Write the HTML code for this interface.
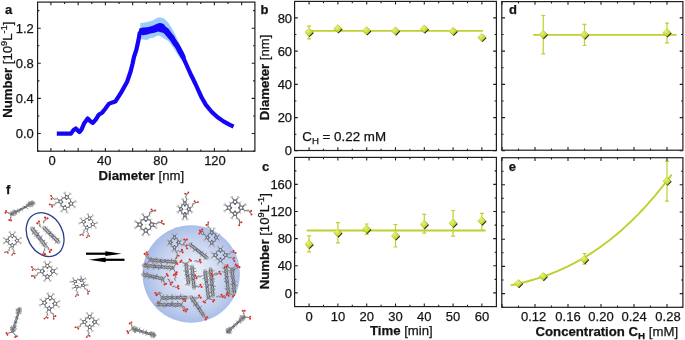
<!DOCTYPE html>
<html><head><meta charset="utf-8"><style>
html,body{margin:0;padding:0;background:#fff;}
svg{display:block;}
text{font-family:"Liberation Sans", Arial, sans-serif;fill:#141414;stroke:#141414;stroke-width:0.25px;}
</style></head><body>
<svg width="685" height="340" viewBox="0 0 685 340">
<defs>
<radialGradient id="mg" cx="0.4" cy="0.38" r="0.7"><stop offset="0" stop-color="#e6f07c"/><stop offset="0.55" stop-color="#cadb3a"/><stop offset="1" stop-color="#a9b91e"/></radialGradient>
<radialGradient id="sg" cx="0.52" cy="0.5" r="0.52"><stop offset="0" stop-color="#f0f3fc"/><stop offset="0.35" stop-color="#dce4f6"/><stop offset="0.75" stop-color="#bfcdee"/><stop offset="1" stop-color="#a6bbe8"/></radialGradient>
<filter id="mb" x="-5%" y="-5%" width="110%" height="110%"><feGaussianBlur stdDeviation="0.3"/></filter>
</defs>
<rect width="685" height="340" fill="#fff"/>
<polygon points="140.3,23 143,22.8 147,21.9 150,21.2 153.4,20.2 156,18.5 158.5,17.3 160,17.4 162,17.8 164,18.6 166,20.2 168.5,23 171.5,27.5 174.5,33 177.5,39.5 180.5,46 183,52 185,57 186,61 182,61 178.5,56 175,50.5 172.5,46.5 170,43 167.5,40.5 165.6,39.4 163.6,38.3 161,36.5 158.5,35.5 156,36.2 153.4,37.8 150.3,38 147.2,40 143.2,39.6 140.3,39.6" fill="#9ccdf8"/>
<polyline points="56.8,133.6 71,133.6 73.6,129.9 75.8,128.5 78,130.7 79.4,132.1 81.6,129.4 84.2,123.2 87.7,118.4 90.4,121.2 92.9,122.9 95.9,119.4 98.8,114.7 102.4,112.4 105.3,108.8 108.8,103.9 112.4,102.4 115.3,101.5 118.2,97.1 121.2,92.4 124.5,86.5 127.1,81.8 130.6,71.5 132.5,64 134.1,56.5 136.3,50 138.5,40 139.6,33.5 141,31.3 144,31.2 147.2,30.8 150.3,30 153.4,29.3 156.5,27.5 159.6,26.8 162.5,27.5 165.6,30.5 169,33.5 172.5,37.5 175.7,43.5 179.5,51.5 183.2,57.6 187,66 191.2,75.3 195.5,84 199.5,92.9 201.8,97.8 205.9,104.9 211.8,112 217.6,117.3 223.5,121.4 229.4,124.7 233.6,126.7" fill="none" stroke="#1405f8" stroke-width="4.2" stroke-linejoin="round" stroke-linecap="butt"/>
<polygon points="139.3,28.6 141,28.1 143.2,27.6 147.2,27.2 150.3,26.5 153.4,25.5 156,24.2 158.5,23.2 160,23 161.5,23.2 163.6,24.1 165.6,26.5 168.8,29 171.5,33 175,38.5 178.8,43.5 180.6,46.5 182.8,50.5 184.8,54.5 186,57.6 181,58 178.5,52.5 175.5,48 173,45 170.5,41 168,38 165.6,35.3 163.6,33 160,31.9 158.5,31.4 156,32.2 153.4,33 150.3,33.6 147.2,34.4 143.2,35.3 141.1,34.8 139,34" fill="#1405f8"/>
<rect x="37.6" y="2.1" width="217.3" height="149.1" fill="none" stroke="#1f1f1f" stroke-width="1.2"/>
<path d="M50.9 151.2v-3.2M50.9 2.1v3.2M78.15 151.2v-3.2M78.15 2.1v3.2M105.4 151.2v-3.2M105.4 2.1v3.2M132.65 151.2v-3.2M132.65 2.1v3.2M159.9 151.2v-3.2M159.9 2.1v3.2M187.15 151.2v-3.2M187.15 2.1v3.2M214.4 151.2v-3.2M214.4 2.1v3.2M241.65 151.2v-3.2M241.65 2.1v3.2M64.53 151.2v-1.8M64.53 2.1v1.8M91.78 151.2v-1.8M91.78 2.1v1.8M119.03 151.2v-1.8M119.03 2.1v1.8M146.28 151.2v-1.8M146.28 2.1v1.8M173.53 151.2v-1.8M173.53 2.1v1.8M200.78 151.2v-1.8M200.78 2.1v1.8M228.03 151.2v-1.8M228.03 2.1v1.8" stroke="#1f1f1f" stroke-width="1.1" fill="none"/>
<path d="M37.6 133.5h3.2M254.9 133.5h-3.2M37.6 98.4h3.2M254.9 98.4h-3.2M37.6 63.3h3.2M254.9 63.3h-3.2M37.6 28.2h3.2M254.9 28.2h-3.2M37.6 151.05h1.8M254.9 151.05h-1.8M37.6 115.95h1.8M254.9 115.95h-1.8M37.6 80.85h1.8M254.9 80.85h-1.8M37.6 45.75h1.8M254.9 45.75h-1.8M37.6 10.65h1.8M254.9 10.65h-1.8" stroke="#1f1f1f" stroke-width="1.1" fill="none"/>
<text x="52" y="165.3" font-size="13" text-anchor="middle" font-weight="normal" >0</text>
<text x="104.3" y="165.3" font-size="13" text-anchor="middle" font-weight="normal" >40</text>
<text x="160.6" y="165.3" font-size="13" text-anchor="middle" font-weight="normal" >80</text>
<text x="215" y="165.3" font-size="13" text-anchor="middle" font-weight="normal" >120</text>
<text x="33.8" y="138.1" font-size="13" text-anchor="end" font-weight="normal" >0.0</text>
<text x="33.8" y="103" font-size="13" text-anchor="end" font-weight="normal" >0.4</text>
<text x="33.8" y="67.9" font-size="13" text-anchor="end" font-weight="normal" >0.8</text>
<text x="33.8" y="32.8" font-size="13" text-anchor="end" font-weight="normal" >1.2</text>
<text x="98.5" y="180.2" font-size="13.2" text-anchor="start" font-weight="normal" ><tspan font-weight="bold">Diameter</tspan> [nm]</text>
<text x="11.6" y="117.7" font-size="13.2" text-anchor="start" font-weight="normal" transform="rotate(-90 11.6 117.7)"><tspan font-weight="bold">Number</tspan> [10<tspan font-size="9.2" dy="-4.6">9</tspan><tspan dy="4.6">L</tspan><tspan font-size="9.2" dy="-4.6">-1</tspan><tspan dy="4.6">]</tspan></text>
<text x="5" y="14" font-size="13" text-anchor="start" font-weight="bold" >a</text>
<line x1="306" y1="30.8" x2="482.9" y2="30.8" stroke="#bfd030" stroke-width="1.8"/>
<path d="M309.1 26.1V38.8M307.1 26.1h4M307.1 38.8h4" stroke="#bfd030" stroke-width="1.2" fill="none"/>
<path d="M309.7 28.8l4.1 4.1l-4.1 4.1l-4.1-4.1z" fill="#1e2008"/>
<path d="M308.9 27.8l4.3 4.3l-4.3 4.3l-4.3-4.3z" fill="url(#mg)"/>
<path d="M338.5 25.3l4.1 4.1l-4.1 4.1l-4.1-4.1z" fill="#1e2008"/>
<path d="M337.7 24.3l4.3 4.3l-4.3 4.3l-4.3-4.3z" fill="url(#mg)"/>
<path d="M367.3 27.3l4.1 4.1l-4.1 4.1l-4.1-4.1z" fill="#1e2008"/>
<path d="M366.5 26.3l4.3 4.3l-4.3 4.3l-4.3-4.3z" fill="url(#mg)"/>
<path d="M396.1 27.5l4.1 4.1l-4.1 4.1l-4.1-4.1z" fill="#1e2008"/>
<path d="M395.3 26.5l4.3 4.3l-4.3 4.3l-4.3-4.3z" fill="url(#mg)"/>
<path d="M424.9 25.5l4.1 4.1l-4.1 4.1l-4.1-4.1z" fill="#1e2008"/>
<path d="M424.1 24.5l4.3 4.3l-4.3 4.3l-4.3-4.3z" fill="url(#mg)"/>
<path d="M453.7 27.8l4.1 4.1l-4.1 4.1l-4.1-4.1z" fill="#1e2008"/>
<path d="M452.9 26.8l4.3 4.3l-4.3 4.3l-4.3-4.3z" fill="url(#mg)"/>
<path d="M482.5 33.9l4.1 4.1l-4.1 4.1l-4.1-4.1z" fill="#1e2008"/>
<path d="M481.7 32.9l4.3 4.3l-4.3 4.3l-4.3-4.3z" fill="url(#mg)"/>
<rect x="294.6" y="1.4" width="201.8" height="149.1" fill="none" stroke="#1f1f1f" stroke-width="1.2"/>
<path d="M309.1 150.5v-3.2M309.1 1.4v3.2M337.9 150.5v-3.2M337.9 1.4v3.2M366.7 150.5v-3.2M366.7 1.4v3.2M395.5 150.5v-3.2M395.5 1.4v3.2M424.3 150.5v-3.2M424.3 1.4v3.2M453.1 150.5v-3.2M453.1 1.4v3.2M481.9 150.5v-3.2M481.9 1.4v3.2M323.5 150.5v-1.8M323.5 1.4v1.8M352.3 150.5v-1.8M352.3 1.4v1.8M381.1 150.5v-1.8M381.1 1.4v1.8M409.9 150.5v-1.8M409.9 1.4v1.8M438.7 150.5v-1.8M438.7 1.4v1.8M467.5 150.5v-1.8M467.5 1.4v1.8" stroke="#1f1f1f" stroke-width="1.1" fill="none"/>
<path d="M294.6 150.8h3.2M496.4 150.8h-3.2M294.6 117.58h3.2M496.4 117.58h-3.2M294.6 84.36h3.2M496.4 84.36h-3.2M294.6 51.14h3.2M496.4 51.14h-3.2M294.6 17.92h3.2M496.4 17.92h-3.2M294.6 134.19h1.8M496.4 134.19h-1.8M294.6 100.97h1.8M496.4 100.97h-1.8M294.6 67.75h1.8M496.4 67.75h-1.8M294.6 34.53h1.8M496.4 34.53h-1.8" stroke="#1f1f1f" stroke-width="1.1" fill="none"/>
<text x="292.1" y="155.4" font-size="13" text-anchor="end" font-weight="normal" >0</text>
<text x="292.1" y="122.18" font-size="13" text-anchor="end" font-weight="normal" >20</text>
<text x="292.1" y="88.96" font-size="13" text-anchor="end" font-weight="normal" >40</text>
<text x="292.1" y="55.74" font-size="13" text-anchor="end" font-weight="normal" >60</text>
<text x="292.1" y="22.52" font-size="13" text-anchor="end" font-weight="normal" >80</text>
<text x="302.3" y="141.2" font-size="13.35" text-anchor="start" font-weight="normal" >C<tspan font-size="9.6" dy="2.5">H</tspan><tspan dy="-2.5"> = 0.22 mM</tspan></text>
<text x="268.9" y="120.3" font-size="13.2" text-anchor="start" font-weight="normal" transform="rotate(-90 268.9 120.3)"><tspan font-weight="bold">Diameter</tspan> [nm]</text>
<text x="260.6" y="14.1" font-size="13" text-anchor="start" font-weight="bold" >b</text>
<line x1="306.8" y1="230.5" x2="485.6" y2="230.5" stroke="#bfd030" stroke-width="1.9"/>
<path d="M309.1 235.8V251.8M307.1 235.8h4M307.1 251.8h4" stroke="#bfd030" stroke-width="1.2" fill="none"/>
<path d="M337.9 222.6V242.8M335.9 222.6h4M335.9 242.8h4" stroke="#bfd030" stroke-width="1.2" fill="none"/>
<path d="M366.7 224V234.4M364.7 224h4M364.7 234.4h4" stroke="#bfd030" stroke-width="1.2" fill="none"/>
<path d="M395.5 224.5V247M393.5 224.5h4M393.5 247h4" stroke="#bfd030" stroke-width="1.2" fill="none"/>
<path d="M424.3 214.3V233.1M422.3 214.3h4M422.3 233.1h4" stroke="#bfd030" stroke-width="1.2" fill="none"/>
<path d="M453.1 210.5V236.2M451.1 210.5h4M451.1 236.2h4" stroke="#bfd030" stroke-width="1.2" fill="none"/>
<path d="M481.9 213.4V230.3M479.9 213.4h4M479.9 230.3h4" stroke="#bfd030" stroke-width="1.2" fill="none"/>
<path d="M309.7 240.8l4.1 4.1l-4.1 4.1l-4.1-4.1z" fill="#1e2008"/>
<path d="M308.9 239.8l4.3 4.3l-4.3 4.3l-4.3-4.3z" fill="url(#mg)"/>
<path d="M338.5 229.5l4.1 4.1l-4.1 4.1l-4.1-4.1z" fill="#1e2008"/>
<path d="M337.7 228.5l4.3 4.3l-4.3 4.3l-4.3-4.3z" fill="url(#mg)"/>
<path d="M367.3 225.8l4.1 4.1l-4.1 4.1l-4.1-4.1z" fill="#1e2008"/>
<path d="M366.5 224.8l4.3 4.3l-4.3 4.3l-4.3-4.3z" fill="url(#mg)"/>
<path d="M396.1 232.4l4.1 4.1l-4.1 4.1l-4.1-4.1z" fill="#1e2008"/>
<path d="M395.3 231.4l4.3 4.3l-4.3 4.3l-4.3-4.3z" fill="url(#mg)"/>
<path d="M424.9 221l4.1 4.1l-4.1 4.1l-4.1-4.1z" fill="#1e2008"/>
<path d="M424.1 220l4.3 4.3l-4.3 4.3l-4.3-4.3z" fill="url(#mg)"/>
<path d="M453.7 219.8l4.1 4.1l-4.1 4.1l-4.1-4.1z" fill="#1e2008"/>
<path d="M452.9 218.8l4.3 4.3l-4.3 4.3l-4.3-4.3z" fill="url(#mg)"/>
<path d="M482.5 217.5l4.1 4.1l-4.1 4.1l-4.1-4.1z" fill="#1e2008"/>
<path d="M481.7 216.5l4.3 4.3l-4.3 4.3l-4.3-4.3z" fill="url(#mg)"/>
<rect x="294.6" y="157.4" width="201.8" height="149.2" fill="none" stroke="#1f1f1f" stroke-width="1.2"/>
<path d="M309.1 306.6v-3.2M309.1 157.4v3.2M337.9 306.6v-3.2M337.9 157.4v3.2M366.7 306.6v-3.2M366.7 157.4v3.2M395.5 306.6v-3.2M395.5 157.4v3.2M424.3 306.6v-3.2M424.3 157.4v3.2M453.1 306.6v-3.2M453.1 157.4v3.2M481.9 306.6v-3.2M481.9 157.4v3.2M323.5 306.6v-1.8M323.5 157.4v1.8M352.3 306.6v-1.8M352.3 157.4v1.8M381.1 306.6v-1.8M381.1 157.4v1.8M409.9 306.6v-1.8M409.9 157.4v1.8M438.7 306.6v-1.8M438.7 157.4v1.8M467.5 306.6v-1.8M467.5 157.4v1.8" stroke="#1f1f1f" stroke-width="1.1" fill="none"/>
<path d="M294.6 292.9h3.2M496.4 292.9h-3.2M294.6 265.78h3.2M496.4 265.78h-3.2M294.6 238.66h3.2M496.4 238.66h-3.2M294.6 211.54h3.2M496.4 211.54h-3.2M294.6 184.42h3.2M496.4 184.42h-3.2M294.6 306.46h1.8M496.4 306.46h-1.8M294.6 279.34h1.8M496.4 279.34h-1.8M294.6 252.22h1.8M496.4 252.22h-1.8M294.6 225.1h1.8M496.4 225.1h-1.8M294.6 197.98h1.8M496.4 197.98h-1.8M294.6 170.86h1.8M496.4 170.86h-1.8" stroke="#1f1f1f" stroke-width="1.1" fill="none"/>
<text x="292.1" y="297.5" font-size="13" text-anchor="end" font-weight="normal" >0</text>
<text x="292.1" y="270.38" font-size="13" text-anchor="end" font-weight="normal" >40</text>
<text x="292.1" y="243.26" font-size="13" text-anchor="end" font-weight="normal" >80</text>
<text x="292.1" y="216.14" font-size="13" text-anchor="end" font-weight="normal" >120</text>
<text x="292.1" y="189.02" font-size="13" text-anchor="end" font-weight="normal" >160</text>
<text x="309.1" y="321" font-size="13" text-anchor="middle" font-weight="normal" >0</text>
<text x="337.9" y="321" font-size="13" text-anchor="middle" font-weight="normal" >10</text>
<text x="366.7" y="321" font-size="13" text-anchor="middle" font-weight="normal" >20</text>
<text x="395.5" y="321" font-size="13" text-anchor="middle" font-weight="normal" >30</text>
<text x="424.3" y="321" font-size="13" text-anchor="middle" font-weight="normal" >40</text>
<text x="453.1" y="321" font-size="13" text-anchor="middle" font-weight="normal" >50</text>
<text x="481.9" y="321" font-size="13" text-anchor="middle" font-weight="normal" >60</text>
<text x="370" y="335.3" font-size="13.2" text-anchor="start" font-weight="normal" ><tspan font-weight="bold">Time</tspan> [min]</text>
<text x="268.9" y="289.3" font-size="13.2" text-anchor="start" font-weight="normal" transform="rotate(-90 268.9 289.3)"><tspan font-weight="bold">Number</tspan> [10<tspan font-size="9.2" dy="-4.6">9</tspan><tspan dy="4.6">L</tspan><tspan font-size="9.2" dy="-4.6">-1</tspan><tspan dy="4.6">]</tspan></text>
<text x="262" y="171" font-size="13" text-anchor="start" font-weight="bold" >c</text>
<line x1="533.2" y1="34.9" x2="676.5" y2="34.9" stroke="#bfd030" stroke-width="1.9"/>
<path d="M543.25 15.5V53.8M541.25 15.5h4M541.25 53.8h4" stroke="#bfd030" stroke-width="1.2" fill="none"/>
<path d="M584.5 24.3V45.5M582.5 24.3h4M582.5 45.5h4" stroke="#bfd030" stroke-width="1.2" fill="none"/>
<path d="M667 23.2V42.9M665 23.2h4M665 42.9h4" stroke="#bfd030" stroke-width="1.2" fill="none"/>
<path d="M543.85 31l4.1 4.1l-4.1 4.1l-4.1-4.1z" fill="#1e2008"/>
<path d="M543.05 30l4.3 4.3l-4.3 4.3l-4.3-4.3z" fill="url(#mg)"/>
<path d="M585.1 31.5l4.1 4.1l-4.1 4.1l-4.1-4.1z" fill="#1e2008"/>
<path d="M584.3 30.5l4.3 4.3l-4.3 4.3l-4.3-4.3z" fill="url(#mg)"/>
<path d="M667.6 29.2l4.1 4.1l-4.1 4.1l-4.1-4.1z" fill="#1e2008"/>
<path d="M666.8 28.2l4.3 4.3l-4.3 4.3l-4.3-4.3z" fill="url(#mg)"/>
<rect x="501.8" y="1.6" width="181.1" height="148.6" fill="none" stroke="#1f1f1f" stroke-width="1.2"/>
<path d="M502 150.2v-3.2M502 1.6v3.2M535 150.2v-3.2M535 1.6v3.2M568 150.2v-3.2M568 1.6v3.2M601 150.2v-3.2M601 1.6v3.2M634 150.2v-3.2M634 1.6v3.2M667 150.2v-3.2M667 1.6v3.2M518.5 150.2v-1.8M518.5 1.6v1.8M551.5 150.2v-1.8M551.5 1.6v1.8M584.5 150.2v-1.8M584.5 1.6v1.8M617.5 150.2v-1.8M617.5 1.6v1.8M650.5 150.2v-1.8M650.5 1.6v1.8" stroke="#1f1f1f" stroke-width="1.1" fill="none"/>
<path d="M501.8 150.8h3.2M682.9 150.8h-3.2M501.8 117.58h3.2M682.9 117.58h-3.2M501.8 84.36h3.2M682.9 84.36h-3.2M501.8 51.14h3.2M682.9 51.14h-3.2M501.8 17.92h3.2M682.9 17.92h-3.2M501.8 134.19h1.8M682.9 134.19h-1.8M501.8 100.97h1.8M682.9 100.97h-1.8M501.8 67.75h1.8M682.9 67.75h-1.8M501.8 34.53h1.8M682.9 34.53h-1.8" stroke="#1f1f1f" stroke-width="1.1" fill="none"/>
<text x="509" y="14" font-size="13" text-anchor="start" font-weight="bold" >d</text>
<polyline points="510.6,285.35 513.33,284.79 516.06,284.2 518.79,283.58 521.52,282.94 524.24,282.26 526.97,281.54 529.7,280.79 532.43,280.01 535.16,279.2 537.89,278.34 540.62,277.45 543.35,276.52 546.07,275.56 548.8,274.55 551.53,273.5 554.26,272.41 556.99,271.28 559.72,270.11 562.45,268.89 565.18,267.63 567.91,266.32 570.63,264.96 573.36,263.56 576.09,262.11 578.82,260.61 581.55,259.06 584.28,257.47 587.01,255.82 589.74,254.11 592.46,252.36 595.19,250.55 597.92,248.68 600.65,246.76 603.38,244.79 606.11,242.75 608.84,240.66 611.57,238.51 614.29,236.3 617.02,234.03 619.75,231.7 622.48,229.3 625.21,226.84 627.94,224.32 630.67,221.73 633.4,219.08 636.13,216.36 638.85,213.57 641.58,210.72 644.31,207.8 647.04,204.8 649.77,201.74 652.5,198.6 655.23,195.39 657.96,192.11 660.68,188.75 663.41,185.32 666.14,181.82 668.87,178.23 671.6,174.57" fill="none" stroke="#bfd030" stroke-width="1.9"/>
<path d="M584.5 253.5V264.1M582.5 253.5h4M582.5 264.1h4" stroke="#bfd030" stroke-width="1.2" fill="none"/>
<path d="M667 161.4V201.1M665 161.4h4M665 201.1h4" stroke="#bfd030" stroke-width="1.2" fill="none"/>
<path d="M519.1 280l4.1 4.1l-4.1 4.1l-4.1-4.1z" fill="#1e2008"/>
<path d="M518.3 279l4.3 4.3l-4.3 4.3l-4.3-4.3z" fill="url(#mg)"/>
<path d="M543.85 273l4.1 4.1l-4.1 4.1l-4.1-4.1z" fill="#1e2008"/>
<path d="M543.05 272l4.3 4.3l-4.3 4.3l-4.3-4.3z" fill="url(#mg)"/>
<path d="M585.1 256l4.1 4.1l-4.1 4.1l-4.1-4.1z" fill="#1e2008"/>
<path d="M584.3 255l4.3 4.3l-4.3 4.3l-4.3-4.3z" fill="url(#mg)"/>
<path d="M667.6 177.6l4.1 4.1l-4.1 4.1l-4.1-4.1z" fill="#1e2008"/>
<path d="M666.8 176.6l4.3 4.3l-4.3 4.3l-4.3-4.3z" fill="url(#mg)"/>
<rect x="501.8" y="157.7" width="181.1" height="149.6" fill="none" stroke="#1f1f1f" stroke-width="1.2"/>
<path d="M502 307.3v-3.2M502 157.7v3.2M535 307.3v-3.2M535 157.7v3.2M568 307.3v-3.2M568 157.7v3.2M601 307.3v-3.2M601 157.7v3.2M634 307.3v-3.2M634 157.7v3.2M667 307.3v-3.2M667 157.7v3.2M518.5 307.3v-1.8M518.5 157.7v1.8M551.5 307.3v-1.8M551.5 157.7v1.8M584.5 307.3v-1.8M584.5 157.7v1.8M617.5 307.3v-1.8M617.5 157.7v1.8M650.5 307.3v-1.8M650.5 157.7v1.8" stroke="#1f1f1f" stroke-width="1.1" fill="none"/>
<path d="M501.8 293.6h3.2M682.9 293.6h-3.2M501.8 266.4h3.2M682.9 266.4h-3.2M501.8 239.2h3.2M682.9 239.2h-3.2M501.8 212h3.2M682.9 212h-3.2M501.8 184.8h3.2M682.9 184.8h-3.2M501.8 307.2h1.8M682.9 307.2h-1.8M501.8 280h1.8M682.9 280h-1.8M501.8 252.8h1.8M682.9 252.8h-1.8M501.8 225.6h1.8M682.9 225.6h-1.8M501.8 198.4h1.8M682.9 198.4h-1.8M501.8 171.2h1.8M682.9 171.2h-1.8" stroke="#1f1f1f" stroke-width="1.1" fill="none"/>
<text x="533.6" y="321" font-size="13" text-anchor="middle" font-weight="normal" >0.12</text>
<text x="568" y="321" font-size="13" text-anchor="middle" font-weight="normal" >0.16</text>
<text x="601" y="321" font-size="13" text-anchor="middle" font-weight="normal" >0.20</text>
<text x="634.2" y="321" font-size="13" text-anchor="middle" font-weight="normal" >0.24</text>
<text x="668" y="321" font-size="13" text-anchor="middle" font-weight="normal" >0.28</text>
<text x="535.5" y="336" font-size="13.2" text-anchor="start" font-weight="normal" ><tspan font-weight="bold">Concentration C<tspan font-size="9.8" dy="2.6">H</tspan></tspan><tspan dy="-2.6"> [mM]</tspan></text>
<text x="508.8" y="171" font-size="13" text-anchor="start" font-weight="bold" >e</text>
<text x="5.9" y="193.6" font-size="13" text-anchor="start" font-weight="bold" >f</text>
<circle cx="191.2" cy="274" r="48.7" fill="url(#sg)"/>
<ellipse cx="45.1" cy="234.6" rx="17.6" ry="23" transform="rotate(-28 45.1 234.6)" fill="none" stroke="#2c3e8c" stroke-width="1.3"/>
<path d="M86 253.7H106" stroke="#000" stroke-width="2.2"/>
<path d="M105.3 251.3L121.6 253.7L105.3 256.1Z" fill="#000"/>
<path d="M105 259.8H124.5" stroke="#000" stroke-width="2.2"/>
<path d="M105.6 257.4L88.8 259.8L105.6 262.2Z" fill="#000"/>
<g filter="url(#mb)">
<line x1="69.1" y1="203.2" x2="70.1" y2="205.2" stroke="#747474" stroke-width="1" stroke-linecap="round"/>
<line x1="69.1" y1="203.2" x2="70.7" y2="201.7" stroke="#747474" stroke-width="1" stroke-linecap="round"/>
<line x1="70.1" y1="205.2" x2="72.4" y2="204.9" stroke="#747474" stroke-width="1" stroke-linecap="round"/>
<line x1="70.7" y1="201.7" x2="72.8" y2="202.7" stroke="#747474" stroke-width="1" stroke-linecap="round"/>
<line x1="72.4" y1="204.9" x2="72.8" y2="202.7" stroke="#747474" stroke-width="1" stroke-linecap="round"/>
<line x1="70.1" y1="205.2" x2="69" y2="207.2" stroke="#747474" stroke-width="1" stroke-linecap="round"/>
<line x1="69" y1="207.2" x2="66.7" y2="207.5" stroke="#747474" stroke-width="1" stroke-linecap="round"/>
<line x1="65.2" y1="205.9" x2="63.2" y2="206.9" stroke="#747474" stroke-width="1" stroke-linecap="round"/>
<line x1="65.2" y1="205.9" x2="66.7" y2="207.5" stroke="#747474" stroke-width="1" stroke-linecap="round"/>
<line x1="63.2" y1="206.9" x2="63.5" y2="209.2" stroke="#747474" stroke-width="1" stroke-linecap="round"/>
<line x1="66.7" y1="207.5" x2="65.7" y2="209.6" stroke="#747474" stroke-width="1" stroke-linecap="round"/>
<line x1="63.5" y1="209.2" x2="65.7" y2="209.6" stroke="#747474" stroke-width="1" stroke-linecap="round"/>
<line x1="63.2" y1="206.9" x2="61.2" y2="205.8" stroke="#747474" stroke-width="1" stroke-linecap="round"/>
<line x1="61.2" y1="205.8" x2="60.9" y2="203.5" stroke="#747474" stroke-width="1" stroke-linecap="round"/>
<line x1="62.5" y1="202" x2="61.5" y2="200" stroke="#747474" stroke-width="1" stroke-linecap="round"/>
<line x1="62.5" y1="202" x2="60.9" y2="203.5" stroke="#747474" stroke-width="1" stroke-linecap="round"/>
<line x1="61.5" y1="200" x2="59.2" y2="200.3" stroke="#747474" stroke-width="1" stroke-linecap="round"/>
<line x1="60.9" y1="203.5" x2="58.8" y2="202.5" stroke="#747474" stroke-width="1" stroke-linecap="round"/>
<line x1="59.2" y1="200.3" x2="58.8" y2="202.5" stroke="#747474" stroke-width="1" stroke-linecap="round"/>
<line x1="61.5" y1="200" x2="62.6" y2="198" stroke="#747474" stroke-width="1" stroke-linecap="round"/>
<line x1="62.6" y1="198" x2="64.9" y2="197.7" stroke="#747474" stroke-width="1" stroke-linecap="round"/>
<line x1="66.4" y1="199.3" x2="68.4" y2="198.3" stroke="#747474" stroke-width="1" stroke-linecap="round"/>
<line x1="66.4" y1="199.3" x2="64.9" y2="197.7" stroke="#747474" stroke-width="1" stroke-linecap="round"/>
<line x1="68.4" y1="198.3" x2="68.1" y2="196" stroke="#747474" stroke-width="1" stroke-linecap="round"/>
<line x1="64.9" y1="197.7" x2="65.9" y2="195.6" stroke="#747474" stroke-width="1" stroke-linecap="round"/>
<line x1="68.1" y1="196" x2="65.9" y2="195.6" stroke="#747474" stroke-width="1" stroke-linecap="round"/>
<line x1="68.4" y1="198.3" x2="70.4" y2="199.4" stroke="#747474" stroke-width="1" stroke-linecap="round"/>
<line x1="70.4" y1="199.4" x2="70.7" y2="201.7" stroke="#747474" stroke-width="1" stroke-linecap="round"/>
<circle cx="58.8" cy="202.5" r="0.7" fill="#7a7a7a"/>
<circle cx="65.7" cy="209.6" r="0.7" fill="#7a7a7a"/>
<circle cx="62.6" cy="198" r="0.7" fill="#7a7a7a"/>
<circle cx="69.1" cy="203.2" r="0.7" fill="#7a7a7a"/>
<circle cx="72.4" cy="204.9" r="0.7" fill="#7a7a7a"/>
<circle cx="66.4" cy="199.3" r="0.7" fill="#7a7a7a"/>
<circle cx="70.4" cy="199.4" r="0.7" fill="#7a7a7a"/>
<circle cx="61.2" cy="205.8" r="0.7" fill="#7a7a7a"/>
<circle cx="59.2" cy="200.3" r="0.7" fill="#7a7a7a"/>
<circle cx="62.5" cy="202" r="0.7" fill="#7a7a7a"/>
<circle cx="69" cy="207.2" r="0.7" fill="#7a7a7a"/>
<circle cx="65.2" cy="205.9" r="0.7" fill="#7a7a7a"/>
<circle cx="72.8" cy="202.7" r="0.7" fill="#7a7a7a"/>
<circle cx="65.9" cy="195.6" r="0.7" fill="#7a7a7a"/>
<circle cx="63.2" cy="206.9" r="0.7" fill="#7a7a7a"/>
<circle cx="64.9" cy="197.7" r="0.7" fill="#7a7a7a"/>
<circle cx="68.1" cy="196" r="0.7" fill="#7a7a7a"/>
<circle cx="70.7" cy="201.7" r="0.7" fill="#7a7a7a"/>
<circle cx="70.1" cy="205.2" r="0.7" fill="#7a7a7a"/>
<circle cx="63.5" cy="209.2" r="0.7" fill="#7a7a7a"/>
<circle cx="66.7" cy="207.5" r="0.7" fill="#7a7a7a"/>
<circle cx="68.4" cy="198.3" r="0.7" fill="#7a7a7a"/>
<circle cx="61.5" cy="200" r="0.7" fill="#7a7a7a"/>
<circle cx="60.9" cy="203.5" r="0.7" fill="#7a7a7a"/>
<line x1="69" y1="207.2" x2="70.3" y2="209" stroke="#b8b8b8" stroke-width="0.8" stroke-linecap="round"/>
<line x1="61.2" y1="205.8" x2="59.4" y2="207.1" stroke="#b8b8b8" stroke-width="0.8" stroke-linecap="round"/>
<line x1="62.6" y1="198" x2="61.3" y2="196.2" stroke="#b8b8b8" stroke-width="0.8" stroke-linecap="round"/>
<line x1="70.4" y1="199.4" x2="72.2" y2="198.1" stroke="#b8b8b8" stroke-width="0.8" stroke-linecap="round"/>
<line x1="72.4" y1="204.9" x2="74.3" y2="206.7" stroke="#747474" stroke-width="1" stroke-linecap="round"/>
<line x1="74.3" y1="206.7" x2="75.7" y2="206.5" stroke="#b8b8b8" stroke-width="0.8" stroke-linecap="round"/>
<line x1="74.3" y1="206.7" x2="75.3" y2="207.7" stroke="#b8b8b8" stroke-width="0.8" stroke-linecap="round"/>
<line x1="74.3" y1="206.7" x2="74.1" y2="208.1" stroke="#b8b8b8" stroke-width="0.8" stroke-linecap="round"/>
<line x1="72.8" y1="202.7" x2="75.2" y2="201.6" stroke="#747474" stroke-width="1" stroke-linecap="round"/>
<line x1="75.2" y1="201.6" x2="75.5" y2="200.2" stroke="#b8b8b8" stroke-width="0.8" stroke-linecap="round"/>
<line x1="75.2" y1="201.6" x2="76.5" y2="201" stroke="#b8b8b8" stroke-width="0.8" stroke-linecap="round"/>
<line x1="75.2" y1="201.6" x2="76.4" y2="202.3" stroke="#b8b8b8" stroke-width="0.8" stroke-linecap="round"/>
<line x1="63.5" y1="209.2" x2="61.7" y2="211.1" stroke="#747474" stroke-width="1" stroke-linecap="round"/>
<line x1="61.7" y1="211.1" x2="61.9" y2="212.5" stroke="#b8b8b8" stroke-width="0.8" stroke-linecap="round"/>
<line x1="61.7" y1="211.1" x2="60.7" y2="212.1" stroke="#b8b8b8" stroke-width="0.8" stroke-linecap="round"/>
<line x1="61.7" y1="211.1" x2="60.3" y2="210.9" stroke="#b8b8b8" stroke-width="0.8" stroke-linecap="round"/>
<line x1="65.7" y1="209.6" x2="66.8" y2="212" stroke="#747474" stroke-width="1" stroke-linecap="round"/>
<line x1="66.8" y1="212" x2="68.2" y2="212.3" stroke="#b8b8b8" stroke-width="0.8" stroke-linecap="round"/>
<line x1="66.8" y1="212" x2="67.4" y2="213.3" stroke="#b8b8b8" stroke-width="0.8" stroke-linecap="round"/>
<line x1="66.8" y1="212" x2="66.1" y2="213.2" stroke="#b8b8b8" stroke-width="0.8" stroke-linecap="round"/>
<line x1="59.2" y1="200.3" x2="57.1" y2="198.8" stroke="#747474" stroke-width="0.9" stroke-linecap="round"/>
<line x1="57.1" y1="198.8" x2="54.3" y2="199.3" stroke="#747474" stroke-width="0.9" stroke-linecap="round"/>
<line x1="54.3" y1="199.3" x2="52.3" y2="197.4" stroke="#747474" stroke-width="0.9" stroke-linecap="round"/>
<line x1="57.1" y1="198.8" x2="57.5" y2="197.4" stroke="#b8b8b8" stroke-width="0.7" stroke-linecap="round"/>
<line x1="54.3" y1="199.3" x2="54.7" y2="197.9" stroke="#b8b8b8" stroke-width="0.7" stroke-linecap="round"/>
<line x1="52.3" y1="197.4" x2="51.1" y2="195.7" stroke="#747474" stroke-width="0.9" stroke-linecap="round"/>
<line x1="52.3" y1="197.4" x2="51.5" y2="199" stroke="#747474" stroke-width="0.9" stroke-linecap="round"/>
<line x1="58.8" y1="202.5" x2="56.2" y2="202.8" stroke="#747474" stroke-width="0.9" stroke-linecap="round"/>
<line x1="56.2" y1="202.8" x2="54.5" y2="205" stroke="#747474" stroke-width="0.9" stroke-linecap="round"/>
<line x1="54.5" y1="205" x2="51.7" y2="204.9" stroke="#747474" stroke-width="0.9" stroke-linecap="round"/>
<line x1="56.2" y1="202.8" x2="55.6" y2="201.5" stroke="#b8b8b8" stroke-width="0.7" stroke-linecap="round"/>
<line x1="54.5" y1="205" x2="53.9" y2="203.7" stroke="#b8b8b8" stroke-width="0.7" stroke-linecap="round"/>
<line x1="51.7" y1="204.9" x2="49.7" y2="204.4" stroke="#747474" stroke-width="0.9" stroke-linecap="round"/>
<line x1="51.7" y1="204.9" x2="52.2" y2="206.7" stroke="#747474" stroke-width="0.9" stroke-linecap="round"/>
<line x1="68.1" y1="196" x2="69.9" y2="194.1" stroke="#747474" stroke-width="1" stroke-linecap="round"/>
<line x1="69.9" y1="194.1" x2="69.7" y2="192.7" stroke="#b8b8b8" stroke-width="0.8" stroke-linecap="round"/>
<line x1="69.9" y1="194.1" x2="70.9" y2="193.1" stroke="#b8b8b8" stroke-width="0.8" stroke-linecap="round"/>
<line x1="69.9" y1="194.1" x2="71.3" y2="194.3" stroke="#b8b8b8" stroke-width="0.8" stroke-linecap="round"/>
<line x1="65.9" y1="195.6" x2="64.8" y2="193.2" stroke="#747474" stroke-width="1" stroke-linecap="round"/>
<line x1="64.8" y1="193.2" x2="63.4" y2="192.9" stroke="#b8b8b8" stroke-width="0.8" stroke-linecap="round"/>
<line x1="64.8" y1="193.2" x2="64.2" y2="191.9" stroke="#b8b8b8" stroke-width="0.8" stroke-linecap="round"/>
<line x1="64.8" y1="193.2" x2="65.5" y2="192" stroke="#b8b8b8" stroke-width="0.8" stroke-linecap="round"/>
<circle cx="69.1" cy="203.2" r="0.7" fill="#3a4fd0"/>
<circle cx="65.2" cy="205.9" r="0.7" fill="#3a4fd0"/>
<circle cx="62.5" cy="202" r="0.7" fill="#3a4fd0"/>
<circle cx="66.4" cy="199.3" r="0.7" fill="#3a4fd0"/>
<circle cx="65.8" cy="202.6" r="0.8" fill="#dde84a"/>
<circle cx="51.1" cy="195.7" r="0.9" fill="#e8281e"/>
<circle cx="51.5" cy="199" r="0.9" fill="#e8281e"/>
<circle cx="49.7" cy="204.4" r="0.9" fill="#e8281e"/>
<circle cx="52.2" cy="206.7" r="0.9" fill="#e8281e"/>
<line x1="15.3" y1="240.6" x2="16.5" y2="242.2" stroke="#747474" stroke-width="0.9" stroke-linecap="round"/>
<line x1="15.3" y1="240.6" x2="16.5" y2="239" stroke="#747474" stroke-width="0.9" stroke-linecap="round"/>
<line x1="16.5" y1="242.2" x2="18.4" y2="241.6" stroke="#747474" stroke-width="0.9" stroke-linecap="round"/>
<line x1="16.5" y1="239" x2="18.4" y2="239.6" stroke="#747474" stroke-width="0.9" stroke-linecap="round"/>
<line x1="18.4" y1="241.6" x2="18.4" y2="239.6" stroke="#747474" stroke-width="0.9" stroke-linecap="round"/>
<line x1="16.5" y1="242.2" x2="15.8" y2="244.1" stroke="#747474" stroke-width="0.9" stroke-linecap="round"/>
<line x1="15.8" y1="244.1" x2="13.9" y2="244.8" stroke="#747474" stroke-width="0.9" stroke-linecap="round"/>
<line x1="12.3" y1="243.6" x2="10.7" y2="244.8" stroke="#747474" stroke-width="0.9" stroke-linecap="round"/>
<line x1="12.3" y1="243.6" x2="13.9" y2="244.8" stroke="#747474" stroke-width="0.9" stroke-linecap="round"/>
<line x1="10.7" y1="244.8" x2="11.3" y2="246.7" stroke="#747474" stroke-width="0.9" stroke-linecap="round"/>
<line x1="13.9" y1="244.8" x2="13.3" y2="246.7" stroke="#747474" stroke-width="0.9" stroke-linecap="round"/>
<line x1="11.3" y1="246.7" x2="13.3" y2="246.7" stroke="#747474" stroke-width="0.9" stroke-linecap="round"/>
<line x1="10.7" y1="244.8" x2="8.8" y2="244.1" stroke="#747474" stroke-width="0.9" stroke-linecap="round"/>
<line x1="8.8" y1="244.1" x2="8.1" y2="242.2" stroke="#747474" stroke-width="0.9" stroke-linecap="round"/>
<line x1="9.3" y1="240.6" x2="8.1" y2="239" stroke="#747474" stroke-width="0.9" stroke-linecap="round"/>
<line x1="9.3" y1="240.6" x2="8.1" y2="242.2" stroke="#747474" stroke-width="0.9" stroke-linecap="round"/>
<line x1="8.1" y1="239" x2="6.2" y2="239.6" stroke="#747474" stroke-width="0.9" stroke-linecap="round"/>
<line x1="8.1" y1="242.2" x2="6.2" y2="241.6" stroke="#747474" stroke-width="0.9" stroke-linecap="round"/>
<line x1="6.2" y1="239.6" x2="6.2" y2="241.6" stroke="#747474" stroke-width="0.9" stroke-linecap="round"/>
<line x1="8.1" y1="239" x2="8.8" y2="237.1" stroke="#747474" stroke-width="0.9" stroke-linecap="round"/>
<line x1="8.8" y1="237.1" x2="10.7" y2="236.4" stroke="#747474" stroke-width="0.9" stroke-linecap="round"/>
<line x1="12.3" y1="237.6" x2="13.9" y2="236.4" stroke="#747474" stroke-width="0.9" stroke-linecap="round"/>
<line x1="12.3" y1="237.6" x2="10.7" y2="236.4" stroke="#747474" stroke-width="0.9" stroke-linecap="round"/>
<line x1="13.9" y1="236.4" x2="13.3" y2="234.5" stroke="#747474" stroke-width="0.9" stroke-linecap="round"/>
<line x1="10.7" y1="236.4" x2="11.3" y2="234.5" stroke="#747474" stroke-width="0.9" stroke-linecap="round"/>
<line x1="13.3" y1="234.5" x2="11.3" y2="234.5" stroke="#747474" stroke-width="0.9" stroke-linecap="round"/>
<line x1="13.9" y1="236.4" x2="15.8" y2="237.1" stroke="#747474" stroke-width="0.9" stroke-linecap="round"/>
<line x1="15.8" y1="237.1" x2="16.5" y2="239" stroke="#747474" stroke-width="0.9" stroke-linecap="round"/>
<circle cx="6.2" cy="241.6" r="0.6" fill="#7a7a7a"/>
<circle cx="13.3" cy="246.7" r="0.6" fill="#7a7a7a"/>
<circle cx="8.8" cy="237.1" r="0.6" fill="#7a7a7a"/>
<circle cx="15.3" cy="240.6" r="0.6" fill="#7a7a7a"/>
<circle cx="18.4" cy="241.6" r="0.6" fill="#7a7a7a"/>
<circle cx="12.3" cy="237.6" r="0.6" fill="#7a7a7a"/>
<circle cx="15.8" cy="237.1" r="0.6" fill="#7a7a7a"/>
<circle cx="8.8" cy="244.1" r="0.6" fill="#7a7a7a"/>
<circle cx="6.2" cy="239.6" r="0.6" fill="#7a7a7a"/>
<circle cx="9.3" cy="240.6" r="0.6" fill="#7a7a7a"/>
<circle cx="15.8" cy="244.1" r="0.6" fill="#7a7a7a"/>
<circle cx="12.3" cy="243.6" r="0.6" fill="#7a7a7a"/>
<circle cx="18.4" cy="239.6" r="0.6" fill="#7a7a7a"/>
<circle cx="11.3" cy="234.5" r="0.6" fill="#7a7a7a"/>
<circle cx="10.7" cy="244.8" r="0.6" fill="#7a7a7a"/>
<circle cx="10.7" cy="236.4" r="0.6" fill="#7a7a7a"/>
<circle cx="13.3" cy="234.5" r="0.6" fill="#7a7a7a"/>
<circle cx="16.5" cy="239" r="0.6" fill="#7a7a7a"/>
<circle cx="16.5" cy="242.2" r="0.6" fill="#7a7a7a"/>
<circle cx="11.3" cy="246.7" r="0.6" fill="#7a7a7a"/>
<circle cx="13.9" cy="244.8" r="0.6" fill="#7a7a7a"/>
<circle cx="13.9" cy="236.4" r="0.6" fill="#7a7a7a"/>
<circle cx="8.1" cy="239" r="0.6" fill="#7a7a7a"/>
<circle cx="8.1" cy="242.2" r="0.6" fill="#7a7a7a"/>
<line x1="15.8" y1="244.1" x2="17.2" y2="245.5" stroke="#b8b8b8" stroke-width="0.7" stroke-linecap="round"/>
<line x1="8.8" y1="244.1" x2="7.4" y2="245.5" stroke="#b8b8b8" stroke-width="0.7" stroke-linecap="round"/>
<line x1="8.8" y1="237.1" x2="7.4" y2="235.7" stroke="#b8b8b8" stroke-width="0.7" stroke-linecap="round"/>
<line x1="15.8" y1="237.1" x2="17.2" y2="235.7" stroke="#b8b8b8" stroke-width="0.7" stroke-linecap="round"/>
<line x1="18.4" y1="241.6" x2="20.4" y2="242.9" stroke="#747474" stroke-width="0.9" stroke-linecap="round"/>
<line x1="20.4" y1="242.9" x2="21.6" y2="242.5" stroke="#b8b8b8" stroke-width="0.7" stroke-linecap="round"/>
<line x1="20.4" y1="242.9" x2="21.4" y2="243.6" stroke="#b8b8b8" stroke-width="0.7" stroke-linecap="round"/>
<line x1="20.4" y1="242.9" x2="20.5" y2="244.2" stroke="#b8b8b8" stroke-width="0.7" stroke-linecap="round"/>
<line x1="18.4" y1="239.6" x2="20.4" y2="238.3" stroke="#747474" stroke-width="0.9" stroke-linecap="round"/>
<line x1="20.4" y1="238.3" x2="20.5" y2="237" stroke="#b8b8b8" stroke-width="0.7" stroke-linecap="round"/>
<line x1="20.4" y1="238.3" x2="21.4" y2="237.6" stroke="#b8b8b8" stroke-width="0.7" stroke-linecap="round"/>
<line x1="20.4" y1="238.3" x2="21.6" y2="238.7" stroke="#b8b8b8" stroke-width="0.7" stroke-linecap="round"/>
<line x1="11.3" y1="246.7" x2="9.4" y2="248.1" stroke="#747474" stroke-width="0.8" stroke-linecap="round"/>
<line x1="9.4" y1="248.1" x2="9" y2="250.6" stroke="#747474" stroke-width="0.8" stroke-linecap="round"/>
<line x1="9" y1="250.6" x2="6.8" y2="251.8" stroke="#747474" stroke-width="0.8" stroke-linecap="round"/>
<line x1="9.4" y1="248.1" x2="8.4" y2="247.4" stroke="#b8b8b8" stroke-width="0.6" stroke-linecap="round"/>
<line x1="9" y1="250.6" x2="8" y2="249.9" stroke="#b8b8b8" stroke-width="0.6" stroke-linecap="round"/>
<line x1="6.8" y1="251.8" x2="5" y2="252.2" stroke="#747474" stroke-width="0.8" stroke-linecap="round"/>
<line x1="6.8" y1="251.8" x2="7.9" y2="252.9" stroke="#747474" stroke-width="0.8" stroke-linecap="round"/>
<line x1="13.3" y1="246.7" x2="12.8" y2="249" stroke="#747474" stroke-width="0.8" stroke-linecap="round"/>
<line x1="12.8" y1="249" x2="14.1" y2="251.2" stroke="#747474" stroke-width="0.8" stroke-linecap="round"/>
<line x1="14.1" y1="251.2" x2="13.1" y2="253.5" stroke="#747474" stroke-width="0.8" stroke-linecap="round"/>
<line x1="12.8" y1="249" x2="11.5" y2="249.1" stroke="#b8b8b8" stroke-width="0.6" stroke-linecap="round"/>
<line x1="14.1" y1="251.2" x2="12.8" y2="251.3" stroke="#b8b8b8" stroke-width="0.6" stroke-linecap="round"/>
<line x1="13.1" y1="253.5" x2="12.1" y2="255" stroke="#747474" stroke-width="0.8" stroke-linecap="round"/>
<line x1="13.1" y1="253.5" x2="14.8" y2="253.6" stroke="#747474" stroke-width="0.8" stroke-linecap="round"/>
<line x1="6.2" y1="239.6" x2="4.2" y2="238.3" stroke="#747474" stroke-width="0.9" stroke-linecap="round"/>
<line x1="4.2" y1="238.3" x2="3" y2="238.7" stroke="#b8b8b8" stroke-width="0.7" stroke-linecap="round"/>
<line x1="4.2" y1="238.3" x2="3.2" y2="237.6" stroke="#b8b8b8" stroke-width="0.7" stroke-linecap="round"/>
<line x1="4.2" y1="238.3" x2="4.1" y2="237" stroke="#b8b8b8" stroke-width="0.7" stroke-linecap="round"/>
<line x1="6.2" y1="241.6" x2="4.2" y2="242.9" stroke="#747474" stroke-width="0.9" stroke-linecap="round"/>
<line x1="4.2" y1="242.9" x2="4.1" y2="244.2" stroke="#b8b8b8" stroke-width="0.7" stroke-linecap="round"/>
<line x1="4.2" y1="242.9" x2="3.2" y2="243.6" stroke="#b8b8b8" stroke-width="0.7" stroke-linecap="round"/>
<line x1="4.2" y1="242.9" x2="3" y2="242.5" stroke="#b8b8b8" stroke-width="0.7" stroke-linecap="round"/>
<line x1="13.3" y1="234.5" x2="14.6" y2="232.5" stroke="#747474" stroke-width="0.9" stroke-linecap="round"/>
<line x1="14.6" y1="232.5" x2="14.2" y2="231.3" stroke="#b8b8b8" stroke-width="0.7" stroke-linecap="round"/>
<line x1="14.6" y1="232.5" x2="15.3" y2="231.5" stroke="#b8b8b8" stroke-width="0.7" stroke-linecap="round"/>
<line x1="14.6" y1="232.5" x2="15.9" y2="232.4" stroke="#b8b8b8" stroke-width="0.7" stroke-linecap="round"/>
<line x1="11.3" y1="234.5" x2="10" y2="232.5" stroke="#747474" stroke-width="0.9" stroke-linecap="round"/>
<line x1="10" y1="232.5" x2="8.7" y2="232.4" stroke="#b8b8b8" stroke-width="0.7" stroke-linecap="round"/>
<line x1="10" y1="232.5" x2="9.3" y2="231.5" stroke="#b8b8b8" stroke-width="0.7" stroke-linecap="round"/>
<line x1="10" y1="232.5" x2="10.4" y2="231.3" stroke="#b8b8b8" stroke-width="0.7" stroke-linecap="round"/>
<circle cx="15.3" cy="240.6" r="0.6" fill="#3a4fd0"/>
<circle cx="12.3" cy="243.6" r="0.6" fill="#3a4fd0"/>
<circle cx="9.3" cy="240.6" r="0.6" fill="#3a4fd0"/>
<circle cx="12.3" cy="237.6" r="0.6" fill="#3a4fd0"/>
<circle cx="12.3" cy="240.6" r="0.7" fill="#dde84a"/>
<circle cx="5" cy="252.2" r="0.8" fill="#e8281e"/>
<circle cx="7.9" cy="252.9" r="0.8" fill="#e8281e"/>
<circle cx="12.1" cy="255" r="0.8" fill="#e8281e"/>
<circle cx="14.8" cy="253.6" r="0.8" fill="#e8281e"/>
<line x1="91.1" y1="223.8" x2="91.8" y2="225.6" stroke="#747474" stroke-width="0.9" stroke-linecap="round"/>
<line x1="91.1" y1="223.8" x2="92.7" y2="222.5" stroke="#747474" stroke-width="0.9" stroke-linecap="round"/>
<line x1="91.8" y1="225.6" x2="93.9" y2="225.5" stroke="#747474" stroke-width="0.9" stroke-linecap="round"/>
<line x1="92.7" y1="222.5" x2="94.4" y2="223.6" stroke="#747474" stroke-width="0.9" stroke-linecap="round"/>
<line x1="93.9" y1="225.5" x2="94.4" y2="223.6" stroke="#747474" stroke-width="0.9" stroke-linecap="round"/>
<line x1="91.8" y1="225.6" x2="90.7" y2="227.3" stroke="#747474" stroke-width="0.9" stroke-linecap="round"/>
<line x1="90.7" y1="227.3" x2="88.7" y2="227.5" stroke="#747474" stroke-width="0.9" stroke-linecap="round"/>
<line x1="87.4" y1="225.9" x2="85.6" y2="226.6" stroke="#747474" stroke-width="0.9" stroke-linecap="round"/>
<line x1="87.4" y1="225.9" x2="88.7" y2="227.5" stroke="#747474" stroke-width="0.9" stroke-linecap="round"/>
<line x1="85.6" y1="226.6" x2="85.7" y2="228.7" stroke="#747474" stroke-width="0.9" stroke-linecap="round"/>
<line x1="88.7" y1="227.5" x2="87.6" y2="229.2" stroke="#747474" stroke-width="0.9" stroke-linecap="round"/>
<line x1="85.7" y1="228.7" x2="87.6" y2="229.2" stroke="#747474" stroke-width="0.9" stroke-linecap="round"/>
<line x1="85.6" y1="226.6" x2="83.9" y2="225.5" stroke="#747474" stroke-width="0.9" stroke-linecap="round"/>
<line x1="83.9" y1="225.5" x2="83.7" y2="223.5" stroke="#747474" stroke-width="0.9" stroke-linecap="round"/>
<line x1="85.3" y1="222.2" x2="84.6" y2="220.4" stroke="#747474" stroke-width="0.9" stroke-linecap="round"/>
<line x1="85.3" y1="222.2" x2="83.7" y2="223.5" stroke="#747474" stroke-width="0.9" stroke-linecap="round"/>
<line x1="84.6" y1="220.4" x2="82.5" y2="220.5" stroke="#747474" stroke-width="0.9" stroke-linecap="round"/>
<line x1="83.7" y1="223.5" x2="82" y2="222.4" stroke="#747474" stroke-width="0.9" stroke-linecap="round"/>
<line x1="82.5" y1="220.5" x2="82" y2="222.4" stroke="#747474" stroke-width="0.9" stroke-linecap="round"/>
<line x1="84.6" y1="220.4" x2="85.7" y2="218.7" stroke="#747474" stroke-width="0.9" stroke-linecap="round"/>
<line x1="85.7" y1="218.7" x2="87.7" y2="218.5" stroke="#747474" stroke-width="0.9" stroke-linecap="round"/>
<line x1="89" y1="220.1" x2="90.8" y2="219.4" stroke="#747474" stroke-width="0.9" stroke-linecap="round"/>
<line x1="89" y1="220.1" x2="87.7" y2="218.5" stroke="#747474" stroke-width="0.9" stroke-linecap="round"/>
<line x1="90.8" y1="219.4" x2="90.7" y2="217.3" stroke="#747474" stroke-width="0.9" stroke-linecap="round"/>
<line x1="87.7" y1="218.5" x2="88.8" y2="216.8" stroke="#747474" stroke-width="0.9" stroke-linecap="round"/>
<line x1="90.7" y1="217.3" x2="88.8" y2="216.8" stroke="#747474" stroke-width="0.9" stroke-linecap="round"/>
<line x1="90.8" y1="219.4" x2="92.5" y2="220.5" stroke="#747474" stroke-width="0.9" stroke-linecap="round"/>
<line x1="92.5" y1="220.5" x2="92.7" y2="222.5" stroke="#747474" stroke-width="0.9" stroke-linecap="round"/>
<circle cx="82" cy="222.4" r="0.6" fill="#7a7a7a"/>
<circle cx="87.6" cy="229.2" r="0.6" fill="#7a7a7a"/>
<circle cx="85.7" cy="218.7" r="0.6" fill="#7a7a7a"/>
<circle cx="91.1" cy="223.8" r="0.6" fill="#7a7a7a"/>
<circle cx="93.9" cy="225.5" r="0.6" fill="#7a7a7a"/>
<circle cx="89" cy="220.1" r="0.6" fill="#7a7a7a"/>
<circle cx="92.5" cy="220.5" r="0.6" fill="#7a7a7a"/>
<circle cx="83.9" cy="225.5" r="0.6" fill="#7a7a7a"/>
<circle cx="82.5" cy="220.5" r="0.6" fill="#7a7a7a"/>
<circle cx="85.3" cy="222.2" r="0.6" fill="#7a7a7a"/>
<circle cx="90.7" cy="227.3" r="0.6" fill="#7a7a7a"/>
<circle cx="87.4" cy="225.9" r="0.6" fill="#7a7a7a"/>
<circle cx="94.4" cy="223.6" r="0.6" fill="#7a7a7a"/>
<circle cx="88.8" cy="216.8" r="0.6" fill="#7a7a7a"/>
<circle cx="85.6" cy="226.6" r="0.6" fill="#7a7a7a"/>
<circle cx="87.7" cy="218.5" r="0.6" fill="#7a7a7a"/>
<circle cx="90.7" cy="217.3" r="0.6" fill="#7a7a7a"/>
<circle cx="92.7" cy="222.5" r="0.6" fill="#7a7a7a"/>
<circle cx="91.8" cy="225.6" r="0.6" fill="#7a7a7a"/>
<circle cx="85.7" cy="228.7" r="0.6" fill="#7a7a7a"/>
<circle cx="88.7" cy="227.5" r="0.6" fill="#7a7a7a"/>
<circle cx="90.8" cy="219.4" r="0.6" fill="#7a7a7a"/>
<circle cx="84.6" cy="220.4" r="0.6" fill="#7a7a7a"/>
<circle cx="83.7" cy="223.5" r="0.6" fill="#7a7a7a"/>
<line x1="90.7" y1="227.3" x2="91.7" y2="229" stroke="#b8b8b8" stroke-width="0.7" stroke-linecap="round"/>
<line x1="83.9" y1="225.5" x2="82.2" y2="226.5" stroke="#b8b8b8" stroke-width="0.7" stroke-linecap="round"/>
<line x1="85.7" y1="218.7" x2="84.7" y2="217" stroke="#b8b8b8" stroke-width="0.7" stroke-linecap="round"/>
<line x1="92.5" y1="220.5" x2="94.2" y2="219.5" stroke="#b8b8b8" stroke-width="0.7" stroke-linecap="round"/>
<line x1="93.9" y1="225.5" x2="95.4" y2="227.3" stroke="#747474" stroke-width="0.9" stroke-linecap="round"/>
<line x1="95.4" y1="227.3" x2="96.7" y2="227.3" stroke="#b8b8b8" stroke-width="0.7" stroke-linecap="round"/>
<line x1="95.4" y1="227.3" x2="96.2" y2="228.3" stroke="#b8b8b8" stroke-width="0.7" stroke-linecap="round"/>
<line x1="95.4" y1="227.3" x2="95.2" y2="228.6" stroke="#b8b8b8" stroke-width="0.7" stroke-linecap="round"/>
<line x1="94.4" y1="223.6" x2="96.6" y2="222.9" stroke="#747474" stroke-width="0.9" stroke-linecap="round"/>
<line x1="96.6" y1="222.9" x2="97" y2="221.7" stroke="#b8b8b8" stroke-width="0.7" stroke-linecap="round"/>
<line x1="96.6" y1="222.9" x2="97.8" y2="222.4" stroke="#b8b8b8" stroke-width="0.7" stroke-linecap="round"/>
<line x1="96.6" y1="222.9" x2="97.7" y2="223.5" stroke="#b8b8b8" stroke-width="0.7" stroke-linecap="round"/>
<line x1="85.7" y1="228.7" x2="84" y2="230.3" stroke="#747474" stroke-width="0.8" stroke-linecap="round"/>
<line x1="84" y1="230.3" x2="83.9" y2="232.8" stroke="#747474" stroke-width="0.8" stroke-linecap="round"/>
<line x1="83.9" y1="232.8" x2="81.9" y2="234.3" stroke="#747474" stroke-width="0.8" stroke-linecap="round"/>
<line x1="84" y1="230.3" x2="82.8" y2="229.7" stroke="#b8b8b8" stroke-width="0.6" stroke-linecap="round"/>
<line x1="83.9" y1="232.8" x2="82.8" y2="232.2" stroke="#b8b8b8" stroke-width="0.6" stroke-linecap="round"/>
<line x1="81.9" y1="234.3" x2="80.2" y2="235" stroke="#747474" stroke-width="0.8" stroke-linecap="round"/>
<line x1="81.9" y1="234.3" x2="83.1" y2="235.3" stroke="#747474" stroke-width="0.8" stroke-linecap="round"/>
<line x1="87.6" y1="229.2" x2="87.1" y2="231.5" stroke="#747474" stroke-width="0.8" stroke-linecap="round"/>
<line x1="87.1" y1="231.5" x2="88.5" y2="233.6" stroke="#747474" stroke-width="0.8" stroke-linecap="round"/>
<line x1="88.5" y1="233.6" x2="87.7" y2="235.9" stroke="#747474" stroke-width="0.8" stroke-linecap="round"/>
<line x1="87.1" y1="231.5" x2="85.8" y2="231.7" stroke="#b8b8b8" stroke-width="0.6" stroke-linecap="round"/>
<line x1="88.5" y1="233.6" x2="87.2" y2="233.7" stroke="#b8b8b8" stroke-width="0.6" stroke-linecap="round"/>
<line x1="87.7" y1="235.9" x2="86.7" y2="237.5" stroke="#747474" stroke-width="0.8" stroke-linecap="round"/>
<line x1="87.7" y1="235.9" x2="89.3" y2="236" stroke="#747474" stroke-width="0.8" stroke-linecap="round"/>
<line x1="82.5" y1="220.5" x2="81" y2="218.7" stroke="#747474" stroke-width="0.9" stroke-linecap="round"/>
<line x1="81" y1="218.7" x2="79.7" y2="218.7" stroke="#b8b8b8" stroke-width="0.7" stroke-linecap="round"/>
<line x1="81" y1="218.7" x2="80.2" y2="217.7" stroke="#b8b8b8" stroke-width="0.7" stroke-linecap="round"/>
<line x1="81" y1="218.7" x2="81.2" y2="217.4" stroke="#b8b8b8" stroke-width="0.7" stroke-linecap="round"/>
<line x1="82" y1="222.4" x2="79.8" y2="223.1" stroke="#747474" stroke-width="0.9" stroke-linecap="round"/>
<line x1="79.8" y1="223.1" x2="79.4" y2="224.3" stroke="#b8b8b8" stroke-width="0.7" stroke-linecap="round"/>
<line x1="79.8" y1="223.1" x2="78.6" y2="223.6" stroke="#b8b8b8" stroke-width="0.7" stroke-linecap="round"/>
<line x1="79.8" y1="223.1" x2="78.7" y2="222.5" stroke="#b8b8b8" stroke-width="0.7" stroke-linecap="round"/>
<line x1="90.7" y1="217.3" x2="92.5" y2="215.8" stroke="#747474" stroke-width="0.9" stroke-linecap="round"/>
<line x1="92.5" y1="215.8" x2="92.5" y2="214.5" stroke="#b8b8b8" stroke-width="0.7" stroke-linecap="round"/>
<line x1="92.5" y1="215.8" x2="93.5" y2="215" stroke="#b8b8b8" stroke-width="0.7" stroke-linecap="round"/>
<line x1="92.5" y1="215.8" x2="93.8" y2="216" stroke="#b8b8b8" stroke-width="0.7" stroke-linecap="round"/>
<line x1="88.8" y1="216.8" x2="88.1" y2="214.6" stroke="#747474" stroke-width="0.9" stroke-linecap="round"/>
<line x1="88.1" y1="214.6" x2="86.9" y2="214.2" stroke="#b8b8b8" stroke-width="0.7" stroke-linecap="round"/>
<line x1="88.1" y1="214.6" x2="87.6" y2="213.4" stroke="#b8b8b8" stroke-width="0.7" stroke-linecap="round"/>
<line x1="88.1" y1="214.6" x2="88.7" y2="213.5" stroke="#b8b8b8" stroke-width="0.7" stroke-linecap="round"/>
<circle cx="91.1" cy="223.8" r="0.6" fill="#3a4fd0"/>
<circle cx="87.4" cy="225.9" r="0.6" fill="#3a4fd0"/>
<circle cx="85.3" cy="222.2" r="0.6" fill="#3a4fd0"/>
<circle cx="89" cy="220.1" r="0.6" fill="#3a4fd0"/>
<circle cx="88.2" cy="223" r="0.7" fill="#dde84a"/>
<circle cx="80.2" cy="235" r="0.8" fill="#e8281e"/>
<circle cx="83.1" cy="235.3" r="0.8" fill="#e8281e"/>
<circle cx="86.7" cy="237.5" r="0.8" fill="#e8281e"/>
<circle cx="89.3" cy="236" r="0.8" fill="#e8281e"/>
<line x1="50.7" y1="271.3" x2="52.1" y2="273.1" stroke="#747474" stroke-width="1" stroke-linecap="round"/>
<line x1="50.7" y1="271.3" x2="52.1" y2="269.5" stroke="#747474" stroke-width="1" stroke-linecap="round"/>
<line x1="52.1" y1="273.1" x2="54.3" y2="272.4" stroke="#747474" stroke-width="1" stroke-linecap="round"/>
<line x1="52.1" y1="269.5" x2="54.3" y2="270.2" stroke="#747474" stroke-width="1" stroke-linecap="round"/>
<line x1="54.3" y1="272.4" x2="54.3" y2="270.2" stroke="#747474" stroke-width="1" stroke-linecap="round"/>
<line x1="52.1" y1="273.1" x2="51.4" y2="275.3" stroke="#747474" stroke-width="1" stroke-linecap="round"/>
<line x1="51.4" y1="275.3" x2="49.2" y2="276" stroke="#747474" stroke-width="1" stroke-linecap="round"/>
<line x1="47.4" y1="274.6" x2="45.6" y2="276" stroke="#747474" stroke-width="1" stroke-linecap="round"/>
<line x1="47.4" y1="274.6" x2="49.2" y2="276" stroke="#747474" stroke-width="1" stroke-linecap="round"/>
<line x1="45.6" y1="276" x2="46.3" y2="278.2" stroke="#747474" stroke-width="1" stroke-linecap="round"/>
<line x1="49.2" y1="276" x2="48.5" y2="278.2" stroke="#747474" stroke-width="1" stroke-linecap="round"/>
<line x1="46.3" y1="278.2" x2="48.5" y2="278.2" stroke="#747474" stroke-width="1" stroke-linecap="round"/>
<line x1="45.6" y1="276" x2="43.4" y2="275.3" stroke="#747474" stroke-width="1" stroke-linecap="round"/>
<line x1="43.4" y1="275.3" x2="42.7" y2="273.1" stroke="#747474" stroke-width="1" stroke-linecap="round"/>
<line x1="44.1" y1="271.3" x2="42.7" y2="269.5" stroke="#747474" stroke-width="1" stroke-linecap="round"/>
<line x1="44.1" y1="271.3" x2="42.7" y2="273.1" stroke="#747474" stroke-width="1" stroke-linecap="round"/>
<line x1="42.7" y1="269.5" x2="40.5" y2="270.2" stroke="#747474" stroke-width="1" stroke-linecap="round"/>
<line x1="42.7" y1="273.1" x2="40.5" y2="272.4" stroke="#747474" stroke-width="1" stroke-linecap="round"/>
<line x1="40.5" y1="270.2" x2="40.5" y2="272.4" stroke="#747474" stroke-width="1" stroke-linecap="round"/>
<line x1="42.7" y1="269.5" x2="43.4" y2="267.3" stroke="#747474" stroke-width="1" stroke-linecap="round"/>
<line x1="43.4" y1="267.3" x2="45.6" y2="266.6" stroke="#747474" stroke-width="1" stroke-linecap="round"/>
<line x1="47.4" y1="268" x2="49.2" y2="266.6" stroke="#747474" stroke-width="1" stroke-linecap="round"/>
<line x1="47.4" y1="268" x2="45.6" y2="266.6" stroke="#747474" stroke-width="1" stroke-linecap="round"/>
<line x1="49.2" y1="266.6" x2="48.5" y2="264.4" stroke="#747474" stroke-width="1" stroke-linecap="round"/>
<line x1="45.6" y1="266.6" x2="46.3" y2="264.4" stroke="#747474" stroke-width="1" stroke-linecap="round"/>
<line x1="48.5" y1="264.4" x2="46.3" y2="264.4" stroke="#747474" stroke-width="1" stroke-linecap="round"/>
<line x1="49.2" y1="266.6" x2="51.4" y2="267.3" stroke="#747474" stroke-width="1" stroke-linecap="round"/>
<line x1="51.4" y1="267.3" x2="52.1" y2="269.5" stroke="#747474" stroke-width="1" stroke-linecap="round"/>
<circle cx="40.5" cy="272.4" r="0.7" fill="#7a7a7a"/>
<circle cx="48.5" cy="278.2" r="0.7" fill="#7a7a7a"/>
<circle cx="43.4" cy="267.3" r="0.7" fill="#7a7a7a"/>
<circle cx="50.7" cy="271.3" r="0.7" fill="#7a7a7a"/>
<circle cx="54.3" cy="272.4" r="0.7" fill="#7a7a7a"/>
<circle cx="47.4" cy="268" r="0.7" fill="#7a7a7a"/>
<circle cx="51.4" cy="267.3" r="0.7" fill="#7a7a7a"/>
<circle cx="43.4" cy="275.3" r="0.7" fill="#7a7a7a"/>
<circle cx="40.5" cy="270.2" r="0.7" fill="#7a7a7a"/>
<circle cx="44.1" cy="271.3" r="0.7" fill="#7a7a7a"/>
<circle cx="51.4" cy="275.3" r="0.7" fill="#7a7a7a"/>
<circle cx="47.4" cy="274.6" r="0.7" fill="#7a7a7a"/>
<circle cx="54.3" cy="270.2" r="0.7" fill="#7a7a7a"/>
<circle cx="46.3" cy="264.4" r="0.7" fill="#7a7a7a"/>
<circle cx="45.6" cy="276" r="0.7" fill="#7a7a7a"/>
<circle cx="45.6" cy="266.6" r="0.7" fill="#7a7a7a"/>
<circle cx="48.5" cy="264.4" r="0.7" fill="#7a7a7a"/>
<circle cx="52.1" cy="269.5" r="0.7" fill="#7a7a7a"/>
<circle cx="52.1" cy="273.1" r="0.7" fill="#7a7a7a"/>
<circle cx="46.3" cy="278.2" r="0.7" fill="#7a7a7a"/>
<circle cx="49.2" cy="276" r="0.7" fill="#7a7a7a"/>
<circle cx="49.2" cy="266.6" r="0.7" fill="#7a7a7a"/>
<circle cx="42.7" cy="269.5" r="0.7" fill="#7a7a7a"/>
<circle cx="42.7" cy="273.1" r="0.7" fill="#7a7a7a"/>
<line x1="51.4" y1="275.3" x2="52.9" y2="276.8" stroke="#b8b8b8" stroke-width="0.8" stroke-linecap="round"/>
<line x1="43.4" y1="275.3" x2="41.9" y2="276.8" stroke="#b8b8b8" stroke-width="0.8" stroke-linecap="round"/>
<line x1="43.4" y1="267.3" x2="41.9" y2="265.8" stroke="#b8b8b8" stroke-width="0.8" stroke-linecap="round"/>
<line x1="51.4" y1="267.3" x2="52.9" y2="265.8" stroke="#b8b8b8" stroke-width="0.8" stroke-linecap="round"/>
<line x1="54.3" y1="272.4" x2="56.4" y2="273.9" stroke="#747474" stroke-width="1" stroke-linecap="round"/>
<line x1="56.4" y1="273.9" x2="57.8" y2="273.5" stroke="#b8b8b8" stroke-width="0.8" stroke-linecap="round"/>
<line x1="56.4" y1="273.9" x2="57.6" y2="274.7" stroke="#b8b8b8" stroke-width="0.8" stroke-linecap="round"/>
<line x1="56.4" y1="273.9" x2="56.5" y2="275.3" stroke="#b8b8b8" stroke-width="0.8" stroke-linecap="round"/>
<line x1="54.3" y1="270.2" x2="56.4" y2="268.7" stroke="#747474" stroke-width="1" stroke-linecap="round"/>
<line x1="56.4" y1="268.7" x2="56.5" y2="267.3" stroke="#b8b8b8" stroke-width="0.8" stroke-linecap="round"/>
<line x1="56.4" y1="268.7" x2="57.6" y2="267.9" stroke="#b8b8b8" stroke-width="0.8" stroke-linecap="round"/>
<line x1="56.4" y1="268.7" x2="57.8" y2="269.1" stroke="#b8b8b8" stroke-width="0.8" stroke-linecap="round"/>
<line x1="46.3" y1="278.2" x2="44.8" y2="280.3" stroke="#747474" stroke-width="1" stroke-linecap="round"/>
<line x1="44.8" y1="280.3" x2="45.2" y2="281.7" stroke="#b8b8b8" stroke-width="0.8" stroke-linecap="round"/>
<line x1="44.8" y1="280.3" x2="44" y2="281.5" stroke="#b8b8b8" stroke-width="0.8" stroke-linecap="round"/>
<line x1="44.8" y1="280.3" x2="43.4" y2="280.4" stroke="#b8b8b8" stroke-width="0.8" stroke-linecap="round"/>
<line x1="48.5" y1="278.2" x2="50" y2="280.3" stroke="#747474" stroke-width="1" stroke-linecap="round"/>
<line x1="50" y1="280.3" x2="51.4" y2="280.4" stroke="#b8b8b8" stroke-width="0.8" stroke-linecap="round"/>
<line x1="50" y1="280.3" x2="50.8" y2="281.5" stroke="#b8b8b8" stroke-width="0.8" stroke-linecap="round"/>
<line x1="50" y1="280.3" x2="49.6" y2="281.7" stroke="#b8b8b8" stroke-width="0.8" stroke-linecap="round"/>
<line x1="40.5" y1="270.2" x2="38.2" y2="269.1" stroke="#747474" stroke-width="0.9" stroke-linecap="round"/>
<line x1="38.2" y1="269.1" x2="35.5" y2="270" stroke="#747474" stroke-width="0.9" stroke-linecap="round"/>
<line x1="35.5" y1="270" x2="33.2" y2="268.4" stroke="#747474" stroke-width="0.9" stroke-linecap="round"/>
<line x1="38.2" y1="269.1" x2="38.4" y2="267.6" stroke="#b8b8b8" stroke-width="0.7" stroke-linecap="round"/>
<line x1="35.5" y1="270" x2="35.7" y2="268.5" stroke="#b8b8b8" stroke-width="0.7" stroke-linecap="round"/>
<line x1="33.2" y1="268.4" x2="31.8" y2="266.9" stroke="#747474" stroke-width="0.9" stroke-linecap="round"/>
<line x1="33.2" y1="268.4" x2="32.6" y2="270.1" stroke="#747474" stroke-width="0.9" stroke-linecap="round"/>
<line x1="40.5" y1="272.4" x2="38" y2="273.2" stroke="#747474" stroke-width="0.9" stroke-linecap="round"/>
<line x1="38" y1="273.2" x2="36.7" y2="275.7" stroke="#747474" stroke-width="0.9" stroke-linecap="round"/>
<line x1="36.7" y1="275.7" x2="33.9" y2="276" stroke="#747474" stroke-width="0.9" stroke-linecap="round"/>
<line x1="38" y1="273.2" x2="37.2" y2="272" stroke="#b8b8b8" stroke-width="0.7" stroke-linecap="round"/>
<line x1="36.7" y1="275.7" x2="35.9" y2="274.5" stroke="#b8b8b8" stroke-width="0.7" stroke-linecap="round"/>
<line x1="33.9" y1="276" x2="31.9" y2="275.9" stroke="#747474" stroke-width="0.9" stroke-linecap="round"/>
<line x1="33.9" y1="276" x2="34.7" y2="277.7" stroke="#747474" stroke-width="0.9" stroke-linecap="round"/>
<line x1="48.5" y1="264.4" x2="50" y2="262.3" stroke="#747474" stroke-width="1" stroke-linecap="round"/>
<line x1="50" y1="262.3" x2="49.6" y2="260.9" stroke="#b8b8b8" stroke-width="0.8" stroke-linecap="round"/>
<line x1="50" y1="262.3" x2="50.8" y2="261.1" stroke="#b8b8b8" stroke-width="0.8" stroke-linecap="round"/>
<line x1="50" y1="262.3" x2="51.4" y2="262.2" stroke="#b8b8b8" stroke-width="0.8" stroke-linecap="round"/>
<line x1="46.3" y1="264.4" x2="44.8" y2="262.3" stroke="#747474" stroke-width="1" stroke-linecap="round"/>
<line x1="44.8" y1="262.3" x2="43.4" y2="262.2" stroke="#b8b8b8" stroke-width="0.8" stroke-linecap="round"/>
<line x1="44.8" y1="262.3" x2="44" y2="261.1" stroke="#b8b8b8" stroke-width="0.8" stroke-linecap="round"/>
<line x1="44.8" y1="262.3" x2="45.2" y2="260.9" stroke="#b8b8b8" stroke-width="0.8" stroke-linecap="round"/>
<circle cx="50.7" cy="271.3" r="0.7" fill="#3a4fd0"/>
<circle cx="47.4" cy="274.6" r="0.7" fill="#3a4fd0"/>
<circle cx="44.1" cy="271.3" r="0.7" fill="#3a4fd0"/>
<circle cx="47.4" cy="268" r="0.7" fill="#3a4fd0"/>
<circle cx="47.4" cy="271.3" r="0.8" fill="#dde84a"/>
<circle cx="31.8" cy="266.9" r="0.9" fill="#e8281e"/>
<circle cx="32.6" cy="270.1" r="0.9" fill="#e8281e"/>
<circle cx="31.9" cy="275.9" r="0.9" fill="#e8281e"/>
<circle cx="34.7" cy="277.7" r="0.9" fill="#e8281e"/>
<line x1="81.7" y1="284.6" x2="81.9" y2="286.2" stroke="#747474" stroke-width="0.9" stroke-linecap="round"/>
<line x1="81.7" y1="284.6" x2="83.5" y2="284" stroke="#747474" stroke-width="0.9" stroke-linecap="round"/>
<line x1="81.9" y1="286.2" x2="83.9" y2="286.5" stroke="#747474" stroke-width="0.9" stroke-linecap="round"/>
<line x1="83.5" y1="284" x2="84.9" y2="285.2" stroke="#747474" stroke-width="0.9" stroke-linecap="round"/>
<line x1="83.9" y1="286.5" x2="84.9" y2="285.2" stroke="#747474" stroke-width="0.9" stroke-linecap="round"/>
<line x1="81.9" y1="286.2" x2="80.4" y2="287.3" stroke="#747474" stroke-width="0.9" stroke-linecap="round"/>
<line x1="80.4" y1="287.3" x2="78.4" y2="286.9" stroke="#747474" stroke-width="0.9" stroke-linecap="round"/>
<line x1="77.6" y1="285.5" x2="75.6" y2="285.7" stroke="#747474" stroke-width="0.9" stroke-linecap="round"/>
<line x1="77.6" y1="285.5" x2="78.4" y2="286.9" stroke="#747474" stroke-width="0.9" stroke-linecap="round"/>
<line x1="75.6" y1="285.7" x2="75.2" y2="287.3" stroke="#747474" stroke-width="0.9" stroke-linecap="round"/>
<line x1="78.4" y1="286.9" x2="76.9" y2="288" stroke="#747474" stroke-width="0.9" stroke-linecap="round"/>
<line x1="75.2" y1="287.3" x2="76.9" y2="288" stroke="#747474" stroke-width="0.9" stroke-linecap="round"/>
<line x1="75.6" y1="285.7" x2="74.3" y2="284.4" stroke="#747474" stroke-width="0.9" stroke-linecap="round"/>
<line x1="74.3" y1="284.4" x2="74.7" y2="282.8" stroke="#747474" stroke-width="0.9" stroke-linecap="round"/>
<line x1="76.5" y1="282.2" x2="76.3" y2="280.6" stroke="#747474" stroke-width="0.9" stroke-linecap="round"/>
<line x1="76.5" y1="282.2" x2="74.7" y2="282.8" stroke="#747474" stroke-width="0.9" stroke-linecap="round"/>
<line x1="76.3" y1="280.6" x2="74.3" y2="280.3" stroke="#747474" stroke-width="0.9" stroke-linecap="round"/>
<line x1="74.7" y1="282.8" x2="73.3" y2="281.6" stroke="#747474" stroke-width="0.9" stroke-linecap="round"/>
<line x1="74.3" y1="280.3" x2="73.3" y2="281.6" stroke="#747474" stroke-width="0.9" stroke-linecap="round"/>
<line x1="76.3" y1="280.6" x2="77.8" y2="279.5" stroke="#747474" stroke-width="0.9" stroke-linecap="round"/>
<line x1="77.8" y1="279.5" x2="79.8" y2="279.9" stroke="#747474" stroke-width="0.9" stroke-linecap="round"/>
<line x1="80.6" y1="281.3" x2="82.6" y2="281.1" stroke="#747474" stroke-width="0.9" stroke-linecap="round"/>
<line x1="80.6" y1="281.3" x2="79.8" y2="279.9" stroke="#747474" stroke-width="0.9" stroke-linecap="round"/>
<line x1="82.6" y1="281.1" x2="83" y2="279.5" stroke="#747474" stroke-width="0.9" stroke-linecap="round"/>
<line x1="79.8" y1="279.9" x2="81.3" y2="278.8" stroke="#747474" stroke-width="0.9" stroke-linecap="round"/>
<line x1="83" y1="279.5" x2="81.3" y2="278.8" stroke="#747474" stroke-width="0.9" stroke-linecap="round"/>
<line x1="82.6" y1="281.1" x2="83.9" y2="282.4" stroke="#747474" stroke-width="0.9" stroke-linecap="round"/>
<line x1="83.9" y1="282.4" x2="83.5" y2="284" stroke="#747474" stroke-width="0.9" stroke-linecap="round"/>
<circle cx="73.3" cy="281.6" r="0.6" fill="#7a7a7a"/>
<circle cx="76.9" cy="288" r="0.6" fill="#7a7a7a"/>
<circle cx="77.8" cy="279.5" r="0.6" fill="#7a7a7a"/>
<circle cx="81.7" cy="284.6" r="0.6" fill="#7a7a7a"/>
<circle cx="83.9" cy="286.5" r="0.6" fill="#7a7a7a"/>
<circle cx="80.6" cy="281.3" r="0.6" fill="#7a7a7a"/>
<circle cx="83.9" cy="282.4" r="0.6" fill="#7a7a7a"/>
<circle cx="74.3" cy="284.4" r="0.6" fill="#7a7a7a"/>
<circle cx="74.3" cy="280.3" r="0.6" fill="#7a7a7a"/>
<circle cx="76.5" cy="282.2" r="0.6" fill="#7a7a7a"/>
<circle cx="80.4" cy="287.3" r="0.6" fill="#7a7a7a"/>
<circle cx="77.6" cy="285.5" r="0.6" fill="#7a7a7a"/>
<circle cx="84.9" cy="285.2" r="0.6" fill="#7a7a7a"/>
<circle cx="81.3" cy="278.8" r="0.6" fill="#7a7a7a"/>
<circle cx="75.6" cy="285.7" r="0.6" fill="#7a7a7a"/>
<circle cx="79.8" cy="279.9" r="0.6" fill="#7a7a7a"/>
<circle cx="83" cy="279.5" r="0.6" fill="#7a7a7a"/>
<circle cx="83.5" cy="284" r="0.6" fill="#7a7a7a"/>
<circle cx="81.9" cy="286.2" r="0.6" fill="#7a7a7a"/>
<circle cx="75.2" cy="287.3" r="0.6" fill="#7a7a7a"/>
<circle cx="78.4" cy="286.9" r="0.6" fill="#7a7a7a"/>
<circle cx="82.6" cy="281.1" r="0.6" fill="#7a7a7a"/>
<circle cx="76.3" cy="280.6" r="0.6" fill="#7a7a7a"/>
<circle cx="74.7" cy="282.8" r="0.6" fill="#7a7a7a"/>
<line x1="80.4" y1="287.3" x2="80.9" y2="288.8" stroke="#b8b8b8" stroke-width="0.7" stroke-linecap="round"/>
<line x1="74.3" y1="284.4" x2="72.4" y2="284.8" stroke="#b8b8b8" stroke-width="0.7" stroke-linecap="round"/>
<line x1="77.8" y1="279.5" x2="77.3" y2="278" stroke="#b8b8b8" stroke-width="0.7" stroke-linecap="round"/>
<line x1="83.9" y1="282.4" x2="85.8" y2="282" stroke="#b8b8b8" stroke-width="0.7" stroke-linecap="round"/>
<line x1="83.9" y1="286.5" x2="84.9" y2="288.7" stroke="#747474" stroke-width="0.8" stroke-linecap="round"/>
<line x1="84.9" y1="288.7" x2="87.2" y2="289.6" stroke="#747474" stroke-width="0.8" stroke-linecap="round"/>
<line x1="87.2" y1="289.6" x2="87.9" y2="292" stroke="#747474" stroke-width="0.8" stroke-linecap="round"/>
<line x1="84.9" y1="288.7" x2="83.9" y2="289.6" stroke="#b8b8b8" stroke-width="0.6" stroke-linecap="round"/>
<line x1="87.2" y1="289.6" x2="86.3" y2="290.4" stroke="#b8b8b8" stroke-width="0.6" stroke-linecap="round"/>
<line x1="87.9" y1="292" x2="88" y2="293.9" stroke="#747474" stroke-width="0.8" stroke-linecap="round"/>
<line x1="87.9" y1="292" x2="89.3" y2="291.2" stroke="#747474" stroke-width="0.8" stroke-linecap="round"/>
<line x1="84.9" y1="285.2" x2="87.3" y2="285" stroke="#747474" stroke-width="0.9" stroke-linecap="round"/>
<line x1="87.3" y1="285" x2="88" y2="284" stroke="#b8b8b8" stroke-width="0.7" stroke-linecap="round"/>
<line x1="87.3" y1="285" x2="88.5" y2="285" stroke="#b8b8b8" stroke-width="0.7" stroke-linecap="round"/>
<line x1="87.3" y1="285" x2="88.1" y2="286" stroke="#b8b8b8" stroke-width="0.7" stroke-linecap="round"/>
<line x1="75.2" y1="287.3" x2="73.1" y2="288.1" stroke="#747474" stroke-width="0.9" stroke-linecap="round"/>
<line x1="73.1" y1="288.1" x2="72.7" y2="289.3" stroke="#b8b8b8" stroke-width="0.7" stroke-linecap="round"/>
<line x1="73.1" y1="288.1" x2="71.9" y2="288.5" stroke="#b8b8b8" stroke-width="0.7" stroke-linecap="round"/>
<line x1="73.1" y1="288.1" x2="72" y2="287.4" stroke="#b8b8b8" stroke-width="0.7" stroke-linecap="round"/>
<line x1="76.9" y1="288" x2="76.4" y2="290.3" stroke="#747474" stroke-width="0.8" stroke-linecap="round"/>
<line x1="76.4" y1="290.3" x2="77.7" y2="292.5" stroke="#747474" stroke-width="0.8" stroke-linecap="round"/>
<line x1="77.7" y1="292.5" x2="76.7" y2="294.8" stroke="#747474" stroke-width="0.8" stroke-linecap="round"/>
<line x1="76.4" y1="290.3" x2="75.1" y2="290.5" stroke="#b8b8b8" stroke-width="0.6" stroke-linecap="round"/>
<line x1="77.7" y1="292.5" x2="76.4" y2="292.6" stroke="#b8b8b8" stroke-width="0.6" stroke-linecap="round"/>
<line x1="76.7" y1="294.8" x2="75.7" y2="296.3" stroke="#747474" stroke-width="0.8" stroke-linecap="round"/>
<line x1="76.7" y1="294.8" x2="78.4" y2="295" stroke="#747474" stroke-width="0.8" stroke-linecap="round"/>
<line x1="74.3" y1="280.3" x2="73.2" y2="278.6" stroke="#747474" stroke-width="0.9" stroke-linecap="round"/>
<line x1="73.2" y1="278.6" x2="72" y2="278.4" stroke="#b8b8b8" stroke-width="0.7" stroke-linecap="round"/>
<line x1="73.2" y1="278.6" x2="72.6" y2="277.5" stroke="#b8b8b8" stroke-width="0.7" stroke-linecap="round"/>
<line x1="73.2" y1="278.6" x2="73.7" y2="277.4" stroke="#b8b8b8" stroke-width="0.7" stroke-linecap="round"/>
<line x1="73.3" y1="281.6" x2="70.9" y2="281.8" stroke="#747474" stroke-width="0.9" stroke-linecap="round"/>
<line x1="70.9" y1="281.8" x2="70.2" y2="282.8" stroke="#b8b8b8" stroke-width="0.7" stroke-linecap="round"/>
<line x1="70.9" y1="281.8" x2="69.7" y2="281.8" stroke="#b8b8b8" stroke-width="0.7" stroke-linecap="round"/>
<line x1="70.9" y1="281.8" x2="70.1" y2="280.8" stroke="#b8b8b8" stroke-width="0.7" stroke-linecap="round"/>
<line x1="83" y1="279.5" x2="85.1" y2="278.7" stroke="#747474" stroke-width="0.9" stroke-linecap="round"/>
<line x1="85.1" y1="278.7" x2="85.5" y2="277.5" stroke="#b8b8b8" stroke-width="0.7" stroke-linecap="round"/>
<line x1="85.1" y1="278.7" x2="86.3" y2="278.3" stroke="#b8b8b8" stroke-width="0.7" stroke-linecap="round"/>
<line x1="85.1" y1="278.7" x2="86.2" y2="279.4" stroke="#b8b8b8" stroke-width="0.7" stroke-linecap="round"/>
<line x1="81.3" y1="278.8" x2="81.1" y2="276.9" stroke="#747474" stroke-width="0.9" stroke-linecap="round"/>
<line x1="81.1" y1="276.9" x2="80.1" y2="276.2" stroke="#b8b8b8" stroke-width="0.7" stroke-linecap="round"/>
<line x1="81.1" y1="276.9" x2="81" y2="275.6" stroke="#b8b8b8" stroke-width="0.7" stroke-linecap="round"/>
<line x1="81.1" y1="276.9" x2="82.1" y2="276" stroke="#b8b8b8" stroke-width="0.7" stroke-linecap="round"/>
<circle cx="81.7" cy="284.6" r="0.6" fill="#3a4fd0"/>
<circle cx="77.6" cy="285.5" r="0.6" fill="#3a4fd0"/>
<circle cx="76.5" cy="282.2" r="0.6" fill="#3a4fd0"/>
<circle cx="80.6" cy="281.3" r="0.6" fill="#3a4fd0"/>
<circle cx="79.1" cy="283.4" r="0.7" fill="#dde84a"/>
<circle cx="88" cy="293.9" r="0.8" fill="#e8281e"/>
<circle cx="89.3" cy="291.2" r="0.8" fill="#e8281e"/>
<circle cx="75.7" cy="296.3" r="0.8" fill="#e8281e"/>
<circle cx="78.4" cy="295" r="0.8" fill="#e8281e"/>
<line x1="53" y1="303.5" x2="54.2" y2="305.4" stroke="#747474" stroke-width="1" stroke-linecap="round"/>
<line x1="53" y1="303.5" x2="54.5" y2="301.8" stroke="#747474" stroke-width="1" stroke-linecap="round"/>
<line x1="54.2" y1="305.4" x2="56.4" y2="304.9" stroke="#747474" stroke-width="1" stroke-linecap="round"/>
<line x1="54.5" y1="301.8" x2="56.6" y2="302.7" stroke="#747474" stroke-width="1" stroke-linecap="round"/>
<line x1="56.4" y1="304.9" x2="56.6" y2="302.7" stroke="#747474" stroke-width="1" stroke-linecap="round"/>
<line x1="54.2" y1="305.4" x2="53.3" y2="307.5" stroke="#747474" stroke-width="1" stroke-linecap="round"/>
<line x1="53.3" y1="307.5" x2="51.1" y2="308" stroke="#747474" stroke-width="1" stroke-linecap="round"/>
<line x1="49.4" y1="306.5" x2="47.5" y2="307.7" stroke="#747474" stroke-width="1" stroke-linecap="round"/>
<line x1="49.4" y1="306.5" x2="51.1" y2="308" stroke="#747474" stroke-width="1" stroke-linecap="round"/>
<line x1="47.5" y1="307.7" x2="48" y2="309.9" stroke="#747474" stroke-width="1" stroke-linecap="round"/>
<line x1="51.1" y1="308" x2="50.2" y2="310.1" stroke="#747474" stroke-width="1" stroke-linecap="round"/>
<line x1="48" y1="309.9" x2="50.2" y2="310.1" stroke="#747474" stroke-width="1" stroke-linecap="round"/>
<line x1="47.5" y1="307.7" x2="45.4" y2="306.8" stroke="#747474" stroke-width="1" stroke-linecap="round"/>
<line x1="45.4" y1="306.8" x2="44.9" y2="304.6" stroke="#747474" stroke-width="1" stroke-linecap="round"/>
<line x1="46.4" y1="302.9" x2="45.2" y2="301" stroke="#747474" stroke-width="1" stroke-linecap="round"/>
<line x1="46.4" y1="302.9" x2="44.9" y2="304.6" stroke="#747474" stroke-width="1" stroke-linecap="round"/>
<line x1="45.2" y1="301" x2="43" y2="301.5" stroke="#747474" stroke-width="1" stroke-linecap="round"/>
<line x1="44.9" y1="304.6" x2="42.8" y2="303.7" stroke="#747474" stroke-width="1" stroke-linecap="round"/>
<line x1="43" y1="301.5" x2="42.8" y2="303.7" stroke="#747474" stroke-width="1" stroke-linecap="round"/>
<line x1="45.2" y1="301" x2="46.1" y2="298.9" stroke="#747474" stroke-width="1" stroke-linecap="round"/>
<line x1="46.1" y1="298.9" x2="48.3" y2="298.4" stroke="#747474" stroke-width="1" stroke-linecap="round"/>
<line x1="50" y1="299.9" x2="51.9" y2="298.7" stroke="#747474" stroke-width="1" stroke-linecap="round"/>
<line x1="50" y1="299.9" x2="48.3" y2="298.4" stroke="#747474" stroke-width="1" stroke-linecap="round"/>
<line x1="51.9" y1="298.7" x2="51.4" y2="296.5" stroke="#747474" stroke-width="1" stroke-linecap="round"/>
<line x1="48.3" y1="298.4" x2="49.2" y2="296.3" stroke="#747474" stroke-width="1" stroke-linecap="round"/>
<line x1="51.4" y1="296.5" x2="49.2" y2="296.3" stroke="#747474" stroke-width="1" stroke-linecap="round"/>
<line x1="51.9" y1="298.7" x2="54" y2="299.6" stroke="#747474" stroke-width="1" stroke-linecap="round"/>
<line x1="54" y1="299.6" x2="54.5" y2="301.8" stroke="#747474" stroke-width="1" stroke-linecap="round"/>
<circle cx="42.8" cy="303.7" r="0.7" fill="#7a7a7a"/>
<circle cx="50.2" cy="310.1" r="0.7" fill="#7a7a7a"/>
<circle cx="46.1" cy="298.9" r="0.7" fill="#7a7a7a"/>
<circle cx="53" cy="303.5" r="0.7" fill="#7a7a7a"/>
<circle cx="56.4" cy="304.9" r="0.7" fill="#7a7a7a"/>
<circle cx="50" cy="299.9" r="0.7" fill="#7a7a7a"/>
<circle cx="54" cy="299.6" r="0.7" fill="#7a7a7a"/>
<circle cx="45.4" cy="306.8" r="0.7" fill="#7a7a7a"/>
<circle cx="43" cy="301.5" r="0.7" fill="#7a7a7a"/>
<circle cx="46.4" cy="302.9" r="0.7" fill="#7a7a7a"/>
<circle cx="53.3" cy="307.5" r="0.7" fill="#7a7a7a"/>
<circle cx="49.4" cy="306.5" r="0.7" fill="#7a7a7a"/>
<circle cx="56.6" cy="302.7" r="0.7" fill="#7a7a7a"/>
<circle cx="49.2" cy="296.3" r="0.7" fill="#7a7a7a"/>
<circle cx="47.5" cy="307.7" r="0.7" fill="#7a7a7a"/>
<circle cx="48.3" cy="298.4" r="0.7" fill="#7a7a7a"/>
<circle cx="51.4" cy="296.5" r="0.7" fill="#7a7a7a"/>
<circle cx="54.5" cy="301.8" r="0.7" fill="#7a7a7a"/>
<circle cx="54.2" cy="305.4" r="0.7" fill="#7a7a7a"/>
<circle cx="48" cy="309.9" r="0.7" fill="#7a7a7a"/>
<circle cx="51.1" cy="308" r="0.7" fill="#7a7a7a"/>
<circle cx="51.9" cy="298.7" r="0.7" fill="#7a7a7a"/>
<circle cx="45.2" cy="301" r="0.7" fill="#7a7a7a"/>
<circle cx="44.9" cy="304.6" r="0.7" fill="#7a7a7a"/>
<line x1="53.3" y1="307.5" x2="54.7" y2="309.1" stroke="#b8b8b8" stroke-width="0.8" stroke-linecap="round"/>
<line x1="45.4" y1="306.8" x2="43.8" y2="308.2" stroke="#b8b8b8" stroke-width="0.8" stroke-linecap="round"/>
<line x1="46.1" y1="298.9" x2="44.7" y2="297.3" stroke="#b8b8b8" stroke-width="0.8" stroke-linecap="round"/>
<line x1="54" y1="299.6" x2="55.6" y2="298.2" stroke="#b8b8b8" stroke-width="0.8" stroke-linecap="round"/>
<line x1="56.4" y1="304.9" x2="58.5" y2="306.6" stroke="#747474" stroke-width="1" stroke-linecap="round"/>
<line x1="58.5" y1="306.6" x2="59.9" y2="306.3" stroke="#b8b8b8" stroke-width="0.8" stroke-linecap="round"/>
<line x1="58.5" y1="306.6" x2="59.6" y2="307.5" stroke="#b8b8b8" stroke-width="0.8" stroke-linecap="round"/>
<line x1="58.5" y1="306.6" x2="58.5" y2="308" stroke="#b8b8b8" stroke-width="0.8" stroke-linecap="round"/>
<line x1="56.6" y1="302.7" x2="58.9" y2="301.4" stroke="#747474" stroke-width="1" stroke-linecap="round"/>
<line x1="58.9" y1="301.4" x2="59.2" y2="300" stroke="#b8b8b8" stroke-width="0.8" stroke-linecap="round"/>
<line x1="58.9" y1="301.4" x2="60.2" y2="300.7" stroke="#b8b8b8" stroke-width="0.8" stroke-linecap="round"/>
<line x1="58.9" y1="301.4" x2="60.3" y2="302" stroke="#b8b8b8" stroke-width="0.8" stroke-linecap="round"/>
<line x1="48" y1="309.9" x2="46.8" y2="312.3" stroke="#747474" stroke-width="0.9" stroke-linecap="round"/>
<line x1="46.8" y1="312.3" x2="47.7" y2="315" stroke="#747474" stroke-width="0.9" stroke-linecap="round"/>
<line x1="47.7" y1="315" x2="46" y2="317.2" stroke="#747474" stroke-width="0.9" stroke-linecap="round"/>
<line x1="46.8" y1="312.3" x2="45.4" y2="312.1" stroke="#b8b8b8" stroke-width="0.7" stroke-linecap="round"/>
<line x1="47.7" y1="315" x2="46.3" y2="314.7" stroke="#b8b8b8" stroke-width="0.7" stroke-linecap="round"/>
<line x1="46" y1="317.2" x2="44.5" y2="318.6" stroke="#747474" stroke-width="0.9" stroke-linecap="round"/>
<line x1="46" y1="317.2" x2="47.7" y2="317.8" stroke="#747474" stroke-width="0.9" stroke-linecap="round"/>
<line x1="50.2" y1="310.1" x2="51" y2="312.6" stroke="#747474" stroke-width="0.9" stroke-linecap="round"/>
<line x1="51" y1="312.6" x2="53.5" y2="314" stroke="#747474" stroke-width="0.9" stroke-linecap="round"/>
<line x1="53.5" y1="314" x2="53.8" y2="316.7" stroke="#747474" stroke-width="0.9" stroke-linecap="round"/>
<line x1="51" y1="312.6" x2="49.8" y2="313.5" stroke="#b8b8b8" stroke-width="0.7" stroke-linecap="round"/>
<line x1="53.5" y1="314" x2="52.3" y2="314.8" stroke="#b8b8b8" stroke-width="0.7" stroke-linecap="round"/>
<line x1="53.8" y1="316.7" x2="53.7" y2="318.8" stroke="#747474" stroke-width="0.9" stroke-linecap="round"/>
<line x1="53.8" y1="316.7" x2="55.5" y2="316" stroke="#747474" stroke-width="0.9" stroke-linecap="round"/>
<line x1="43" y1="301.5" x2="40.9" y2="299.8" stroke="#747474" stroke-width="1" stroke-linecap="round"/>
<line x1="40.9" y1="299.8" x2="39.5" y2="300.1" stroke="#b8b8b8" stroke-width="0.8" stroke-linecap="round"/>
<line x1="40.9" y1="299.8" x2="39.8" y2="298.9" stroke="#b8b8b8" stroke-width="0.8" stroke-linecap="round"/>
<line x1="40.9" y1="299.8" x2="40.9" y2="298.4" stroke="#b8b8b8" stroke-width="0.8" stroke-linecap="round"/>
<line x1="42.8" y1="303.7" x2="40.5" y2="305" stroke="#747474" stroke-width="1" stroke-linecap="round"/>
<line x1="40.5" y1="305" x2="40.2" y2="306.4" stroke="#b8b8b8" stroke-width="0.8" stroke-linecap="round"/>
<line x1="40.5" y1="305" x2="39.2" y2="305.7" stroke="#b8b8b8" stroke-width="0.8" stroke-linecap="round"/>
<line x1="40.5" y1="305" x2="39.1" y2="304.4" stroke="#b8b8b8" stroke-width="0.8" stroke-linecap="round"/>
<line x1="51.4" y1="296.5" x2="53.1" y2="294.4" stroke="#747474" stroke-width="1" stroke-linecap="round"/>
<line x1="53.1" y1="294.4" x2="52.8" y2="293" stroke="#b8b8b8" stroke-width="0.8" stroke-linecap="round"/>
<line x1="53.1" y1="294.4" x2="54" y2="293.3" stroke="#b8b8b8" stroke-width="0.8" stroke-linecap="round"/>
<line x1="53.1" y1="294.4" x2="54.5" y2="294.4" stroke="#b8b8b8" stroke-width="0.8" stroke-linecap="round"/>
<line x1="49.2" y1="296.3" x2="47.9" y2="294" stroke="#747474" stroke-width="1" stroke-linecap="round"/>
<line x1="47.9" y1="294" x2="46.5" y2="293.7" stroke="#b8b8b8" stroke-width="0.8" stroke-linecap="round"/>
<line x1="47.9" y1="294" x2="47.2" y2="292.7" stroke="#b8b8b8" stroke-width="0.8" stroke-linecap="round"/>
<line x1="47.9" y1="294" x2="48.5" y2="292.6" stroke="#b8b8b8" stroke-width="0.8" stroke-linecap="round"/>
<circle cx="53" cy="303.5" r="0.7" fill="#3a4fd0"/>
<circle cx="49.4" cy="306.5" r="0.7" fill="#3a4fd0"/>
<circle cx="46.4" cy="302.9" r="0.7" fill="#3a4fd0"/>
<circle cx="50" cy="299.9" r="0.7" fill="#3a4fd0"/>
<circle cx="49.7" cy="303.2" r="0.8" fill="#dde84a"/>
<circle cx="44.5" cy="318.6" r="0.9" fill="#e8281e"/>
<circle cx="47.7" cy="317.8" r="0.9" fill="#e8281e"/>
<circle cx="53.7" cy="318.8" r="0.9" fill="#e8281e"/>
<circle cx="55.5" cy="316" r="0.9" fill="#e8281e"/>
<line x1="92.8" y1="322" x2="94.1" y2="323.7" stroke="#747474" stroke-width="1" stroke-linecap="round"/>
<line x1="92.8" y1="322" x2="94.1" y2="320.3" stroke="#747474" stroke-width="1" stroke-linecap="round"/>
<line x1="94.1" y1="323.7" x2="96.2" y2="323" stroke="#747474" stroke-width="1" stroke-linecap="round"/>
<line x1="94.1" y1="320.3" x2="96.2" y2="321" stroke="#747474" stroke-width="1" stroke-linecap="round"/>
<line x1="96.2" y1="323" x2="96.2" y2="321" stroke="#747474" stroke-width="1" stroke-linecap="round"/>
<line x1="94.1" y1="323.7" x2="93.4" y2="325.7" stroke="#747474" stroke-width="1" stroke-linecap="round"/>
<line x1="93.4" y1="325.7" x2="91.4" y2="326.4" stroke="#747474" stroke-width="1" stroke-linecap="round"/>
<line x1="89.7" y1="325.1" x2="88" y2="326.4" stroke="#747474" stroke-width="1" stroke-linecap="round"/>
<line x1="89.7" y1="325.1" x2="91.4" y2="326.4" stroke="#747474" stroke-width="1" stroke-linecap="round"/>
<line x1="88" y1="326.4" x2="88.7" y2="328.5" stroke="#747474" stroke-width="1" stroke-linecap="round"/>
<line x1="91.4" y1="326.4" x2="90.7" y2="328.5" stroke="#747474" stroke-width="1" stroke-linecap="round"/>
<line x1="88.7" y1="328.5" x2="90.7" y2="328.5" stroke="#747474" stroke-width="1" stroke-linecap="round"/>
<line x1="88" y1="326.4" x2="86" y2="325.7" stroke="#747474" stroke-width="1" stroke-linecap="round"/>
<line x1="86" y1="325.7" x2="85.3" y2="323.7" stroke="#747474" stroke-width="1" stroke-linecap="round"/>
<line x1="86.6" y1="322" x2="85.3" y2="320.3" stroke="#747474" stroke-width="1" stroke-linecap="round"/>
<line x1="86.6" y1="322" x2="85.3" y2="323.7" stroke="#747474" stroke-width="1" stroke-linecap="round"/>
<line x1="85.3" y1="320.3" x2="83.2" y2="321" stroke="#747474" stroke-width="1" stroke-linecap="round"/>
<line x1="85.3" y1="323.7" x2="83.2" y2="323" stroke="#747474" stroke-width="1" stroke-linecap="round"/>
<line x1="83.2" y1="321" x2="83.2" y2="323" stroke="#747474" stroke-width="1" stroke-linecap="round"/>
<line x1="85.3" y1="320.3" x2="86" y2="318.3" stroke="#747474" stroke-width="1" stroke-linecap="round"/>
<line x1="86" y1="318.3" x2="88" y2="317.6" stroke="#747474" stroke-width="1" stroke-linecap="round"/>
<line x1="89.7" y1="318.9" x2="91.4" y2="317.6" stroke="#747474" stroke-width="1" stroke-linecap="round"/>
<line x1="89.7" y1="318.9" x2="88" y2="317.6" stroke="#747474" stroke-width="1" stroke-linecap="round"/>
<line x1="91.4" y1="317.6" x2="90.7" y2="315.5" stroke="#747474" stroke-width="1" stroke-linecap="round"/>
<line x1="88" y1="317.6" x2="88.7" y2="315.5" stroke="#747474" stroke-width="1" stroke-linecap="round"/>
<line x1="90.7" y1="315.5" x2="88.7" y2="315.5" stroke="#747474" stroke-width="1" stroke-linecap="round"/>
<line x1="91.4" y1="317.6" x2="93.4" y2="318.3" stroke="#747474" stroke-width="1" stroke-linecap="round"/>
<line x1="93.4" y1="318.3" x2="94.1" y2="320.3" stroke="#747474" stroke-width="1" stroke-linecap="round"/>
<circle cx="83.2" cy="323" r="0.7" fill="#7a7a7a"/>
<circle cx="90.7" cy="328.5" r="0.7" fill="#7a7a7a"/>
<circle cx="86" cy="318.3" r="0.7" fill="#7a7a7a"/>
<circle cx="92.8" cy="322" r="0.7" fill="#7a7a7a"/>
<circle cx="96.2" cy="323" r="0.7" fill="#7a7a7a"/>
<circle cx="89.7" cy="318.9" r="0.7" fill="#7a7a7a"/>
<circle cx="93.4" cy="318.3" r="0.7" fill="#7a7a7a"/>
<circle cx="86" cy="325.7" r="0.7" fill="#7a7a7a"/>
<circle cx="83.2" cy="321" r="0.7" fill="#7a7a7a"/>
<circle cx="86.6" cy="322" r="0.7" fill="#7a7a7a"/>
<circle cx="93.4" cy="325.7" r="0.7" fill="#7a7a7a"/>
<circle cx="89.7" cy="325.1" r="0.7" fill="#7a7a7a"/>
<circle cx="96.2" cy="321" r="0.7" fill="#7a7a7a"/>
<circle cx="88.7" cy="315.5" r="0.7" fill="#7a7a7a"/>
<circle cx="88" cy="326.4" r="0.7" fill="#7a7a7a"/>
<circle cx="88" cy="317.6" r="0.7" fill="#7a7a7a"/>
<circle cx="90.7" cy="315.5" r="0.7" fill="#7a7a7a"/>
<circle cx="94.1" cy="320.3" r="0.7" fill="#7a7a7a"/>
<circle cx="94.1" cy="323.7" r="0.7" fill="#7a7a7a"/>
<circle cx="88.7" cy="328.5" r="0.7" fill="#7a7a7a"/>
<circle cx="91.4" cy="326.4" r="0.7" fill="#7a7a7a"/>
<circle cx="91.4" cy="317.6" r="0.7" fill="#7a7a7a"/>
<circle cx="85.3" cy="320.3" r="0.7" fill="#7a7a7a"/>
<circle cx="85.3" cy="323.7" r="0.7" fill="#7a7a7a"/>
<line x1="93.4" y1="325.7" x2="94.9" y2="327.2" stroke="#b8b8b8" stroke-width="0.8" stroke-linecap="round"/>
<line x1="86" y1="325.7" x2="84.5" y2="327.2" stroke="#b8b8b8" stroke-width="0.8" stroke-linecap="round"/>
<line x1="86" y1="318.3" x2="84.5" y2="316.8" stroke="#b8b8b8" stroke-width="0.8" stroke-linecap="round"/>
<line x1="93.4" y1="318.3" x2="94.9" y2="316.8" stroke="#b8b8b8" stroke-width="0.8" stroke-linecap="round"/>
<line x1="96.2" y1="323" x2="98.3" y2="324.4" stroke="#747474" stroke-width="0.9" stroke-linecap="round"/>
<line x1="98.3" y1="324.4" x2="99.6" y2="324" stroke="#b8b8b8" stroke-width="0.7" stroke-linecap="round"/>
<line x1="98.3" y1="324.4" x2="99.4" y2="325.2" stroke="#b8b8b8" stroke-width="0.7" stroke-linecap="round"/>
<line x1="98.3" y1="324.4" x2="98.4" y2="325.8" stroke="#b8b8b8" stroke-width="0.7" stroke-linecap="round"/>
<line x1="96.2" y1="321" x2="98.3" y2="319.6" stroke="#747474" stroke-width="0.9" stroke-linecap="round"/>
<line x1="98.3" y1="319.6" x2="98.4" y2="318.2" stroke="#b8b8b8" stroke-width="0.7" stroke-linecap="round"/>
<line x1="98.3" y1="319.6" x2="99.4" y2="318.8" stroke="#b8b8b8" stroke-width="0.7" stroke-linecap="round"/>
<line x1="98.3" y1="319.6" x2="99.6" y2="320" stroke="#b8b8b8" stroke-width="0.7" stroke-linecap="round"/>
<line x1="88.7" y1="328.5" x2="87.9" y2="330.9" stroke="#747474" stroke-width="0.9" stroke-linecap="round"/>
<line x1="87.9" y1="330.9" x2="89.1" y2="333.2" stroke="#747474" stroke-width="0.9" stroke-linecap="round"/>
<line x1="89.1" y1="333.2" x2="87.9" y2="335.6" stroke="#747474" stroke-width="0.9" stroke-linecap="round"/>
<line x1="87.9" y1="330.9" x2="86.5" y2="330.9" stroke="#b8b8b8" stroke-width="0.7" stroke-linecap="round"/>
<line x1="89.1" y1="333.2" x2="87.7" y2="333.2" stroke="#b8b8b8" stroke-width="0.7" stroke-linecap="round"/>
<line x1="87.9" y1="335.6" x2="86.7" y2="337.1" stroke="#747474" stroke-width="0.8" stroke-linecap="round"/>
<line x1="87.9" y1="335.6" x2="89.6" y2="335.9" stroke="#747474" stroke-width="0.8" stroke-linecap="round"/>
<line x1="90.7" y1="328.5" x2="92.1" y2="330.6" stroke="#747474" stroke-width="0.9" stroke-linecap="round"/>
<line x1="92.1" y1="330.6" x2="93.5" y2="330.7" stroke="#b8b8b8" stroke-width="0.7" stroke-linecap="round"/>
<line x1="92.1" y1="330.6" x2="92.9" y2="331.7" stroke="#b8b8b8" stroke-width="0.7" stroke-linecap="round"/>
<line x1="92.1" y1="330.6" x2="91.7" y2="331.9" stroke="#b8b8b8" stroke-width="0.7" stroke-linecap="round"/>
<line x1="83.2" y1="321" x2="81.1" y2="319.6" stroke="#747474" stroke-width="0.9" stroke-linecap="round"/>
<line x1="81.1" y1="319.6" x2="79.8" y2="320" stroke="#b8b8b8" stroke-width="0.7" stroke-linecap="round"/>
<line x1="81.1" y1="319.6" x2="80" y2="318.8" stroke="#b8b8b8" stroke-width="0.7" stroke-linecap="round"/>
<line x1="81.1" y1="319.6" x2="81" y2="318.2" stroke="#b8b8b8" stroke-width="0.7" stroke-linecap="round"/>
<line x1="83.2" y1="323" x2="80.9" y2="324.1" stroke="#747474" stroke-width="0.9" stroke-linecap="round"/>
<line x1="80.9" y1="324.1" x2="80" y2="326.6" stroke="#747474" stroke-width="0.9" stroke-linecap="round"/>
<line x1="80" y1="326.6" x2="77.4" y2="327.2" stroke="#747474" stroke-width="0.9" stroke-linecap="round"/>
<line x1="80.9" y1="324.1" x2="80" y2="323" stroke="#b8b8b8" stroke-width="0.7" stroke-linecap="round"/>
<line x1="80" y1="326.6" x2="79.1" y2="325.5" stroke="#b8b8b8" stroke-width="0.7" stroke-linecap="round"/>
<line x1="77.4" y1="327.2" x2="75.4" y2="327.3" stroke="#747474" stroke-width="0.8" stroke-linecap="round"/>
<line x1="77.4" y1="327.2" x2="78.3" y2="328.7" stroke="#747474" stroke-width="0.8" stroke-linecap="round"/>
<line x1="90.7" y1="315.5" x2="92.1" y2="313.4" stroke="#747474" stroke-width="0.9" stroke-linecap="round"/>
<line x1="92.1" y1="313.4" x2="91.7" y2="312.1" stroke="#b8b8b8" stroke-width="0.7" stroke-linecap="round"/>
<line x1="92.1" y1="313.4" x2="92.9" y2="312.3" stroke="#b8b8b8" stroke-width="0.7" stroke-linecap="round"/>
<line x1="92.1" y1="313.4" x2="93.5" y2="313.3" stroke="#b8b8b8" stroke-width="0.7" stroke-linecap="round"/>
<line x1="88.7" y1="315.5" x2="87.3" y2="313.4" stroke="#747474" stroke-width="0.9" stroke-linecap="round"/>
<line x1="87.3" y1="313.4" x2="85.9" y2="313.3" stroke="#b8b8b8" stroke-width="0.7" stroke-linecap="round"/>
<line x1="87.3" y1="313.4" x2="86.5" y2="312.3" stroke="#b8b8b8" stroke-width="0.7" stroke-linecap="round"/>
<line x1="87.3" y1="313.4" x2="87.7" y2="312.1" stroke="#b8b8b8" stroke-width="0.7" stroke-linecap="round"/>
<circle cx="92.8" cy="322" r="0.6" fill="#3a4fd0"/>
<circle cx="89.7" cy="325.1" r="0.6" fill="#3a4fd0"/>
<circle cx="86.6" cy="322" r="0.6" fill="#3a4fd0"/>
<circle cx="89.7" cy="318.9" r="0.6" fill="#3a4fd0"/>
<circle cx="89.7" cy="322" r="0.7" fill="#dde84a"/>
<circle cx="86.7" cy="337.1" r="0.9" fill="#e8281e"/>
<circle cx="89.6" cy="335.9" r="0.9" fill="#e8281e"/>
<circle cx="75.4" cy="327.3" r="0.9" fill="#e8281e"/>
<circle cx="78.3" cy="328.7" r="0.9" fill="#e8281e"/>
<line x1="149.5" y1="224.6" x2="151" y2="226.6" stroke="#747474" stroke-width="1.2" stroke-linecap="round"/>
<line x1="149.5" y1="224.6" x2="151" y2="222.6" stroke="#747474" stroke-width="1.2" stroke-linecap="round"/>
<line x1="151" y1="226.6" x2="153.4" y2="225.8" stroke="#747474" stroke-width="1.2" stroke-linecap="round"/>
<line x1="151" y1="222.6" x2="153.4" y2="223.4" stroke="#747474" stroke-width="1.2" stroke-linecap="round"/>
<line x1="153.4" y1="225.8" x2="153.4" y2="223.4" stroke="#747474" stroke-width="1.2" stroke-linecap="round"/>
<line x1="151" y1="226.6" x2="150.2" y2="229" stroke="#747474" stroke-width="1.2" stroke-linecap="round"/>
<line x1="150.2" y1="229" x2="147.8" y2="229.8" stroke="#747474" stroke-width="1.2" stroke-linecap="round"/>
<line x1="145.8" y1="228.3" x2="143.8" y2="229.8" stroke="#747474" stroke-width="1.2" stroke-linecap="round"/>
<line x1="145.8" y1="228.3" x2="147.8" y2="229.8" stroke="#747474" stroke-width="1.2" stroke-linecap="round"/>
<line x1="143.8" y1="229.8" x2="144.6" y2="232.2" stroke="#747474" stroke-width="1.2" stroke-linecap="round"/>
<line x1="147.8" y1="229.8" x2="147" y2="232.2" stroke="#747474" stroke-width="1.2" stroke-linecap="round"/>
<line x1="144.6" y1="232.2" x2="147" y2="232.2" stroke="#747474" stroke-width="1.2" stroke-linecap="round"/>
<line x1="143.8" y1="229.8" x2="141.4" y2="229" stroke="#747474" stroke-width="1.2" stroke-linecap="round"/>
<line x1="141.4" y1="229" x2="140.6" y2="226.6" stroke="#747474" stroke-width="1.2" stroke-linecap="round"/>
<line x1="142.1" y1="224.6" x2="140.6" y2="222.6" stroke="#747474" stroke-width="1.2" stroke-linecap="round"/>
<line x1="142.1" y1="224.6" x2="140.6" y2="226.6" stroke="#747474" stroke-width="1.2" stroke-linecap="round"/>
<line x1="140.6" y1="222.6" x2="138.2" y2="223.4" stroke="#747474" stroke-width="1.2" stroke-linecap="round"/>
<line x1="140.6" y1="226.6" x2="138.2" y2="225.8" stroke="#747474" stroke-width="1.2" stroke-linecap="round"/>
<line x1="138.2" y1="223.4" x2="138.2" y2="225.8" stroke="#747474" stroke-width="1.2" stroke-linecap="round"/>
<line x1="140.6" y1="222.6" x2="141.4" y2="220.2" stroke="#747474" stroke-width="1.2" stroke-linecap="round"/>
<line x1="141.4" y1="220.2" x2="143.8" y2="219.4" stroke="#747474" stroke-width="1.2" stroke-linecap="round"/>
<line x1="145.8" y1="220.9" x2="147.8" y2="219.4" stroke="#747474" stroke-width="1.2" stroke-linecap="round"/>
<line x1="145.8" y1="220.9" x2="143.8" y2="219.4" stroke="#747474" stroke-width="1.2" stroke-linecap="round"/>
<line x1="147.8" y1="219.4" x2="147" y2="217" stroke="#747474" stroke-width="1.2" stroke-linecap="round"/>
<line x1="143.8" y1="219.4" x2="144.6" y2="217" stroke="#747474" stroke-width="1.2" stroke-linecap="round"/>
<line x1="147" y1="217" x2="144.6" y2="217" stroke="#747474" stroke-width="1.2" stroke-linecap="round"/>
<line x1="147.8" y1="219.4" x2="150.2" y2="220.2" stroke="#747474" stroke-width="1.2" stroke-linecap="round"/>
<line x1="150.2" y1="220.2" x2="151" y2="222.6" stroke="#747474" stroke-width="1.2" stroke-linecap="round"/>
<circle cx="138.2" cy="225.8" r="0.8" fill="#7a7a7a"/>
<circle cx="147" cy="232.2" r="0.8" fill="#7a7a7a"/>
<circle cx="141.4" cy="220.2" r="0.8" fill="#7a7a7a"/>
<circle cx="149.5" cy="224.6" r="0.8" fill="#7a7a7a"/>
<circle cx="153.4" cy="225.8" r="0.8" fill="#7a7a7a"/>
<circle cx="145.8" cy="220.9" r="0.8" fill="#7a7a7a"/>
<circle cx="150.2" cy="220.2" r="0.8" fill="#7a7a7a"/>
<circle cx="141.4" cy="229" r="0.8" fill="#7a7a7a"/>
<circle cx="138.2" cy="223.4" r="0.8" fill="#7a7a7a"/>
<circle cx="142.1" cy="224.6" r="0.8" fill="#7a7a7a"/>
<circle cx="150.2" cy="229" r="0.8" fill="#7a7a7a"/>
<circle cx="145.8" cy="228.3" r="0.8" fill="#7a7a7a"/>
<circle cx="153.4" cy="223.4" r="0.8" fill="#7a7a7a"/>
<circle cx="144.6" cy="217" r="0.8" fill="#7a7a7a"/>
<circle cx="143.8" cy="229.8" r="0.8" fill="#7a7a7a"/>
<circle cx="143.8" cy="219.4" r="0.8" fill="#7a7a7a"/>
<circle cx="147" cy="217" r="0.8" fill="#7a7a7a"/>
<circle cx="151" cy="222.6" r="0.8" fill="#7a7a7a"/>
<circle cx="151" cy="226.6" r="0.8" fill="#7a7a7a"/>
<circle cx="144.6" cy="232.2" r="0.8" fill="#7a7a7a"/>
<circle cx="147.8" cy="229.8" r="0.8" fill="#7a7a7a"/>
<circle cx="147.8" cy="219.4" r="0.8" fill="#7a7a7a"/>
<circle cx="140.6" cy="222.6" r="0.8" fill="#7a7a7a"/>
<circle cx="140.6" cy="226.6" r="0.8" fill="#7a7a7a"/>
<line x1="150.2" y1="229" x2="151.9" y2="230.7" stroke="#b8b8b8" stroke-width="0.9" stroke-linecap="round"/>
<line x1="141.4" y1="229" x2="139.7" y2="230.7" stroke="#b8b8b8" stroke-width="0.9" stroke-linecap="round"/>
<line x1="141.4" y1="220.2" x2="139.7" y2="218.5" stroke="#b8b8b8" stroke-width="0.9" stroke-linecap="round"/>
<line x1="150.2" y1="220.2" x2="151.9" y2="218.5" stroke="#b8b8b8" stroke-width="0.9" stroke-linecap="round"/>
<line x1="153.4" y1="225.8" x2="155.8" y2="227.5" stroke="#747474" stroke-width="1.1" stroke-linecap="round"/>
<line x1="155.8" y1="227.5" x2="157.3" y2="227" stroke="#b8b8b8" stroke-width="0.8" stroke-linecap="round"/>
<line x1="155.8" y1="227.5" x2="157.1" y2="228.3" stroke="#b8b8b8" stroke-width="0.8" stroke-linecap="round"/>
<line x1="155.8" y1="227.5" x2="155.9" y2="229" stroke="#b8b8b8" stroke-width="0.8" stroke-linecap="round"/>
<line x1="153.4" y1="223.4" x2="156.3" y2="223.8" stroke="#747474" stroke-width="1.1" stroke-linecap="round"/>
<line x1="156.3" y1="223.8" x2="158.8" y2="222" stroke="#747474" stroke-width="1.1" stroke-linecap="round"/>
<line x1="158.8" y1="222" x2="161.7" y2="223" stroke="#747474" stroke-width="1.1" stroke-linecap="round"/>
<line x1="156.3" y1="223.8" x2="156.5" y2="225.4" stroke="#b8b8b8" stroke-width="0.8" stroke-linecap="round"/>
<line x1="158.8" y1="222" x2="159" y2="223.6" stroke="#b8b8b8" stroke-width="0.8" stroke-linecap="round"/>
<line x1="161.7" y1="223" x2="163.7" y2="224.1" stroke="#747474" stroke-width="0.9" stroke-linecap="round"/>
<line x1="161.7" y1="223" x2="161.8" y2="221" stroke="#747474" stroke-width="0.9" stroke-linecap="round"/>
<line x1="144.6" y1="232.2" x2="142.9" y2="234.6" stroke="#747474" stroke-width="1.1" stroke-linecap="round"/>
<line x1="142.9" y1="234.6" x2="143.4" y2="236.1" stroke="#b8b8b8" stroke-width="0.8" stroke-linecap="round"/>
<line x1="142.9" y1="234.6" x2="142.1" y2="235.9" stroke="#b8b8b8" stroke-width="0.8" stroke-linecap="round"/>
<line x1="142.9" y1="234.6" x2="141.4" y2="234.7" stroke="#b8b8b8" stroke-width="0.8" stroke-linecap="round"/>
<line x1="147" y1="232.2" x2="148.7" y2="234.6" stroke="#747474" stroke-width="1.1" stroke-linecap="round"/>
<line x1="148.7" y1="234.6" x2="150.2" y2="234.7" stroke="#b8b8b8" stroke-width="0.8" stroke-linecap="round"/>
<line x1="148.7" y1="234.6" x2="149.5" y2="235.9" stroke="#b8b8b8" stroke-width="0.8" stroke-linecap="round"/>
<line x1="148.7" y1="234.6" x2="148.2" y2="236.1" stroke="#b8b8b8" stroke-width="0.8" stroke-linecap="round"/>
<line x1="138.2" y1="223.4" x2="135.8" y2="221.7" stroke="#747474" stroke-width="1.1" stroke-linecap="round"/>
<line x1="135.8" y1="221.7" x2="134.3" y2="222.2" stroke="#b8b8b8" stroke-width="0.8" stroke-linecap="round"/>
<line x1="135.8" y1="221.7" x2="134.5" y2="220.9" stroke="#b8b8b8" stroke-width="0.8" stroke-linecap="round"/>
<line x1="135.8" y1="221.7" x2="135.7" y2="220.2" stroke="#b8b8b8" stroke-width="0.8" stroke-linecap="round"/>
<line x1="138.2" y1="225.8" x2="135.8" y2="227.5" stroke="#747474" stroke-width="1.1" stroke-linecap="round"/>
<line x1="135.8" y1="227.5" x2="135.7" y2="229" stroke="#b8b8b8" stroke-width="0.8" stroke-linecap="round"/>
<line x1="135.8" y1="227.5" x2="134.5" y2="228.3" stroke="#b8b8b8" stroke-width="0.8" stroke-linecap="round"/>
<line x1="135.8" y1="227.5" x2="134.3" y2="227" stroke="#b8b8b8" stroke-width="0.8" stroke-linecap="round"/>
<line x1="147" y1="217" x2="149.4" y2="215.4" stroke="#747474" stroke-width="1.1" stroke-linecap="round"/>
<line x1="149.4" y1="215.4" x2="150" y2="212.3" stroke="#747474" stroke-width="1.1" stroke-linecap="round"/>
<line x1="150" y1="212.3" x2="152.8" y2="211" stroke="#747474" stroke-width="1.1" stroke-linecap="round"/>
<line x1="149.4" y1="215.4" x2="150.7" y2="216.4" stroke="#b8b8b8" stroke-width="0.8" stroke-linecap="round"/>
<line x1="150" y1="212.3" x2="151.3" y2="213.3" stroke="#b8b8b8" stroke-width="0.8" stroke-linecap="round"/>
<line x1="152.8" y1="211" x2="155.1" y2="210.5" stroke="#747474" stroke-width="0.9" stroke-linecap="round"/>
<line x1="152.8" y1="211" x2="151.5" y2="209.5" stroke="#747474" stroke-width="0.9" stroke-linecap="round"/>
<line x1="144.6" y1="217" x2="142.9" y2="214.6" stroke="#747474" stroke-width="1.1" stroke-linecap="round"/>
<line x1="142.9" y1="214.6" x2="141.4" y2="214.5" stroke="#b8b8b8" stroke-width="0.8" stroke-linecap="round"/>
<line x1="142.9" y1="214.6" x2="142.1" y2="213.3" stroke="#b8b8b8" stroke-width="0.8" stroke-linecap="round"/>
<line x1="142.9" y1="214.6" x2="143.4" y2="213.1" stroke="#b8b8b8" stroke-width="0.8" stroke-linecap="round"/>
<circle cx="149.5" cy="224.6" r="0.7" fill="#3a4fd0"/>
<circle cx="145.8" cy="228.3" r="0.7" fill="#3a4fd0"/>
<circle cx="142.1" cy="224.6" r="0.7" fill="#3a4fd0"/>
<circle cx="145.8" cy="220.9" r="0.7" fill="#3a4fd0"/>
<circle cx="145.8" cy="224.6" r="0.8" fill="#dde84a"/>
<circle cx="163.7" cy="224.1" r="1" fill="#e8281e"/>
<circle cx="161.8" cy="221" r="1" fill="#e8281e"/>
<circle cx="155.1" cy="210.5" r="1" fill="#e8281e"/>
<circle cx="151.5" cy="209.5" r="1" fill="#e8281e"/>
<line x1="187.3" y1="209.2" x2="188.4" y2="211.1" stroke="#747474" stroke-width="1.1" stroke-linecap="round"/>
<line x1="187.3" y1="209.2" x2="188.4" y2="207.3" stroke="#747474" stroke-width="1.1" stroke-linecap="round"/>
<line x1="188.4" y1="211.1" x2="190" y2="210.4" stroke="#747474" stroke-width="1.1" stroke-linecap="round"/>
<line x1="188.4" y1="207.3" x2="190" y2="208" stroke="#747474" stroke-width="1.1" stroke-linecap="round"/>
<line x1="190" y1="210.4" x2="190" y2="208" stroke="#747474" stroke-width="1.1" stroke-linecap="round"/>
<line x1="188.4" y1="211.1" x2="187.8" y2="213.4" stroke="#747474" stroke-width="1.1" stroke-linecap="round"/>
<line x1="187.8" y1="213.4" x2="186.2" y2="214.1" stroke="#747474" stroke-width="1.1" stroke-linecap="round"/>
<line x1="184.9" y1="212.7" x2="183.6" y2="214.1" stroke="#747474" stroke-width="1.1" stroke-linecap="round"/>
<line x1="184.9" y1="212.7" x2="186.2" y2="214.1" stroke="#747474" stroke-width="1.1" stroke-linecap="round"/>
<line x1="183.6" y1="214.1" x2="184.1" y2="216.4" stroke="#747474" stroke-width="1.1" stroke-linecap="round"/>
<line x1="186.2" y1="214.1" x2="185.7" y2="216.4" stroke="#747474" stroke-width="1.1" stroke-linecap="round"/>
<line x1="184.1" y1="216.4" x2="185.7" y2="216.4" stroke="#747474" stroke-width="1.1" stroke-linecap="round"/>
<line x1="183.6" y1="214.1" x2="182" y2="213.4" stroke="#747474" stroke-width="1.1" stroke-linecap="round"/>
<line x1="182" y1="213.4" x2="181.4" y2="211.1" stroke="#747474" stroke-width="1.1" stroke-linecap="round"/>
<line x1="182.5" y1="209.2" x2="181.4" y2="207.3" stroke="#747474" stroke-width="1.1" stroke-linecap="round"/>
<line x1="182.5" y1="209.2" x2="181.4" y2="211.1" stroke="#747474" stroke-width="1.1" stroke-linecap="round"/>
<line x1="181.4" y1="207.3" x2="179.8" y2="208" stroke="#747474" stroke-width="1.1" stroke-linecap="round"/>
<line x1="181.4" y1="211.1" x2="179.8" y2="210.4" stroke="#747474" stroke-width="1.1" stroke-linecap="round"/>
<line x1="179.8" y1="208" x2="179.8" y2="210.4" stroke="#747474" stroke-width="1.1" stroke-linecap="round"/>
<line x1="181.4" y1="207.3" x2="182" y2="205" stroke="#747474" stroke-width="1.1" stroke-linecap="round"/>
<line x1="182" y1="205" x2="183.6" y2="204.3" stroke="#747474" stroke-width="1.1" stroke-linecap="round"/>
<line x1="184.9" y1="205.7" x2="186.2" y2="204.3" stroke="#747474" stroke-width="1.1" stroke-linecap="round"/>
<line x1="184.9" y1="205.7" x2="183.6" y2="204.3" stroke="#747474" stroke-width="1.1" stroke-linecap="round"/>
<line x1="186.2" y1="204.3" x2="185.7" y2="202" stroke="#747474" stroke-width="1.1" stroke-linecap="round"/>
<line x1="183.6" y1="204.3" x2="184.1" y2="202" stroke="#747474" stroke-width="1.1" stroke-linecap="round"/>
<line x1="185.7" y1="202" x2="184.1" y2="202" stroke="#747474" stroke-width="1.1" stroke-linecap="round"/>
<line x1="186.2" y1="204.3" x2="187.8" y2="205" stroke="#747474" stroke-width="1.1" stroke-linecap="round"/>
<line x1="187.8" y1="205" x2="188.4" y2="207.3" stroke="#747474" stroke-width="1.1" stroke-linecap="round"/>
<circle cx="179.8" cy="210.4" r="0.8" fill="#7a7a7a"/>
<circle cx="185.7" cy="216.4" r="0.8" fill="#7a7a7a"/>
<circle cx="182" cy="205" r="0.8" fill="#7a7a7a"/>
<circle cx="187.3" cy="209.2" r="0.8" fill="#7a7a7a"/>
<circle cx="190" cy="210.4" r="0.8" fill="#7a7a7a"/>
<circle cx="184.9" cy="205.7" r="0.8" fill="#7a7a7a"/>
<circle cx="187.8" cy="205" r="0.8" fill="#7a7a7a"/>
<circle cx="182" cy="213.4" r="0.8" fill="#7a7a7a"/>
<circle cx="179.8" cy="208" r="0.8" fill="#7a7a7a"/>
<circle cx="182.5" cy="209.2" r="0.8" fill="#7a7a7a"/>
<circle cx="187.8" cy="213.4" r="0.8" fill="#7a7a7a"/>
<circle cx="184.9" cy="212.7" r="0.8" fill="#7a7a7a"/>
<circle cx="190" cy="208" r="0.8" fill="#7a7a7a"/>
<circle cx="184.1" cy="202" r="0.8" fill="#7a7a7a"/>
<circle cx="183.6" cy="214.1" r="0.8" fill="#7a7a7a"/>
<circle cx="183.6" cy="204.3" r="0.8" fill="#7a7a7a"/>
<circle cx="185.7" cy="202" r="0.8" fill="#7a7a7a"/>
<circle cx="188.4" cy="207.3" r="0.8" fill="#7a7a7a"/>
<circle cx="188.4" cy="211.1" r="0.8" fill="#7a7a7a"/>
<circle cx="184.1" cy="216.4" r="0.8" fill="#7a7a7a"/>
<circle cx="186.2" cy="214.1" r="0.8" fill="#7a7a7a"/>
<circle cx="186.2" cy="204.3" r="0.8" fill="#7a7a7a"/>
<circle cx="181.4" cy="207.3" r="0.8" fill="#7a7a7a"/>
<circle cx="181.4" cy="211.1" r="0.8" fill="#7a7a7a"/>
<line x1="187.8" y1="213.4" x2="188.9" y2="215" stroke="#b8b8b8" stroke-width="0.8" stroke-linecap="round"/>
<line x1="182" y1="213.4" x2="180.9" y2="215" stroke="#b8b8b8" stroke-width="0.8" stroke-linecap="round"/>
<line x1="182" y1="205" x2="180.9" y2="203.4" stroke="#b8b8b8" stroke-width="0.8" stroke-linecap="round"/>
<line x1="187.8" y1="205" x2="188.9" y2="203.4" stroke="#b8b8b8" stroke-width="0.8" stroke-linecap="round"/>
<line x1="190" y1="210.4" x2="191.6" y2="211.9" stroke="#747474" stroke-width="1.1" stroke-linecap="round"/>
<line x1="191.6" y1="211.9" x2="193.1" y2="211.7" stroke="#b8b8b8" stroke-width="0.8" stroke-linecap="round"/>
<line x1="191.6" y1="211.9" x2="192.6" y2="213" stroke="#b8b8b8" stroke-width="0.8" stroke-linecap="round"/>
<line x1="191.6" y1="211.9" x2="191.4" y2="213.4" stroke="#b8b8b8" stroke-width="0.8" stroke-linecap="round"/>
<line x1="190" y1="208" x2="192.3" y2="206.6" stroke="#747474" stroke-width="1" stroke-linecap="round"/>
<line x1="192.3" y1="206.6" x2="193" y2="203.7" stroke="#747474" stroke-width="1" stroke-linecap="round"/>
<line x1="193" y1="203.7" x2="195.8" y2="202.6" stroke="#747474" stroke-width="1" stroke-linecap="round"/>
<line x1="192.3" y1="206.6" x2="193.5" y2="207.6" stroke="#b8b8b8" stroke-width="0.8" stroke-linecap="round"/>
<line x1="193" y1="203.7" x2="194.2" y2="204.7" stroke="#b8b8b8" stroke-width="0.8" stroke-linecap="round"/>
<line x1="195.8" y1="202.6" x2="197.9" y2="202.2" stroke="#747474" stroke-width="0.9" stroke-linecap="round"/>
<line x1="195.8" y1="202.6" x2="194.6" y2="201.2" stroke="#747474" stroke-width="0.9" stroke-linecap="round"/>
<line x1="184.1" y1="216.4" x2="183" y2="218.7" stroke="#747474" stroke-width="1.1" stroke-linecap="round"/>
<line x1="183" y1="218.7" x2="183.7" y2="220.1" stroke="#b8b8b8" stroke-width="0.8" stroke-linecap="round"/>
<line x1="183" y1="218.7" x2="182.4" y2="220.1" stroke="#b8b8b8" stroke-width="0.8" stroke-linecap="round"/>
<line x1="183" y1="218.7" x2="181.5" y2="219.1" stroke="#b8b8b8" stroke-width="0.8" stroke-linecap="round"/>
<line x1="185.7" y1="216.4" x2="186.8" y2="218.7" stroke="#747474" stroke-width="1.1" stroke-linecap="round"/>
<line x1="186.8" y1="218.7" x2="188.3" y2="219.1" stroke="#b8b8b8" stroke-width="0.8" stroke-linecap="round"/>
<line x1="186.8" y1="218.7" x2="187.4" y2="220.1" stroke="#b8b8b8" stroke-width="0.8" stroke-linecap="round"/>
<line x1="186.8" y1="218.7" x2="186.1" y2="220.1" stroke="#b8b8b8" stroke-width="0.8" stroke-linecap="round"/>
<line x1="179.8" y1="208" x2="178.2" y2="206.5" stroke="#747474" stroke-width="1.1" stroke-linecap="round"/>
<line x1="178.2" y1="206.5" x2="176.7" y2="206.7" stroke="#b8b8b8" stroke-width="0.8" stroke-linecap="round"/>
<line x1="178.2" y1="206.5" x2="177.2" y2="205.4" stroke="#b8b8b8" stroke-width="0.8" stroke-linecap="round"/>
<line x1="178.2" y1="206.5" x2="178.4" y2="205" stroke="#b8b8b8" stroke-width="0.8" stroke-linecap="round"/>
<line x1="179.8" y1="210.4" x2="178.2" y2="211.9" stroke="#747474" stroke-width="1.1" stroke-linecap="round"/>
<line x1="178.2" y1="211.9" x2="178.4" y2="213.4" stroke="#b8b8b8" stroke-width="0.8" stroke-linecap="round"/>
<line x1="178.2" y1="211.9" x2="177.2" y2="213" stroke="#b8b8b8" stroke-width="0.8" stroke-linecap="round"/>
<line x1="178.2" y1="211.9" x2="176.7" y2="211.7" stroke="#b8b8b8" stroke-width="0.8" stroke-linecap="round"/>
<line x1="185.7" y1="202" x2="186.7" y2="199.4" stroke="#747474" stroke-width="1" stroke-linecap="round"/>
<line x1="186.7" y1="199.4" x2="185.5" y2="196.7" stroke="#747474" stroke-width="1" stroke-linecap="round"/>
<line x1="185.5" y1="196.7" x2="187" y2="194.1" stroke="#747474" stroke-width="1" stroke-linecap="round"/>
<line x1="186.7" y1="199.4" x2="188.2" y2="199.5" stroke="#b8b8b8" stroke-width="0.8" stroke-linecap="round"/>
<line x1="185.5" y1="196.7" x2="187" y2="196.8" stroke="#b8b8b8" stroke-width="0.8" stroke-linecap="round"/>
<line x1="187" y1="194.1" x2="188.4" y2="192.5" stroke="#747474" stroke-width="0.9" stroke-linecap="round"/>
<line x1="187" y1="194.1" x2="185.1" y2="193.7" stroke="#747474" stroke-width="0.9" stroke-linecap="round"/>
<line x1="184.1" y1="202" x2="183" y2="199.7" stroke="#747474" stroke-width="1.1" stroke-linecap="round"/>
<line x1="183" y1="199.7" x2="181.5" y2="199.3" stroke="#b8b8b8" stroke-width="0.8" stroke-linecap="round"/>
<line x1="183" y1="199.7" x2="182.4" y2="198.3" stroke="#b8b8b8" stroke-width="0.8" stroke-linecap="round"/>
<line x1="183" y1="199.7" x2="183.7" y2="198.3" stroke="#b8b8b8" stroke-width="0.8" stroke-linecap="round"/>
<circle cx="187.3" cy="209.2" r="0.7" fill="#3a4fd0"/>
<circle cx="184.9" cy="212.7" r="0.7" fill="#3a4fd0"/>
<circle cx="182.5" cy="209.2" r="0.7" fill="#3a4fd0"/>
<circle cx="184.9" cy="205.7" r="0.7" fill="#3a4fd0"/>
<circle cx="184.9" cy="209.2" r="0.8" fill="#dde84a"/>
<circle cx="197.9" cy="202.2" r="0.9" fill="#e8281e"/>
<circle cx="194.6" cy="201.2" r="0.9" fill="#e8281e"/>
<circle cx="188.4" cy="192.5" r="0.9" fill="#e8281e"/>
<circle cx="185.1" cy="193.7" r="0.9" fill="#e8281e"/>
<line x1="238.8" y1="207.7" x2="240.3" y2="209.7" stroke="#747474" stroke-width="1.2" stroke-linecap="round"/>
<line x1="238.8" y1="207.7" x2="240.3" y2="205.7" stroke="#747474" stroke-width="1.2" stroke-linecap="round"/>
<line x1="240.3" y1="209.7" x2="242.7" y2="208.9" stroke="#747474" stroke-width="1.2" stroke-linecap="round"/>
<line x1="240.3" y1="205.7" x2="242.7" y2="206.5" stroke="#747474" stroke-width="1.2" stroke-linecap="round"/>
<line x1="242.7" y1="208.9" x2="242.7" y2="206.5" stroke="#747474" stroke-width="1.2" stroke-linecap="round"/>
<line x1="240.3" y1="209.7" x2="239.5" y2="212.1" stroke="#747474" stroke-width="1.2" stroke-linecap="round"/>
<line x1="239.5" y1="212.1" x2="237.1" y2="212.9" stroke="#747474" stroke-width="1.2" stroke-linecap="round"/>
<line x1="235.1" y1="211.4" x2="233.1" y2="212.9" stroke="#747474" stroke-width="1.2" stroke-linecap="round"/>
<line x1="235.1" y1="211.4" x2="237.1" y2="212.9" stroke="#747474" stroke-width="1.2" stroke-linecap="round"/>
<line x1="233.1" y1="212.9" x2="233.9" y2="215.3" stroke="#747474" stroke-width="1.2" stroke-linecap="round"/>
<line x1="237.1" y1="212.9" x2="236.3" y2="215.3" stroke="#747474" stroke-width="1.2" stroke-linecap="round"/>
<line x1="233.9" y1="215.3" x2="236.3" y2="215.3" stroke="#747474" stroke-width="1.2" stroke-linecap="round"/>
<line x1="233.1" y1="212.9" x2="230.7" y2="212.1" stroke="#747474" stroke-width="1.2" stroke-linecap="round"/>
<line x1="230.7" y1="212.1" x2="229.9" y2="209.7" stroke="#747474" stroke-width="1.2" stroke-linecap="round"/>
<line x1="231.4" y1="207.7" x2="229.9" y2="205.7" stroke="#747474" stroke-width="1.2" stroke-linecap="round"/>
<line x1="231.4" y1="207.7" x2="229.9" y2="209.7" stroke="#747474" stroke-width="1.2" stroke-linecap="round"/>
<line x1="229.9" y1="205.7" x2="227.5" y2="206.5" stroke="#747474" stroke-width="1.2" stroke-linecap="round"/>
<line x1="229.9" y1="209.7" x2="227.5" y2="208.9" stroke="#747474" stroke-width="1.2" stroke-linecap="round"/>
<line x1="227.5" y1="206.5" x2="227.5" y2="208.9" stroke="#747474" stroke-width="1.2" stroke-linecap="round"/>
<line x1="229.9" y1="205.7" x2="230.7" y2="203.3" stroke="#747474" stroke-width="1.2" stroke-linecap="round"/>
<line x1="230.7" y1="203.3" x2="233.1" y2="202.5" stroke="#747474" stroke-width="1.2" stroke-linecap="round"/>
<line x1="235.1" y1="204" x2="237.1" y2="202.5" stroke="#747474" stroke-width="1.2" stroke-linecap="round"/>
<line x1="235.1" y1="204" x2="233.1" y2="202.5" stroke="#747474" stroke-width="1.2" stroke-linecap="round"/>
<line x1="237.1" y1="202.5" x2="236.3" y2="200.1" stroke="#747474" stroke-width="1.2" stroke-linecap="round"/>
<line x1="233.1" y1="202.5" x2="233.9" y2="200.1" stroke="#747474" stroke-width="1.2" stroke-linecap="round"/>
<line x1="236.3" y1="200.1" x2="233.9" y2="200.1" stroke="#747474" stroke-width="1.2" stroke-linecap="round"/>
<line x1="237.1" y1="202.5" x2="239.5" y2="203.3" stroke="#747474" stroke-width="1.2" stroke-linecap="round"/>
<line x1="239.5" y1="203.3" x2="240.3" y2="205.7" stroke="#747474" stroke-width="1.2" stroke-linecap="round"/>
<circle cx="227.5" cy="208.9" r="0.8" fill="#7a7a7a"/>
<circle cx="236.3" cy="215.3" r="0.8" fill="#7a7a7a"/>
<circle cx="230.7" cy="203.3" r="0.8" fill="#7a7a7a"/>
<circle cx="238.8" cy="207.7" r="0.8" fill="#7a7a7a"/>
<circle cx="242.7" cy="208.9" r="0.8" fill="#7a7a7a"/>
<circle cx="235.1" cy="204" r="0.8" fill="#7a7a7a"/>
<circle cx="239.5" cy="203.3" r="0.8" fill="#7a7a7a"/>
<circle cx="230.7" cy="212.1" r="0.8" fill="#7a7a7a"/>
<circle cx="227.5" cy="206.5" r="0.8" fill="#7a7a7a"/>
<circle cx="231.4" cy="207.7" r="0.8" fill="#7a7a7a"/>
<circle cx="239.5" cy="212.1" r="0.8" fill="#7a7a7a"/>
<circle cx="235.1" cy="211.4" r="0.8" fill="#7a7a7a"/>
<circle cx="242.7" cy="206.5" r="0.8" fill="#7a7a7a"/>
<circle cx="233.9" cy="200.1" r="0.8" fill="#7a7a7a"/>
<circle cx="233.1" cy="212.9" r="0.8" fill="#7a7a7a"/>
<circle cx="233.1" cy="202.5" r="0.8" fill="#7a7a7a"/>
<circle cx="236.3" cy="200.1" r="0.8" fill="#7a7a7a"/>
<circle cx="240.3" cy="205.7" r="0.8" fill="#7a7a7a"/>
<circle cx="240.3" cy="209.7" r="0.8" fill="#7a7a7a"/>
<circle cx="233.9" cy="215.3" r="0.8" fill="#7a7a7a"/>
<circle cx="237.1" cy="212.9" r="0.8" fill="#7a7a7a"/>
<circle cx="237.1" cy="202.5" r="0.8" fill="#7a7a7a"/>
<circle cx="229.9" cy="205.7" r="0.8" fill="#7a7a7a"/>
<circle cx="229.9" cy="209.7" r="0.8" fill="#7a7a7a"/>
<line x1="239.5" y1="212.1" x2="241.2" y2="213.8" stroke="#b8b8b8" stroke-width="0.9" stroke-linecap="round"/>
<line x1="230.7" y1="212.1" x2="229" y2="213.8" stroke="#b8b8b8" stroke-width="0.9" stroke-linecap="round"/>
<line x1="230.7" y1="203.3" x2="229" y2="201.6" stroke="#b8b8b8" stroke-width="0.9" stroke-linecap="round"/>
<line x1="239.5" y1="203.3" x2="241.2" y2="201.6" stroke="#b8b8b8" stroke-width="0.9" stroke-linecap="round"/>
<line x1="242.7" y1="208.9" x2="245" y2="210.7" stroke="#747474" stroke-width="1.1" stroke-linecap="round"/>
<line x1="245" y1="210.7" x2="248.1" y2="210.2" stroke="#747474" stroke-width="1.1" stroke-linecap="round"/>
<line x1="248.1" y1="210.2" x2="250.2" y2="212.5" stroke="#747474" stroke-width="1.1" stroke-linecap="round"/>
<line x1="245" y1="210.7" x2="244.5" y2="212.2" stroke="#b8b8b8" stroke-width="0.8" stroke-linecap="round"/>
<line x1="248.1" y1="210.2" x2="247.6" y2="211.7" stroke="#b8b8b8" stroke-width="0.8" stroke-linecap="round"/>
<line x1="250.2" y1="212.5" x2="251.5" y2="214.4" stroke="#747474" stroke-width="0.9" stroke-linecap="round"/>
<line x1="250.2" y1="212.5" x2="251.2" y2="210.7" stroke="#747474" stroke-width="0.9" stroke-linecap="round"/>
<line x1="242.7" y1="206.5" x2="245.1" y2="204.8" stroke="#747474" stroke-width="1.1" stroke-linecap="round"/>
<line x1="245.1" y1="204.8" x2="245.2" y2="203.3" stroke="#b8b8b8" stroke-width="0.8" stroke-linecap="round"/>
<line x1="245.1" y1="204.8" x2="246.4" y2="204" stroke="#b8b8b8" stroke-width="0.8" stroke-linecap="round"/>
<line x1="245.1" y1="204.8" x2="246.6" y2="205.3" stroke="#b8b8b8" stroke-width="0.8" stroke-linecap="round"/>
<line x1="233.9" y1="215.3" x2="232.2" y2="217.7" stroke="#747474" stroke-width="1.1" stroke-linecap="round"/>
<line x1="232.2" y1="217.7" x2="232.7" y2="219.2" stroke="#b8b8b8" stroke-width="0.8" stroke-linecap="round"/>
<line x1="232.2" y1="217.7" x2="231.4" y2="219" stroke="#b8b8b8" stroke-width="0.8" stroke-linecap="round"/>
<line x1="232.2" y1="217.7" x2="230.7" y2="217.8" stroke="#b8b8b8" stroke-width="0.8" stroke-linecap="round"/>
<line x1="236.3" y1="215.3" x2="236.9" y2="218.1" stroke="#747474" stroke-width="1.1" stroke-linecap="round"/>
<line x1="236.9" y1="218.1" x2="239.5" y2="219.9" stroke="#747474" stroke-width="1.1" stroke-linecap="round"/>
<line x1="239.5" y1="219.9" x2="239.6" y2="223" stroke="#747474" stroke-width="1.1" stroke-linecap="round"/>
<line x1="236.9" y1="218.1" x2="235.5" y2="218.9" stroke="#b8b8b8" stroke-width="0.8" stroke-linecap="round"/>
<line x1="239.5" y1="219.9" x2="238.1" y2="220.6" stroke="#b8b8b8" stroke-width="0.8" stroke-linecap="round"/>
<line x1="239.6" y1="223" x2="239.2" y2="225.2" stroke="#747474" stroke-width="0.9" stroke-linecap="round"/>
<line x1="239.6" y1="223" x2="241.4" y2="222.3" stroke="#747474" stroke-width="0.9" stroke-linecap="round"/>
<line x1="227.5" y1="206.5" x2="225.1" y2="204.8" stroke="#747474" stroke-width="1.1" stroke-linecap="round"/>
<line x1="225.1" y1="204.8" x2="223.6" y2="205.3" stroke="#b8b8b8" stroke-width="0.8" stroke-linecap="round"/>
<line x1="225.1" y1="204.8" x2="223.8" y2="204" stroke="#b8b8b8" stroke-width="0.8" stroke-linecap="round"/>
<line x1="225.1" y1="204.8" x2="225" y2="203.3" stroke="#b8b8b8" stroke-width="0.8" stroke-linecap="round"/>
<line x1="227.5" y1="208.9" x2="225.1" y2="210.6" stroke="#747474" stroke-width="1.1" stroke-linecap="round"/>
<line x1="225.1" y1="210.6" x2="225" y2="212.1" stroke="#b8b8b8" stroke-width="0.8" stroke-linecap="round"/>
<line x1="225.1" y1="210.6" x2="223.8" y2="211.4" stroke="#b8b8b8" stroke-width="0.8" stroke-linecap="round"/>
<line x1="225.1" y1="210.6" x2="223.6" y2="210.1" stroke="#b8b8b8" stroke-width="0.8" stroke-linecap="round"/>
<line x1="236.3" y1="200.1" x2="238" y2="197.7" stroke="#747474" stroke-width="1.1" stroke-linecap="round"/>
<line x1="238" y1="197.7" x2="237.5" y2="196.2" stroke="#b8b8b8" stroke-width="0.8" stroke-linecap="round"/>
<line x1="238" y1="197.7" x2="238.8" y2="196.4" stroke="#b8b8b8" stroke-width="0.8" stroke-linecap="round"/>
<line x1="238" y1="197.7" x2="239.5" y2="197.6" stroke="#b8b8b8" stroke-width="0.8" stroke-linecap="round"/>
<line x1="233.9" y1="200.1" x2="232.2" y2="197.7" stroke="#747474" stroke-width="1.1" stroke-linecap="round"/>
<line x1="232.2" y1="197.7" x2="230.7" y2="197.6" stroke="#b8b8b8" stroke-width="0.8" stroke-linecap="round"/>
<line x1="232.2" y1="197.7" x2="231.4" y2="196.4" stroke="#b8b8b8" stroke-width="0.8" stroke-linecap="round"/>
<line x1="232.2" y1="197.7" x2="232.7" y2="196.2" stroke="#b8b8b8" stroke-width="0.8" stroke-linecap="round"/>
<circle cx="238.8" cy="207.7" r="0.7" fill="#3a4fd0"/>
<circle cx="235.1" cy="211.4" r="0.7" fill="#3a4fd0"/>
<circle cx="231.4" cy="207.7" r="0.7" fill="#3a4fd0"/>
<circle cx="235.1" cy="204" r="0.7" fill="#3a4fd0"/>
<circle cx="235.1" cy="207.7" r="0.8" fill="#dde84a"/>
<circle cx="251.5" cy="214.4" r="1" fill="#e8281e"/>
<circle cx="251.2" cy="210.7" r="1" fill="#e8281e"/>
<circle cx="239.2" cy="225.2" r="1" fill="#e8281e"/>
<circle cx="241.4" cy="222.3" r="1" fill="#e8281e"/>
<ellipse cx="13.8" cy="213.1" rx="3.4" ry="3" transform="rotate(-27.6 13.8 213.1)" fill="#8a8a8a" opacity="0.7"/>
<line x1="12.2" y1="213.5" x2="10.5" y2="214.1" stroke="#747474" stroke-width="0.8" stroke-linecap="round"/>
<line x1="12.3" y1="212.5" x2="10.6" y2="211.8" stroke="#b8b8b8" stroke-width="0.8" stroke-linecap="round"/>
<line x1="15.2" y1="212.3" x2="16.8" y2="211.5" stroke="#747474" stroke-width="0.8" stroke-linecap="round"/>
<line x1="12.2" y1="213.4" x2="10.4" y2="213.8" stroke="#b8b8b8" stroke-width="0.8" stroke-linecap="round"/>
<line x1="12.2" y1="213" x2="10.4" y2="212.9" stroke="#747474" stroke-width="0.8" stroke-linecap="round"/>
<ellipse cx="31.2" cy="203.9" rx="3.4" ry="3" transform="rotate(-27.6 31.2 203.9)" fill="#8a8a8a" opacity="0.7"/>
<line x1="29.9" y1="203.1" x2="28.3" y2="202.2" stroke="#747474" stroke-width="0.8" stroke-linecap="round"/>
<line x1="31.9" y1="205.4" x2="32.6" y2="207.1" stroke="#b8b8b8" stroke-width="0.8" stroke-linecap="round"/>
<line x1="29.6" y1="203.8" x2="27.8" y2="203.7" stroke="#747474" stroke-width="0.8" stroke-linecap="round"/>
<line x1="30.1" y1="202.8" x2="28.9" y2="201.5" stroke="#b8b8b8" stroke-width="0.8" stroke-linecap="round"/>
<line x1="31.7" y1="202.4" x2="32.1" y2="200.7" stroke="#747474" stroke-width="0.8" stroke-linecap="round"/>
<line x1="11" y1="214.5" x2="34" y2="202.5" stroke="#9c9c9c" stroke-width="2.4" stroke-linecap="round" opacity="0.65"/>
<polyline points="10.5,213.6 12.6,213.5 13.8,211.9 15.8,211.8 17.1,210.2 19.1,210 20.4,208.5 22.4,208.3 23.7,206.8 25.7,206.6 27,205 29,204.9 30.3,203.3 32.3,203.2 33.5,201.6" fill="none" stroke="#666666" stroke-width="1" stroke-linejoin="round"/>
<polyline points="11.1,214.7 13.1,214.5 14.4,213 16.4,212.8 17.7,211.2 19.7,211.1 20.9,209.5 23,209.4 24.2,207.8 26.2,207.7 27.5,206.1 29.5,206 30.8,204.4 32.8,204.2 34.1,202.7" fill="none" stroke="#666666" stroke-width="1" stroke-linejoin="round"/>
<line x1="10.8" y1="213.6" x2="9.4" y2="212.8" stroke="#b8b8b8" stroke-width="0.8" stroke-linecap="round"/>
<line x1="14.6" y1="213.6" x2="14.4" y2="214.9" stroke="#b8b8b8" stroke-width="0.8" stroke-linecap="round"/>
<line x1="15.7" y1="211.1" x2="14.1" y2="210" stroke="#747474" stroke-width="0.8" stroke-linecap="round"/>
<line x1="18.1" y1="211.7" x2="19.2" y2="212.6" stroke="#747474" stroke-width="0.8" stroke-linecap="round"/>
<line x1="18.4" y1="209.7" x2="17.4" y2="208.2" stroke="#b8b8b8" stroke-width="0.8" stroke-linecap="round"/>
<line x1="22" y1="209.7" x2="22.9" y2="211.5" stroke="#b8b8b8" stroke-width="0.8" stroke-linecap="round"/>
<line x1="23" y1="207.3" x2="23.3" y2="205.7" stroke="#b8b8b8" stroke-width="0.8" stroke-linecap="round"/>
<line x1="26.4" y1="207.4" x2="27.8" y2="209" stroke="#747474" stroke-width="0.8" stroke-linecap="round"/>
<line x1="26.5" y1="205.5" x2="26.4" y2="204.1" stroke="#747474" stroke-width="0.8" stroke-linecap="round"/>
<line x1="30.2" y1="205.4" x2="30" y2="207.1" stroke="#b8b8b8" stroke-width="0.8" stroke-linecap="round"/>
<line x1="29.8" y1="203.7" x2="30" y2="202.2" stroke="#747474" stroke-width="0.8" stroke-linecap="round"/>
<line x1="34.3" y1="203.3" x2="35.8" y2="204.1" stroke="#b8b8b8" stroke-width="0.8" stroke-linecap="round"/>
<circle cx="20.2" cy="209.7" r="0.7" fill="#3a4fd0"/>
<circle cx="24.8" cy="207.3" r="0.7" fill="#3a4fd0"/>
<line x1="11" y1="214.5" x2="10.8" y2="217.4" stroke="#747474" stroke-width="0.9" stroke-linecap="round"/>
<line x1="10.8" y1="217.4" x2="10.5" y2="219.4" stroke="#747474" stroke-width="0.9" stroke-linecap="round"/>
<circle cx="11.1" cy="220.5" r="1" fill="#e8281e"/>
<circle cx="9.3" cy="220" r="1" fill="#e8281e"/>
<line x1="11" y1="214.5" x2="8.5" y2="213" stroke="#747474" stroke-width="0.9" stroke-linecap="round"/>
<line x1="8.5" y1="213" x2="6.7" y2="212.1" stroke="#747474" stroke-width="0.9" stroke-linecap="round"/>
<circle cx="6.1" cy="211" r="1" fill="#e8281e"/>
<circle cx="5.5" cy="212.8" r="1" fill="#e8281e"/>
<line x1="32" y1="228.5" x2="45.5" y2="246" stroke="#9c9c9c" stroke-width="4.4" stroke-linecap="round" opacity="0.65"/>
<polyline points="33.2,227.6 33.7,229.5 35.4,230.5 35.9,232.4 37.7,233.4 38.2,235.4 39.9,236.3 40.4,238.3 42.2,239.3 42.7,241.2 44.4,242.2 44.9,244.1 46.7,245.1" fill="none" stroke="#666666" stroke-width="1" stroke-linejoin="round"/>
<polyline points="31.4,228.9 31.9,230.9 33.7,231.8 34.2,233.8 35.9,234.8 36.4,236.7 38.2,237.7 38.7,239.6 40.4,240.6 40.9,242.5 42.7,243.5 43.2,245.5 44.9,246.4" fill="none" stroke="#666666" stroke-width="1" stroke-linejoin="round"/>
<line x1="34.1" y1="228.7" x2="34.7" y2="227.2" stroke="#747474" stroke-width="0.8" stroke-linecap="round"/>
<line x1="33.1" y1="232.5" x2="32.3" y2="234.5" stroke="#747474" stroke-width="0.8" stroke-linecap="round"/>
<line x1="35.9" y1="231" x2="37.2" y2="230.7" stroke="#747474" stroke-width="0.8" stroke-linecap="round"/>
<line x1="35.1" y1="235.1" x2="34.3" y2="236.7" stroke="#b8b8b8" stroke-width="0.8" stroke-linecap="round"/>
<line x1="38.3" y1="234.2" x2="39.1" y2="232.3" stroke="#747474" stroke-width="0.8" stroke-linecap="round"/>
<line x1="37.2" y1="237.8" x2="35.6" y2="237.8" stroke="#b8b8b8" stroke-width="0.8" stroke-linecap="round"/>
<line x1="41" y1="237.6" x2="42.1" y2="235.6" stroke="#747474" stroke-width="0.8" stroke-linecap="round"/>
<line x1="40.4" y1="241.9" x2="39.7" y2="243.8" stroke="#b8b8b8" stroke-width="0.8" stroke-linecap="round"/>
<line x1="43.3" y1="240.7" x2="44.9" y2="240.3" stroke="#747474" stroke-width="0.8" stroke-linecap="round"/>
<line x1="42.2" y1="244.3" x2="41.8" y2="245.6" stroke="#b8b8b8" stroke-width="0.8" stroke-linecap="round"/>
<line x1="45.8" y1="243.9" x2="47.1" y2="242.4" stroke="#747474" stroke-width="0.8" stroke-linecap="round"/>
<circle cx="37.4" cy="235.5" r="0.7" fill="#3a4fd0"/>
<circle cx="40.1" cy="239" r="0.7" fill="#3a4fd0"/>
<line x1="44" y1="227.8" x2="58.5" y2="242" stroke="#9c9c9c" stroke-width="4.4" stroke-linecap="round" opacity="0.65"/>
<polyline points="45,226.7 45.8,228.6 47.7,229.3 48.4,231.2 50.3,231.9 51.1,233.8 53,234.5 53.7,236.3 55.6,237.1 56.4,238.9 58.2,239.6 59,241.5" fill="none" stroke="#666666" stroke-width="1" stroke-linejoin="round"/>
<polyline points="43.5,228.3 44.3,230.2 46.1,230.9 46.9,232.7 48.8,233.5 49.5,235.3 51.4,236 52.2,237.9 54.1,238.6 54.8,240.5 56.7,241.2 57.5,243.1" fill="none" stroke="#666666" stroke-width="1" stroke-linejoin="round"/>
<line x1="46.3" y1="227.9" x2="47.7" y2="226.8" stroke="#b8b8b8" stroke-width="0.8" stroke-linecap="round"/>
<line x1="44.7" y1="230.7" x2="43.3" y2="231" stroke="#b8b8b8" stroke-width="0.8" stroke-linecap="round"/>
<line x1="48.4" y1="230" x2="49.8" y2="229.3" stroke="#b8b8b8" stroke-width="0.8" stroke-linecap="round"/>
<line x1="47.6" y1="233.5" x2="45.4" y2="234.1" stroke="#b8b8b8" stroke-width="0.8" stroke-linecap="round"/>
<line x1="51.5" y1="233" x2="51.7" y2="231.6" stroke="#b8b8b8" stroke-width="0.8" stroke-linecap="round"/>
<line x1="50.6" y1="236.4" x2="49.7" y2="238.3" stroke="#b8b8b8" stroke-width="0.8" stroke-linecap="round"/>
<line x1="54.6" y1="236" x2="55.1" y2="234.5" stroke="#b8b8b8" stroke-width="0.8" stroke-linecap="round"/>
<line x1="53.3" y1="239.1" x2="52.1" y2="240.1" stroke="#b8b8b8" stroke-width="0.8" stroke-linecap="round"/>
<line x1="57.5" y1="238.9" x2="59.1" y2="238.6" stroke="#747474" stroke-width="0.8" stroke-linecap="round"/>
<line x1="56.1" y1="241.8" x2="55.1" y2="243.1" stroke="#747474" stroke-width="0.8" stroke-linecap="round"/>
<circle cx="49.8" cy="233.5" r="0.7" fill="#3a4fd0"/>
<circle cx="52.7" cy="236.3" r="0.7" fill="#3a4fd0"/>
<line x1="41" y1="227.2" x2="39.6" y2="226" stroke="#747474" stroke-width="1" stroke-linecap="round"/>
<line x1="39.6" y1="226" x2="39.9" y2="224.2" stroke="#747474" stroke-width="1" stroke-linecap="round"/>
<line x1="39.9" y1="224.2" x2="38.6" y2="223" stroke="#747474" stroke-width="1" stroke-linecap="round"/>
<line x1="39.6" y1="226" x2="40.9" y2="225.6" stroke="#b8b8b8" stroke-width="0.8" stroke-linecap="round"/>
<line x1="39.9" y1="224.2" x2="38.7" y2="224.7" stroke="#b8b8b8" stroke-width="0.8" stroke-linecap="round"/>
<circle cx="39" cy="221.5" r="1.1" fill="#e8281e"/>
<circle cx="37.3" cy="223.3" r="1.1" fill="#e8281e"/>
<line x1="43.6" y1="222.9" x2="43.9" y2="221.1" stroke="#747474" stroke-width="1" stroke-linecap="round"/>
<line x1="43.9" y1="221.1" x2="45.7" y2="220.5" stroke="#747474" stroke-width="1" stroke-linecap="round"/>
<line x1="45.7" y1="220.5" x2="46" y2="218.7" stroke="#747474" stroke-width="1" stroke-linecap="round"/>
<line x1="43.9" y1="221.1" x2="44.9" y2="222" stroke="#b8b8b8" stroke-width="0.8" stroke-linecap="round"/>
<line x1="45.7" y1="220.5" x2="44.7" y2="219.7" stroke="#b8b8b8" stroke-width="0.8" stroke-linecap="round"/>
<circle cx="47.5" cy="218.3" r="1.1" fill="#e8281e"/>
<circle cx="45.1" cy="217.7" r="1.1" fill="#e8281e"/>
<line x1="44.5" y1="248.8" x2="44.8" y2="250.6" stroke="#747474" stroke-width="1" stroke-linecap="round"/>
<line x1="44.8" y1="250.6" x2="43.4" y2="251.8" stroke="#747474" stroke-width="1" stroke-linecap="round"/>
<line x1="43.4" y1="251.8" x2="43.7" y2="253.6" stroke="#747474" stroke-width="1" stroke-linecap="round"/>
<line x1="44.8" y1="250.6" x2="43.6" y2="250.1" stroke="#b8b8b8" stroke-width="0.8" stroke-linecap="round"/>
<line x1="43.4" y1="251.8" x2="44.7" y2="252.2" stroke="#b8b8b8" stroke-width="0.8" stroke-linecap="round"/>
<circle cx="42.5" cy="254.5" r="1.1" fill="#e8281e"/>
<circle cx="44.9" cy="254.2" r="1.1" fill="#e8281e"/>
<line x1="46.8" y1="246.6" x2="48.3" y2="247.5" stroke="#747474" stroke-width="1" stroke-linecap="round"/>
<line x1="48.3" y1="247.5" x2="48.3" y2="249.4" stroke="#747474" stroke-width="1" stroke-linecap="round"/>
<line x1="48.3" y1="249.4" x2="49.9" y2="250.3" stroke="#747474" stroke-width="1" stroke-linecap="round"/>
<line x1="48.3" y1="247.5" x2="47.2" y2="248.2" stroke="#b8b8b8" stroke-width="0.8" stroke-linecap="round"/>
<line x1="48.3" y1="249.4" x2="49.5" y2="248.7" stroke="#b8b8b8" stroke-width="0.8" stroke-linecap="round"/>
<circle cx="49.8" cy="251.9" r="1.1" fill="#e8281e"/>
<circle cx="51.2" cy="249.8" r="1.1" fill="#e8281e"/>
<ellipse cx="18.9" cy="310.9" rx="3.3" ry="3" transform="rotate(106.9 18.9 310.9)" fill="#8a8a8a" opacity="0.7"/>
<line x1="19.6" y1="312.3" x2="20.4" y2="313.9" stroke="#747474" stroke-width="0.8" stroke-linecap="round"/>
<line x1="17.8" y1="312.1" x2="16.6" y2="313.4" stroke="#b8b8b8" stroke-width="0.8" stroke-linecap="round"/>
<line x1="17.5" y1="310.2" x2="15.9" y2="309.4" stroke="#747474" stroke-width="0.8" stroke-linecap="round"/>
<line x1="20" y1="312.1" x2="21.2" y2="313.4" stroke="#b8b8b8" stroke-width="0.8" stroke-linecap="round"/>
<line x1="17.9" y1="312.1" x2="16.7" y2="313.5" stroke="#747474" stroke-width="0.8" stroke-linecap="round"/>
<ellipse cx="13.4" cy="329.1" rx="3.3" ry="3" transform="rotate(106.9 13.4 329.1)" fill="#8a8a8a" opacity="0.7"/>
<line x1="14.6" y1="328.1" x2="16" y2="327" stroke="#747474" stroke-width="0.8" stroke-linecap="round"/>
<line x1="15" y1="328.9" x2="16.8" y2="328.7" stroke="#b8b8b8" stroke-width="0.8" stroke-linecap="round"/>
<line x1="12.5" y1="327.8" x2="11.5" y2="326.3" stroke="#747474" stroke-width="0.8" stroke-linecap="round"/>
<line x1="12.8" y1="327.6" x2="12.1" y2="325.9" stroke="#b8b8b8" stroke-width="0.8" stroke-linecap="round"/>
<line x1="12" y1="328.3" x2="10.4" y2="327.4" stroke="#747474" stroke-width="0.8" stroke-linecap="round"/>
<line x1="19.8" y1="308" x2="12.5" y2="332" stroke="#9c9c9c" stroke-width="2.4" stroke-linecap="round" opacity="0.65"/>
<polyline points="20.8,308.3 19.4,309.9 19.6,312 18.3,313.6 18.5,315.7 17.2,317.3 17.4,319.4 16.1,321 16.3,323.1 14.9,324.7 15.1,326.8 13.8,328.4 14,330.4 12.7,332.1" fill="none" stroke="#666666" stroke-width="1" stroke-linejoin="round"/>
<polyline points="19.6,307.9 18.3,309.6 18.5,311.6 17.2,313.2 17.4,315.3 16,316.9 16.2,319 14.9,320.6 15.1,322.7 13.8,324.3 14,326.4 12.7,328 12.9,330.1 11.5,331.7" fill="none" stroke="#666666" stroke-width="1" stroke-linejoin="round"/>
<line x1="20.5" y1="308.6" x2="21.8" y2="308.1" stroke="#b8b8b8" stroke-width="0.8" stroke-linecap="round"/>
<line x1="18" y1="311.1" x2="15.8" y2="312" stroke="#b8b8b8" stroke-width="0.8" stroke-linecap="round"/>
<line x1="19.1" y1="313.2" x2="21.2" y2="313.3" stroke="#b8b8b8" stroke-width="0.8" stroke-linecap="round"/>
<line x1="17.1" y1="313.9" x2="15.6" y2="312.8" stroke="#b8b8b8" stroke-width="0.8" stroke-linecap="round"/>
<line x1="17.7" y1="317.7" x2="19.3" y2="319" stroke="#b8b8b8" stroke-width="0.8" stroke-linecap="round"/>
<line x1="15.7" y1="318.5" x2="14.4" y2="316.9" stroke="#b8b8b8" stroke-width="0.8" stroke-linecap="round"/>
<line x1="16.7" y1="321.1" x2="18.2" y2="322.6" stroke="#b8b8b8" stroke-width="0.8" stroke-linecap="round"/>
<line x1="14.4" y1="323" x2="12.8" y2="322.3" stroke="#b8b8b8" stroke-width="0.8" stroke-linecap="round"/>
<line x1="15.7" y1="324.4" x2="16.8" y2="326.1" stroke="#b8b8b8" stroke-width="0.8" stroke-linecap="round"/>
<line x1="13.1" y1="327.2" x2="11.7" y2="326.2" stroke="#b8b8b8" stroke-width="0.8" stroke-linecap="round"/>
<line x1="14.3" y1="329.1" x2="16.4" y2="328.5" stroke="#b8b8b8" stroke-width="0.8" stroke-linecap="round"/>
<line x1="12.3" y1="329.9" x2="10.4" y2="329.3" stroke="#747474" stroke-width="0.8" stroke-linecap="round"/>
<circle cx="16.9" cy="317.6" r="0.7" fill="#3a4fd0"/>
<circle cx="15.4" cy="322.4" r="0.7" fill="#3a4fd0"/>
<line x1="12.5" y1="332" x2="9.7" y2="332.7" stroke="#747474" stroke-width="0.9" stroke-linecap="round"/>
<line x1="9.7" y1="332.7" x2="7.8" y2="333.4" stroke="#747474" stroke-width="0.9" stroke-linecap="round"/>
<circle cx="6.5" cy="333" r="1" fill="#e8281e"/>
<circle cx="7.4" cy="334.7" r="1" fill="#e8281e"/>
<line x1="12.5" y1="332" x2="14.5" y2="334.2" stroke="#747474" stroke-width="0.9" stroke-linecap="round"/>
<line x1="14.5" y1="334.2" x2="15.6" y2="335.8" stroke="#747474" stroke-width="0.9" stroke-linecap="round"/>
<circle cx="16.9" cy="336.2" r="1" fill="#e8281e"/>
<circle cx="15.2" cy="337.1" r="1" fill="#e8281e"/>
<ellipse cx="135.1" cy="329.4" rx="3.1" ry="3" transform="rotate(17.2 135.1 329.4)" fill="#8a8a8a" opacity="0.7"/>
<line x1="134.6" y1="327.8" x2="134.1" y2="326.1" stroke="#747474" stroke-width="0.8" stroke-linecap="round"/>
<line x1="133.5" y1="329.4" x2="131.7" y2="329.4" stroke="#b8b8b8" stroke-width="0.8" stroke-linecap="round"/>
<line x1="133.9" y1="328.3" x2="132.6" y2="327.1" stroke="#747474" stroke-width="0.8" stroke-linecap="round"/>
<line x1="136.6" y1="328.6" x2="138.1" y2="327.7" stroke="#b8b8b8" stroke-width="0.8" stroke-linecap="round"/>
<line x1="135.1" y1="331" x2="135" y2="332.7" stroke="#747474" stroke-width="0.8" stroke-linecap="round"/>
<ellipse cx="152.6" cy="334.7" rx="3.1" ry="3" transform="rotate(17.2 152.6 334.7)" fill="#8a8a8a" opacity="0.7"/>
<line x1="154.1" y1="334.9" x2="155.9" y2="335" stroke="#747474" stroke-width="0.8" stroke-linecap="round"/>
<line x1="152" y1="336.3" x2="151.5" y2="338" stroke="#b8b8b8" stroke-width="0.8" stroke-linecap="round"/>
<line x1="151.9" y1="333.3" x2="151.1" y2="331.7" stroke="#747474" stroke-width="0.8" stroke-linecap="round"/>
<line x1="153" y1="336.3" x2="153.6" y2="338" stroke="#b8b8b8" stroke-width="0.8" stroke-linecap="round"/>
<line x1="153.3" y1="336.1" x2="154.2" y2="337.7" stroke="#747474" stroke-width="0.8" stroke-linecap="round"/>
<line x1="132.4" y1="328.5" x2="155.3" y2="335.6" stroke="#9c9c9c" stroke-width="2.4" stroke-linecap="round" opacity="0.65"/>
<polyline points="132.7,327.5 134.2,328.9 136.2,328.6 137.7,329.9 139.7,329.7 141.3,331 143.3,330.8 144.8,332.1 146.8,331.9 148.3,333.2 150.3,333 151.8,334.3 153.8,334.1 155.4,335.4" fill="none" stroke="#666666" stroke-width="1" stroke-linejoin="round"/>
<polyline points="132.3,328.7 133.9,330 135.9,329.8 137.4,331.1 139.4,330.9 140.9,332.2 142.9,332 144.4,333.3 146.4,333.1 148,334.4 150,334.2 151.5,335.5 153.5,335.2 155,336.6" fill="none" stroke="#666666" stroke-width="1" stroke-linejoin="round"/>
<line x1="134.4" y1="328.3" x2="134.9" y2="326.3" stroke="#b8b8b8" stroke-width="0.8" stroke-linecap="round"/>
<line x1="135" y1="330.2" x2="135.2" y2="332.2" stroke="#747474" stroke-width="0.8" stroke-linecap="round"/>
<line x1="138.4" y1="329.5" x2="140.1" y2="327.9" stroke="#747474" stroke-width="0.8" stroke-linecap="round"/>
<line x1="139.6" y1="331.6" x2="139.9" y2="333.2" stroke="#747474" stroke-width="0.8" stroke-linecap="round"/>
<line x1="142.6" y1="330.8" x2="143.9" y2="328.9" stroke="#b8b8b8" stroke-width="0.8" stroke-linecap="round"/>
<line x1="143.2" y1="332.7" x2="142.9" y2="334.2" stroke="#747474" stroke-width="0.8" stroke-linecap="round"/>
<line x1="145.7" y1="331.7" x2="146.5" y2="330.2" stroke="#747474" stroke-width="0.8" stroke-linecap="round"/>
<line x1="147.4" y1="334" x2="145.6" y2="335.3" stroke="#747474" stroke-width="0.8" stroke-linecap="round"/>
<line x1="149.6" y1="332.9" x2="150.5" y2="332" stroke="#747474" stroke-width="0.8" stroke-linecap="round"/>
<line x1="152.3" y1="335.6" x2="152.2" y2="337.5" stroke="#b8b8b8" stroke-width="0.8" stroke-linecap="round"/>
<line x1="153.6" y1="334.2" x2="154" y2="332.8" stroke="#747474" stroke-width="0.8" stroke-linecap="round"/>
<circle cx="141.6" cy="331.3" r="0.7" fill="#3a4fd0"/>
<circle cx="146.1" cy="332.8" r="0.7" fill="#3a4fd0"/>
<line x1="132.4" y1="328.5" x2="130.2" y2="330.4" stroke="#747474" stroke-width="0.9" stroke-linecap="round"/>
<line x1="130.2" y1="330.4" x2="128.6" y2="331.6" stroke="#747474" stroke-width="0.9" stroke-linecap="round"/>
<circle cx="128.2" cy="332.9" r="1" fill="#e8281e"/>
<circle cx="127.3" cy="331.2" r="1" fill="#e8281e"/>
<line x1="132.4" y1="328.5" x2="131.7" y2="325.7" stroke="#747474" stroke-width="0.9" stroke-linecap="round"/>
<line x1="131.7" y1="325.7" x2="131" y2="323.8" stroke="#747474" stroke-width="0.9" stroke-linecap="round"/>
<circle cx="131.4" cy="322.5" r="1" fill="#e8281e"/>
<circle cx="129.7" cy="323.4" r="1" fill="#e8281e"/>
<ellipse cx="228.9" cy="330.7" rx="3.1" ry="3" transform="rotate(-42.5 228.9 330.7)" fill="#8a8a8a" opacity="0.7"/>
<line x1="229.7" y1="329.3" x2="230.5" y2="327.7" stroke="#747474" stroke-width="0.8" stroke-linecap="round"/>
<line x1="229" y1="332.3" x2="229.2" y2="334.1" stroke="#b8b8b8" stroke-width="0.8" stroke-linecap="round"/>
<line x1="229.9" y1="331.9" x2="231.1" y2="333.3" stroke="#747474" stroke-width="0.8" stroke-linecap="round"/>
<line x1="230.4" y1="331.1" x2="232.2" y2="331.7" stroke="#b8b8b8" stroke-width="0.8" stroke-linecap="round"/>
<line x1="227.8" y1="329.5" x2="226.6" y2="328.2" stroke="#747474" stroke-width="0.8" stroke-linecap="round"/>
<ellipse cx="242.3" cy="318.4" rx="3.1" ry="3" transform="rotate(-42.5 242.3 318.4)" fill="#8a8a8a" opacity="0.7"/>
<line x1="240.8" y1="319" x2="239.1" y2="319.6" stroke="#747474" stroke-width="0.8" stroke-linecap="round"/>
<line x1="241.2" y1="317.3" x2="240" y2="316" stroke="#b8b8b8" stroke-width="0.8" stroke-linecap="round"/>
<line x1="241.4" y1="317.1" x2="240.4" y2="315.6" stroke="#747474" stroke-width="0.8" stroke-linecap="round"/>
<line x1="242.9" y1="316.9" x2="243.5" y2="315.3" stroke="#b8b8b8" stroke-width="0.8" stroke-linecap="round"/>
<line x1="243.8" y1="318" x2="245.6" y2="317.6" stroke="#747474" stroke-width="0.8" stroke-linecap="round"/>
<line x1="226.8" y1="332.6" x2="244.4" y2="316.5" stroke="#9c9c9c" stroke-width="2.4" stroke-linecap="round" opacity="0.65"/>
<polyline points="226.1,331.9 228,331.2 228.8,329.4 230.7,328.7 231.5,326.9 233.4,326.3 234.2,324.4 236.1,323.8 237,322 238.8,321.3 239.7,319.5 241.6,318.8 242.4,317 244.3,316.4" fill="none" stroke="#666666" stroke-width="1" stroke-linejoin="round"/>
<polyline points="226.9,332.7 228.8,332.1 229.6,330.3 231.5,329.6 232.4,327.8 234.2,327.1 235.1,325.3 237,324.7 237.8,322.8 239.7,322.2 240.5,320.4 242.4,319.7 243.2,317.9 245.1,317.2" fill="none" stroke="#666666" stroke-width="1" stroke-linejoin="round"/>
<line x1="227.3" y1="331" x2="226.2" y2="329.9" stroke="#747474" stroke-width="0.8" stroke-linecap="round"/>
<line x1="229.1" y1="331.7" x2="229.9" y2="333.3" stroke="#747474" stroke-width="0.8" stroke-linecap="round"/>
<line x1="229.9" y1="328.6" x2="229.2" y2="327.1" stroke="#747474" stroke-width="0.8" stroke-linecap="round"/>
<line x1="233.1" y1="327.9" x2="234.8" y2="329.3" stroke="#b8b8b8" stroke-width="0.8" stroke-linecap="round"/>
<line x1="234" y1="324.9" x2="233.8" y2="323.5" stroke="#b8b8b8" stroke-width="0.8" stroke-linecap="round"/>
<line x1="235.6" y1="325.6" x2="236.6" y2="327.2" stroke="#b8b8b8" stroke-width="0.8" stroke-linecap="round"/>
<line x1="236.5" y1="322.6" x2="236.1" y2="320.7" stroke="#b8b8b8" stroke-width="0.8" stroke-linecap="round"/>
<line x1="240" y1="321.7" x2="240.9" y2="323.2" stroke="#747474" stroke-width="0.8" stroke-linecap="round"/>
<line x1="240.1" y1="319.3" x2="239" y2="317.4" stroke="#b8b8b8" stroke-width="0.8" stroke-linecap="round"/>
<line x1="242.2" y1="319.7" x2="242.3" y2="322" stroke="#b8b8b8" stroke-width="0.8" stroke-linecap="round"/>
<line x1="243.1" y1="316.6" x2="241.3" y2="315.4" stroke="#b8b8b8" stroke-width="0.8" stroke-linecap="round"/>
<circle cx="233.8" cy="326.2" r="0.7" fill="#3a4fd0"/>
<circle cx="237.4" cy="322.9" r="0.7" fill="#3a4fd0"/>
<line x1="244.4" y1="316.5" x2="247.2" y2="317.3" stroke="#747474" stroke-width="0.9" stroke-linecap="round"/>
<line x1="247.2" y1="317.3" x2="249.2" y2="317.7" stroke="#747474" stroke-width="0.9" stroke-linecap="round"/>
<circle cx="250" cy="318.7" r="1" fill="#e8281e"/>
<circle cx="250.2" cy="316.8" r="1" fill="#e8281e"/>
<line x1="244.4" y1="316.5" x2="243.8" y2="313.6" stroke="#747474" stroke-width="0.9" stroke-linecap="round"/>
<line x1="243.8" y1="313.6" x2="243.6" y2="311.7" stroke="#747474" stroke-width="0.9" stroke-linecap="round"/>
<circle cx="242.7" cy="310.7" r="1" fill="#e8281e"/>
<circle cx="244.7" cy="310.7" r="1" fill="#e8281e"/>
<line x1="177" y1="242.5" x2="178" y2="244.2" stroke="#747474" stroke-width="1" stroke-linecap="round"/>
<line x1="177" y1="242.5" x2="178" y2="240.8" stroke="#747474" stroke-width="1" stroke-linecap="round"/>
<line x1="178" y1="244.2" x2="179.7" y2="243.5" stroke="#747474" stroke-width="1" stroke-linecap="round"/>
<line x1="178" y1="240.8" x2="179.7" y2="241.5" stroke="#747474" stroke-width="1" stroke-linecap="round"/>
<line x1="179.7" y1="243.5" x2="179.7" y2="241.5" stroke="#747474" stroke-width="1" stroke-linecap="round"/>
<line x1="178" y1="244.2" x2="177.5" y2="246.2" stroke="#747474" stroke-width="1" stroke-linecap="round"/>
<line x1="177.5" y1="246.2" x2="175.8" y2="246.9" stroke="#747474" stroke-width="1" stroke-linecap="round"/>
<line x1="174.5" y1="245.6" x2="173.2" y2="246.9" stroke="#747474" stroke-width="1" stroke-linecap="round"/>
<line x1="174.5" y1="245.6" x2="175.8" y2="246.9" stroke="#747474" stroke-width="1" stroke-linecap="round"/>
<line x1="173.2" y1="246.9" x2="173.7" y2="249" stroke="#747474" stroke-width="1" stroke-linecap="round"/>
<line x1="175.8" y1="246.9" x2="175.3" y2="249" stroke="#747474" stroke-width="1" stroke-linecap="round"/>
<line x1="173.7" y1="249" x2="175.3" y2="249" stroke="#747474" stroke-width="1" stroke-linecap="round"/>
<line x1="173.2" y1="246.9" x2="171.5" y2="246.2" stroke="#747474" stroke-width="1" stroke-linecap="round"/>
<line x1="171.5" y1="246.2" x2="171" y2="244.2" stroke="#747474" stroke-width="1" stroke-linecap="round"/>
<line x1="172" y1="242.5" x2="171" y2="240.8" stroke="#747474" stroke-width="1" stroke-linecap="round"/>
<line x1="172" y1="242.5" x2="171" y2="244.2" stroke="#747474" stroke-width="1" stroke-linecap="round"/>
<line x1="171" y1="240.8" x2="169.3" y2="241.5" stroke="#747474" stroke-width="1" stroke-linecap="round"/>
<line x1="171" y1="244.2" x2="169.3" y2="243.5" stroke="#747474" stroke-width="1" stroke-linecap="round"/>
<line x1="169.3" y1="241.5" x2="169.3" y2="243.5" stroke="#747474" stroke-width="1" stroke-linecap="round"/>
<line x1="171" y1="240.8" x2="171.5" y2="238.8" stroke="#747474" stroke-width="1" stroke-linecap="round"/>
<line x1="171.5" y1="238.8" x2="173.2" y2="238.1" stroke="#747474" stroke-width="1" stroke-linecap="round"/>
<line x1="174.5" y1="239.4" x2="175.8" y2="238.1" stroke="#747474" stroke-width="1" stroke-linecap="round"/>
<line x1="174.5" y1="239.4" x2="173.2" y2="238.1" stroke="#747474" stroke-width="1" stroke-linecap="round"/>
<line x1="175.8" y1="238.1" x2="175.3" y2="236" stroke="#747474" stroke-width="1" stroke-linecap="round"/>
<line x1="173.2" y1="238.1" x2="173.7" y2="236" stroke="#747474" stroke-width="1" stroke-linecap="round"/>
<line x1="175.3" y1="236" x2="173.7" y2="236" stroke="#747474" stroke-width="1" stroke-linecap="round"/>
<line x1="175.8" y1="238.1" x2="177.5" y2="238.8" stroke="#747474" stroke-width="1" stroke-linecap="round"/>
<line x1="177.5" y1="238.8" x2="178" y2="240.8" stroke="#747474" stroke-width="1" stroke-linecap="round"/>
<circle cx="169.3" cy="243.5" r="0.7" fill="#7a7a7a"/>
<circle cx="175.3" cy="249" r="0.7" fill="#7a7a7a"/>
<circle cx="171.5" cy="238.8" r="0.7" fill="#7a7a7a"/>
<circle cx="177" cy="242.5" r="0.7" fill="#7a7a7a"/>
<circle cx="179.7" cy="243.5" r="0.7" fill="#7a7a7a"/>
<circle cx="174.5" cy="239.4" r="0.7" fill="#7a7a7a"/>
<circle cx="177.5" cy="238.8" r="0.7" fill="#7a7a7a"/>
<circle cx="171.5" cy="246.2" r="0.7" fill="#7a7a7a"/>
<circle cx="169.3" cy="241.5" r="0.7" fill="#7a7a7a"/>
<circle cx="172" cy="242.5" r="0.7" fill="#7a7a7a"/>
<circle cx="177.5" cy="246.2" r="0.7" fill="#7a7a7a"/>
<circle cx="174.5" cy="245.6" r="0.7" fill="#7a7a7a"/>
<circle cx="179.7" cy="241.5" r="0.7" fill="#7a7a7a"/>
<circle cx="173.7" cy="236" r="0.7" fill="#7a7a7a"/>
<circle cx="173.2" cy="246.9" r="0.7" fill="#7a7a7a"/>
<circle cx="173.2" cy="238.1" r="0.7" fill="#7a7a7a"/>
<circle cx="175.3" cy="236" r="0.7" fill="#7a7a7a"/>
<circle cx="178" cy="240.8" r="0.7" fill="#7a7a7a"/>
<circle cx="178" cy="244.2" r="0.7" fill="#7a7a7a"/>
<circle cx="173.7" cy="249" r="0.7" fill="#7a7a7a"/>
<circle cx="175.8" cy="246.9" r="0.7" fill="#7a7a7a"/>
<circle cx="175.8" cy="238.1" r="0.7" fill="#7a7a7a"/>
<circle cx="171" cy="240.8" r="0.7" fill="#7a7a7a"/>
<circle cx="171" cy="244.2" r="0.7" fill="#7a7a7a"/>
<line x1="177.5" y1="246.2" x2="178.7" y2="247.7" stroke="#b8b8b8" stroke-width="0.8" stroke-linecap="round"/>
<line x1="171.5" y1="246.2" x2="170.3" y2="247.7" stroke="#b8b8b8" stroke-width="0.8" stroke-linecap="round"/>
<line x1="171.5" y1="238.8" x2="170.3" y2="237.3" stroke="#b8b8b8" stroke-width="0.8" stroke-linecap="round"/>
<line x1="177.5" y1="238.8" x2="178.7" y2="237.3" stroke="#b8b8b8" stroke-width="0.8" stroke-linecap="round"/>
<line x1="179.7" y1="243.5" x2="181.7" y2="245.1" stroke="#747474" stroke-width="0.9" stroke-linecap="round"/>
<line x1="181.7" y1="245.1" x2="184.3" y2="244.7" stroke="#747474" stroke-width="0.9" stroke-linecap="round"/>
<line x1="184.3" y1="244.7" x2="186.1" y2="246.7" stroke="#747474" stroke-width="0.9" stroke-linecap="round"/>
<line x1="181.7" y1="245.1" x2="181.2" y2="246.4" stroke="#b8b8b8" stroke-width="0.7" stroke-linecap="round"/>
<line x1="184.3" y1="244.7" x2="183.8" y2="246" stroke="#b8b8b8" stroke-width="0.7" stroke-linecap="round"/>
<line x1="186.1" y1="246.7" x2="187.1" y2="248.4" stroke="#747474" stroke-width="0.8" stroke-linecap="round"/>
<line x1="186.1" y1="246.7" x2="187" y2="245.2" stroke="#747474" stroke-width="0.8" stroke-linecap="round"/>
<line x1="179.7" y1="241.5" x2="181.4" y2="240.1" stroke="#747474" stroke-width="0.9" stroke-linecap="round"/>
<line x1="181.4" y1="240.1" x2="181.3" y2="238.7" stroke="#b8b8b8" stroke-width="0.7" stroke-linecap="round"/>
<line x1="181.4" y1="240.1" x2="182.4" y2="239.2" stroke="#b8b8b8" stroke-width="0.7" stroke-linecap="round"/>
<line x1="181.4" y1="240.1" x2="182.7" y2="240.3" stroke="#b8b8b8" stroke-width="0.7" stroke-linecap="round"/>
<line x1="173.7" y1="249" x2="172.5" y2="251.1" stroke="#747474" stroke-width="0.9" stroke-linecap="round"/>
<line x1="172.5" y1="251.1" x2="173.1" y2="252.3" stroke="#b8b8b8" stroke-width="0.7" stroke-linecap="round"/>
<line x1="172.5" y1="251.1" x2="171.9" y2="252.3" stroke="#b8b8b8" stroke-width="0.7" stroke-linecap="round"/>
<line x1="172.5" y1="251.1" x2="171.2" y2="251.3" stroke="#b8b8b8" stroke-width="0.7" stroke-linecap="round"/>
<line x1="175.3" y1="249" x2="175.4" y2="251.5" stroke="#747474" stroke-width="0.9" stroke-linecap="round"/>
<line x1="175.4" y1="251.5" x2="177.4" y2="253.3" stroke="#747474" stroke-width="0.9" stroke-linecap="round"/>
<line x1="177.4" y1="253.3" x2="177" y2="255.9" stroke="#747474" stroke-width="0.9" stroke-linecap="round"/>
<line x1="175.4" y1="251.5" x2="174.1" y2="252" stroke="#b8b8b8" stroke-width="0.7" stroke-linecap="round"/>
<line x1="177.4" y1="253.3" x2="176.1" y2="253.8" stroke="#b8b8b8" stroke-width="0.7" stroke-linecap="round"/>
<line x1="177" y1="255.9" x2="176.4" y2="257.8" stroke="#747474" stroke-width="0.8" stroke-linecap="round"/>
<line x1="177" y1="255.9" x2="178.7" y2="255.7" stroke="#747474" stroke-width="0.8" stroke-linecap="round"/>
<line x1="169.3" y1="241.5" x2="167.6" y2="240.1" stroke="#747474" stroke-width="0.9" stroke-linecap="round"/>
<line x1="167.6" y1="240.1" x2="166.3" y2="240.3" stroke="#b8b8b8" stroke-width="0.7" stroke-linecap="round"/>
<line x1="167.6" y1="240.1" x2="166.6" y2="239.2" stroke="#b8b8b8" stroke-width="0.7" stroke-linecap="round"/>
<line x1="167.6" y1="240.1" x2="167.7" y2="238.7" stroke="#b8b8b8" stroke-width="0.7" stroke-linecap="round"/>
<line x1="169.3" y1="243.5" x2="167.6" y2="244.9" stroke="#747474" stroke-width="0.9" stroke-linecap="round"/>
<line x1="167.6" y1="244.9" x2="167.7" y2="246.3" stroke="#b8b8b8" stroke-width="0.7" stroke-linecap="round"/>
<line x1="167.6" y1="244.9" x2="166.6" y2="245.8" stroke="#b8b8b8" stroke-width="0.7" stroke-linecap="round"/>
<line x1="167.6" y1="244.9" x2="166.3" y2="244.7" stroke="#b8b8b8" stroke-width="0.7" stroke-linecap="round"/>
<line x1="175.3" y1="236" x2="176.5" y2="233.9" stroke="#747474" stroke-width="0.9" stroke-linecap="round"/>
<line x1="176.5" y1="233.9" x2="175.9" y2="232.7" stroke="#b8b8b8" stroke-width="0.7" stroke-linecap="round"/>
<line x1="176.5" y1="233.9" x2="177.1" y2="232.7" stroke="#b8b8b8" stroke-width="0.7" stroke-linecap="round"/>
<line x1="176.5" y1="233.9" x2="177.8" y2="233.7" stroke="#b8b8b8" stroke-width="0.7" stroke-linecap="round"/>
<line x1="173.7" y1="236" x2="172.5" y2="233.9" stroke="#747474" stroke-width="0.9" stroke-linecap="round"/>
<line x1="172.5" y1="233.9" x2="171.2" y2="233.7" stroke="#b8b8b8" stroke-width="0.7" stroke-linecap="round"/>
<line x1="172.5" y1="233.9" x2="171.9" y2="232.7" stroke="#b8b8b8" stroke-width="0.7" stroke-linecap="round"/>
<line x1="172.5" y1="233.9" x2="173.1" y2="232.7" stroke="#b8b8b8" stroke-width="0.7" stroke-linecap="round"/>
<circle cx="177" cy="242.5" r="0.6" fill="#3a4fd0"/>
<circle cx="174.5" cy="245.6" r="0.6" fill="#3a4fd0"/>
<circle cx="172" cy="242.5" r="0.6" fill="#3a4fd0"/>
<circle cx="174.5" cy="239.4" r="0.6" fill="#3a4fd0"/>
<circle cx="174.5" cy="242.5" r="0.7" fill="#dde84a"/>
<circle cx="187.1" cy="248.4" r="0.9" fill="#e8281e"/>
<circle cx="187" cy="245.2" r="0.9" fill="#e8281e"/>
<circle cx="176.4" cy="257.8" r="0.9" fill="#e8281e"/>
<circle cx="178.7" cy="255.7" r="0.9" fill="#e8281e"/>
<line x1="214.5" y1="237.5" x2="215.6" y2="239.2" stroke="#747474" stroke-width="1" stroke-linecap="round"/>
<line x1="214.5" y1="237.5" x2="215.6" y2="235.8" stroke="#747474" stroke-width="1" stroke-linecap="round"/>
<line x1="215.6" y1="239.2" x2="217.3" y2="238.5" stroke="#747474" stroke-width="1" stroke-linecap="round"/>
<line x1="215.6" y1="235.8" x2="217.3" y2="236.5" stroke="#747474" stroke-width="1" stroke-linecap="round"/>
<line x1="217.3" y1="238.5" x2="217.3" y2="236.5" stroke="#747474" stroke-width="1" stroke-linecap="round"/>
<line x1="215.6" y1="239.2" x2="215" y2="241.2" stroke="#747474" stroke-width="1" stroke-linecap="round"/>
<line x1="215" y1="241.2" x2="213.2" y2="241.9" stroke="#747474" stroke-width="1" stroke-linecap="round"/>
<line x1="211.8" y1="240.6" x2="210.4" y2="241.9" stroke="#747474" stroke-width="1" stroke-linecap="round"/>
<line x1="211.8" y1="240.6" x2="213.2" y2="241.9" stroke="#747474" stroke-width="1" stroke-linecap="round"/>
<line x1="210.4" y1="241.9" x2="210.9" y2="244" stroke="#747474" stroke-width="1" stroke-linecap="round"/>
<line x1="213.2" y1="241.9" x2="212.7" y2="244" stroke="#747474" stroke-width="1" stroke-linecap="round"/>
<line x1="210.9" y1="244" x2="212.7" y2="244" stroke="#747474" stroke-width="1" stroke-linecap="round"/>
<line x1="210.4" y1="241.9" x2="208.6" y2="241.2" stroke="#747474" stroke-width="1" stroke-linecap="round"/>
<line x1="208.6" y1="241.2" x2="208" y2="239.2" stroke="#747474" stroke-width="1" stroke-linecap="round"/>
<line x1="209.1" y1="237.5" x2="208" y2="235.8" stroke="#747474" stroke-width="1" stroke-linecap="round"/>
<line x1="209.1" y1="237.5" x2="208" y2="239.2" stroke="#747474" stroke-width="1" stroke-linecap="round"/>
<line x1="208" y1="235.8" x2="206.3" y2="236.5" stroke="#747474" stroke-width="1" stroke-linecap="round"/>
<line x1="208" y1="239.2" x2="206.3" y2="238.5" stroke="#747474" stroke-width="1" stroke-linecap="round"/>
<line x1="206.3" y1="236.5" x2="206.3" y2="238.5" stroke="#747474" stroke-width="1" stroke-linecap="round"/>
<line x1="208" y1="235.8" x2="208.6" y2="233.8" stroke="#747474" stroke-width="1" stroke-linecap="round"/>
<line x1="208.6" y1="233.8" x2="210.4" y2="233.1" stroke="#747474" stroke-width="1" stroke-linecap="round"/>
<line x1="211.8" y1="234.4" x2="213.2" y2="233.1" stroke="#747474" stroke-width="1" stroke-linecap="round"/>
<line x1="211.8" y1="234.4" x2="210.4" y2="233.1" stroke="#747474" stroke-width="1" stroke-linecap="round"/>
<line x1="213.2" y1="233.1" x2="212.7" y2="231" stroke="#747474" stroke-width="1" stroke-linecap="round"/>
<line x1="210.4" y1="233.1" x2="210.9" y2="231" stroke="#747474" stroke-width="1" stroke-linecap="round"/>
<line x1="212.7" y1="231" x2="210.9" y2="231" stroke="#747474" stroke-width="1" stroke-linecap="round"/>
<line x1="213.2" y1="233.1" x2="215" y2="233.8" stroke="#747474" stroke-width="1" stroke-linecap="round"/>
<line x1="215" y1="233.8" x2="215.6" y2="235.8" stroke="#747474" stroke-width="1" stroke-linecap="round"/>
<circle cx="206.3" cy="238.5" r="0.7" fill="#7a7a7a"/>
<circle cx="212.7" cy="244" r="0.7" fill="#7a7a7a"/>
<circle cx="208.6" cy="233.8" r="0.7" fill="#7a7a7a"/>
<circle cx="214.5" cy="237.5" r="0.7" fill="#7a7a7a"/>
<circle cx="217.3" cy="238.5" r="0.7" fill="#7a7a7a"/>
<circle cx="211.8" cy="234.4" r="0.7" fill="#7a7a7a"/>
<circle cx="215" cy="233.8" r="0.7" fill="#7a7a7a"/>
<circle cx="208.6" cy="241.2" r="0.7" fill="#7a7a7a"/>
<circle cx="206.3" cy="236.5" r="0.7" fill="#7a7a7a"/>
<circle cx="209.1" cy="237.5" r="0.7" fill="#7a7a7a"/>
<circle cx="215" cy="241.2" r="0.7" fill="#7a7a7a"/>
<circle cx="211.8" cy="240.6" r="0.7" fill="#7a7a7a"/>
<circle cx="217.3" cy="236.5" r="0.7" fill="#7a7a7a"/>
<circle cx="210.9" cy="231" r="0.7" fill="#7a7a7a"/>
<circle cx="210.4" cy="241.9" r="0.7" fill="#7a7a7a"/>
<circle cx="210.4" cy="233.1" r="0.7" fill="#7a7a7a"/>
<circle cx="212.7" cy="231" r="0.7" fill="#7a7a7a"/>
<circle cx="215.6" cy="235.8" r="0.7" fill="#7a7a7a"/>
<circle cx="215.6" cy="239.2" r="0.7" fill="#7a7a7a"/>
<circle cx="210.9" cy="244" r="0.7" fill="#7a7a7a"/>
<circle cx="213.2" cy="241.9" r="0.7" fill="#7a7a7a"/>
<circle cx="213.2" cy="233.1" r="0.7" fill="#7a7a7a"/>
<circle cx="208" cy="235.8" r="0.7" fill="#7a7a7a"/>
<circle cx="208" cy="239.2" r="0.7" fill="#7a7a7a"/>
<line x1="215" y1="241.2" x2="216.2" y2="242.7" stroke="#b8b8b8" stroke-width="0.8" stroke-linecap="round"/>
<line x1="208.6" y1="241.2" x2="207.4" y2="242.7" stroke="#b8b8b8" stroke-width="0.8" stroke-linecap="round"/>
<line x1="208.6" y1="233.8" x2="207.4" y2="232.3" stroke="#b8b8b8" stroke-width="0.8" stroke-linecap="round"/>
<line x1="215" y1="233.8" x2="216.2" y2="232.3" stroke="#b8b8b8" stroke-width="0.8" stroke-linecap="round"/>
<line x1="217.3" y1="238.5" x2="219.1" y2="239.9" stroke="#747474" stroke-width="0.9" stroke-linecap="round"/>
<line x1="219.1" y1="239.9" x2="220.4" y2="239.6" stroke="#b8b8b8" stroke-width="0.7" stroke-linecap="round"/>
<line x1="219.1" y1="239.9" x2="220.1" y2="240.8" stroke="#b8b8b8" stroke-width="0.7" stroke-linecap="round"/>
<line x1="219.1" y1="239.9" x2="219.1" y2="241.3" stroke="#b8b8b8" stroke-width="0.7" stroke-linecap="round"/>
<line x1="217.3" y1="236.5" x2="219.1" y2="235.1" stroke="#747474" stroke-width="0.9" stroke-linecap="round"/>
<line x1="219.1" y1="235.1" x2="219.1" y2="233.7" stroke="#b8b8b8" stroke-width="0.7" stroke-linecap="round"/>
<line x1="219.1" y1="235.1" x2="220.1" y2="234.2" stroke="#b8b8b8" stroke-width="0.7" stroke-linecap="round"/>
<line x1="219.1" y1="235.1" x2="220.4" y2="235.4" stroke="#b8b8b8" stroke-width="0.7" stroke-linecap="round"/>
<line x1="210.9" y1="244" x2="209.7" y2="246.1" stroke="#747474" stroke-width="0.9" stroke-linecap="round"/>
<line x1="209.7" y1="246.1" x2="210.2" y2="247.3" stroke="#b8b8b8" stroke-width="0.7" stroke-linecap="round"/>
<line x1="209.7" y1="246.1" x2="209" y2="247.2" stroke="#b8b8b8" stroke-width="0.7" stroke-linecap="round"/>
<line x1="209.7" y1="246.1" x2="208.4" y2="246.3" stroke="#b8b8b8" stroke-width="0.7" stroke-linecap="round"/>
<line x1="212.7" y1="244" x2="213.9" y2="246.1" stroke="#747474" stroke-width="0.9" stroke-linecap="round"/>
<line x1="213.9" y1="246.1" x2="215.2" y2="246.3" stroke="#b8b8b8" stroke-width="0.7" stroke-linecap="round"/>
<line x1="213.9" y1="246.1" x2="214.6" y2="247.2" stroke="#b8b8b8" stroke-width="0.7" stroke-linecap="round"/>
<line x1="213.9" y1="246.1" x2="213.4" y2="247.3" stroke="#b8b8b8" stroke-width="0.7" stroke-linecap="round"/>
<line x1="206.3" y1="236.5" x2="204.6" y2="234.6" stroke="#747474" stroke-width="0.9" stroke-linecap="round"/>
<line x1="204.6" y1="234.6" x2="201.9" y2="234.5" stroke="#747474" stroke-width="0.9" stroke-linecap="round"/>
<line x1="201.9" y1="234.5" x2="200.5" y2="232.2" stroke="#747474" stroke-width="0.9" stroke-linecap="round"/>
<line x1="204.6" y1="234.6" x2="205.3" y2="233.4" stroke="#b8b8b8" stroke-width="0.7" stroke-linecap="round"/>
<line x1="201.9" y1="234.5" x2="202.6" y2="233.3" stroke="#b8b8b8" stroke-width="0.7" stroke-linecap="round"/>
<line x1="200.5" y1="232.2" x2="199.8" y2="230.4" stroke="#747474" stroke-width="0.8" stroke-linecap="round"/>
<line x1="200.5" y1="232.2" x2="199.4" y2="233.5" stroke="#747474" stroke-width="0.8" stroke-linecap="round"/>
<line x1="206.3" y1="238.5" x2="204.5" y2="239.9" stroke="#747474" stroke-width="0.9" stroke-linecap="round"/>
<line x1="204.5" y1="239.9" x2="204.5" y2="241.3" stroke="#b8b8b8" stroke-width="0.7" stroke-linecap="round"/>
<line x1="204.5" y1="239.9" x2="203.5" y2="240.8" stroke="#b8b8b8" stroke-width="0.7" stroke-linecap="round"/>
<line x1="204.5" y1="239.9" x2="203.2" y2="239.6" stroke="#b8b8b8" stroke-width="0.7" stroke-linecap="round"/>
<line x1="212.7" y1="231" x2="213.9" y2="228.9" stroke="#747474" stroke-width="0.9" stroke-linecap="round"/>
<line x1="213.9" y1="228.9" x2="213.4" y2="227.7" stroke="#b8b8b8" stroke-width="0.7" stroke-linecap="round"/>
<line x1="213.9" y1="228.9" x2="214.6" y2="227.8" stroke="#b8b8b8" stroke-width="0.7" stroke-linecap="round"/>
<line x1="213.9" y1="228.9" x2="215.2" y2="228.7" stroke="#b8b8b8" stroke-width="0.7" stroke-linecap="round"/>
<line x1="210.9" y1="231" x2="210.4" y2="228.6" stroke="#747474" stroke-width="0.9" stroke-linecap="round"/>
<line x1="210.4" y1="228.6" x2="208.1" y2="227.1" stroke="#747474" stroke-width="0.9" stroke-linecap="round"/>
<line x1="208.1" y1="227.1" x2="208" y2="224.5" stroke="#747474" stroke-width="0.9" stroke-linecap="round"/>
<line x1="210.4" y1="228.6" x2="211.6" y2="227.9" stroke="#b8b8b8" stroke-width="0.7" stroke-linecap="round"/>
<line x1="208.1" y1="227.1" x2="209.3" y2="226.4" stroke="#b8b8b8" stroke-width="0.7" stroke-linecap="round"/>
<line x1="208" y1="224.5" x2="208.3" y2="222.5" stroke="#747474" stroke-width="0.8" stroke-linecap="round"/>
<line x1="208" y1="224.5" x2="206.4" y2="225" stroke="#747474" stroke-width="0.8" stroke-linecap="round"/>
<circle cx="214.5" cy="237.5" r="0.6" fill="#3a4fd0"/>
<circle cx="211.8" cy="240.6" r="0.6" fill="#3a4fd0"/>
<circle cx="209.1" cy="237.5" r="0.6" fill="#3a4fd0"/>
<circle cx="211.8" cy="234.4" r="0.6" fill="#3a4fd0"/>
<circle cx="211.8" cy="237.5" r="0.7" fill="#dde84a"/>
<circle cx="199.8" cy="230.4" r="0.9" fill="#e8281e"/>
<circle cx="199.4" cy="233.5" r="0.9" fill="#e8281e"/>
<circle cx="208.3" cy="222.5" r="0.9" fill="#e8281e"/>
<circle cx="206.4" cy="225" r="0.9" fill="#e8281e"/>
<line x1="223.5" y1="255.1" x2="224.8" y2="256.8" stroke="#747474" stroke-width="1" stroke-linecap="round"/>
<line x1="223.5" y1="255.1" x2="224.8" y2="253.4" stroke="#747474" stroke-width="1" stroke-linecap="round"/>
<line x1="224.8" y1="256.8" x2="226.9" y2="256.1" stroke="#747474" stroke-width="1" stroke-linecap="round"/>
<line x1="224.8" y1="253.4" x2="226.9" y2="254.1" stroke="#747474" stroke-width="1" stroke-linecap="round"/>
<line x1="226.9" y1="256.1" x2="226.9" y2="254.1" stroke="#747474" stroke-width="1" stroke-linecap="round"/>
<line x1="224.8" y1="256.8" x2="224.1" y2="258.8" stroke="#747474" stroke-width="1" stroke-linecap="round"/>
<line x1="224.1" y1="258.8" x2="222.1" y2="259.5" stroke="#747474" stroke-width="1" stroke-linecap="round"/>
<line x1="220.4" y1="258.2" x2="218.7" y2="259.5" stroke="#747474" stroke-width="1" stroke-linecap="round"/>
<line x1="220.4" y1="258.2" x2="222.1" y2="259.5" stroke="#747474" stroke-width="1" stroke-linecap="round"/>
<line x1="218.7" y1="259.5" x2="219.4" y2="261.6" stroke="#747474" stroke-width="1" stroke-linecap="round"/>
<line x1="222.1" y1="259.5" x2="221.4" y2="261.6" stroke="#747474" stroke-width="1" stroke-linecap="round"/>
<line x1="219.4" y1="261.6" x2="221.4" y2="261.6" stroke="#747474" stroke-width="1" stroke-linecap="round"/>
<line x1="218.7" y1="259.5" x2="216.7" y2="258.8" stroke="#747474" stroke-width="1" stroke-linecap="round"/>
<line x1="216.7" y1="258.8" x2="216" y2="256.8" stroke="#747474" stroke-width="1" stroke-linecap="round"/>
<line x1="217.3" y1="255.1" x2="216" y2="253.4" stroke="#747474" stroke-width="1" stroke-linecap="round"/>
<line x1="217.3" y1="255.1" x2="216" y2="256.8" stroke="#747474" stroke-width="1" stroke-linecap="round"/>
<line x1="216" y1="253.4" x2="213.9" y2="254.1" stroke="#747474" stroke-width="1" stroke-linecap="round"/>
<line x1="216" y1="256.8" x2="213.9" y2="256.1" stroke="#747474" stroke-width="1" stroke-linecap="round"/>
<line x1="213.9" y1="254.1" x2="213.9" y2="256.1" stroke="#747474" stroke-width="1" stroke-linecap="round"/>
<line x1="216" y1="253.4" x2="216.7" y2="251.4" stroke="#747474" stroke-width="1" stroke-linecap="round"/>
<line x1="216.7" y1="251.4" x2="218.7" y2="250.7" stroke="#747474" stroke-width="1" stroke-linecap="round"/>
<line x1="220.4" y1="252" x2="222.1" y2="250.7" stroke="#747474" stroke-width="1" stroke-linecap="round"/>
<line x1="220.4" y1="252" x2="218.7" y2="250.7" stroke="#747474" stroke-width="1" stroke-linecap="round"/>
<line x1="222.1" y1="250.7" x2="221.4" y2="248.6" stroke="#747474" stroke-width="1" stroke-linecap="round"/>
<line x1="218.7" y1="250.7" x2="219.4" y2="248.6" stroke="#747474" stroke-width="1" stroke-linecap="round"/>
<line x1="221.4" y1="248.6" x2="219.4" y2="248.6" stroke="#747474" stroke-width="1" stroke-linecap="round"/>
<line x1="222.1" y1="250.7" x2="224.1" y2="251.4" stroke="#747474" stroke-width="1" stroke-linecap="round"/>
<line x1="224.1" y1="251.4" x2="224.8" y2="253.4" stroke="#747474" stroke-width="1" stroke-linecap="round"/>
<circle cx="213.9" cy="256.1" r="0.7" fill="#7a7a7a"/>
<circle cx="221.4" cy="261.6" r="0.7" fill="#7a7a7a"/>
<circle cx="216.7" cy="251.4" r="0.7" fill="#7a7a7a"/>
<circle cx="223.5" cy="255.1" r="0.7" fill="#7a7a7a"/>
<circle cx="226.9" cy="256.1" r="0.7" fill="#7a7a7a"/>
<circle cx="220.4" cy="252" r="0.7" fill="#7a7a7a"/>
<circle cx="224.1" cy="251.4" r="0.7" fill="#7a7a7a"/>
<circle cx="216.7" cy="258.8" r="0.7" fill="#7a7a7a"/>
<circle cx="213.9" cy="254.1" r="0.7" fill="#7a7a7a"/>
<circle cx="217.3" cy="255.1" r="0.7" fill="#7a7a7a"/>
<circle cx="224.1" cy="258.8" r="0.7" fill="#7a7a7a"/>
<circle cx="220.4" cy="258.2" r="0.7" fill="#7a7a7a"/>
<circle cx="226.9" cy="254.1" r="0.7" fill="#7a7a7a"/>
<circle cx="219.4" cy="248.6" r="0.7" fill="#7a7a7a"/>
<circle cx="218.7" cy="259.5" r="0.7" fill="#7a7a7a"/>
<circle cx="218.7" cy="250.7" r="0.7" fill="#7a7a7a"/>
<circle cx="221.4" cy="248.6" r="0.7" fill="#7a7a7a"/>
<circle cx="224.8" cy="253.4" r="0.7" fill="#7a7a7a"/>
<circle cx="224.8" cy="256.8" r="0.7" fill="#7a7a7a"/>
<circle cx="219.4" cy="261.6" r="0.7" fill="#7a7a7a"/>
<circle cx="222.1" cy="259.5" r="0.7" fill="#7a7a7a"/>
<circle cx="222.1" cy="250.7" r="0.7" fill="#7a7a7a"/>
<circle cx="216" cy="253.4" r="0.7" fill="#7a7a7a"/>
<circle cx="216" cy="256.8" r="0.7" fill="#7a7a7a"/>
<line x1="224.1" y1="258.8" x2="225.6" y2="260.3" stroke="#b8b8b8" stroke-width="0.8" stroke-linecap="round"/>
<line x1="216.7" y1="258.8" x2="215.2" y2="260.3" stroke="#b8b8b8" stroke-width="0.8" stroke-linecap="round"/>
<line x1="216.7" y1="251.4" x2="215.2" y2="249.9" stroke="#b8b8b8" stroke-width="0.8" stroke-linecap="round"/>
<line x1="224.1" y1="251.4" x2="225.6" y2="249.9" stroke="#b8b8b8" stroke-width="0.8" stroke-linecap="round"/>
<line x1="226.9" y1="256.1" x2="228.9" y2="257.7" stroke="#747474" stroke-width="0.9" stroke-linecap="round"/>
<line x1="228.9" y1="257.7" x2="231.5" y2="257.3" stroke="#747474" stroke-width="0.9" stroke-linecap="round"/>
<line x1="231.5" y1="257.3" x2="233.3" y2="259.3" stroke="#747474" stroke-width="0.9" stroke-linecap="round"/>
<line x1="228.9" y1="257.7" x2="228.4" y2="259" stroke="#b8b8b8" stroke-width="0.7" stroke-linecap="round"/>
<line x1="231.5" y1="257.3" x2="231" y2="258.6" stroke="#b8b8b8" stroke-width="0.7" stroke-linecap="round"/>
<line x1="233.3" y1="259.3" x2="234.3" y2="261" stroke="#747474" stroke-width="0.8" stroke-linecap="round"/>
<line x1="233.3" y1="259.3" x2="234.2" y2="257.8" stroke="#747474" stroke-width="0.8" stroke-linecap="round"/>
<line x1="226.9" y1="254.1" x2="229.4" y2="254" stroke="#747474" stroke-width="0.9" stroke-linecap="round"/>
<line x1="229.4" y1="254" x2="231.2" y2="252" stroke="#747474" stroke-width="0.9" stroke-linecap="round"/>
<line x1="231.2" y1="252" x2="233.8" y2="252.3" stroke="#747474" stroke-width="0.9" stroke-linecap="round"/>
<line x1="229.4" y1="254" x2="229.9" y2="255.3" stroke="#b8b8b8" stroke-width="0.7" stroke-linecap="round"/>
<line x1="231.2" y1="252" x2="231.7" y2="253.3" stroke="#b8b8b8" stroke-width="0.7" stroke-linecap="round"/>
<line x1="233.8" y1="252.3" x2="235.7" y2="253" stroke="#747474" stroke-width="0.8" stroke-linecap="round"/>
<line x1="233.8" y1="252.3" x2="233.6" y2="250.7" stroke="#747474" stroke-width="0.8" stroke-linecap="round"/>
<line x1="219.4" y1="261.6" x2="218" y2="263.7" stroke="#747474" stroke-width="0.9" stroke-linecap="round"/>
<line x1="218" y1="263.7" x2="218.4" y2="265" stroke="#b8b8b8" stroke-width="0.7" stroke-linecap="round"/>
<line x1="218" y1="263.7" x2="217.2" y2="264.8" stroke="#b8b8b8" stroke-width="0.7" stroke-linecap="round"/>
<line x1="218" y1="263.7" x2="216.6" y2="263.8" stroke="#b8b8b8" stroke-width="0.7" stroke-linecap="round"/>
<line x1="221.4" y1="261.6" x2="222.8" y2="263.7" stroke="#747474" stroke-width="0.9" stroke-linecap="round"/>
<line x1="222.8" y1="263.7" x2="224.2" y2="263.8" stroke="#b8b8b8" stroke-width="0.7" stroke-linecap="round"/>
<line x1="222.8" y1="263.7" x2="223.6" y2="264.8" stroke="#b8b8b8" stroke-width="0.7" stroke-linecap="round"/>
<line x1="222.8" y1="263.7" x2="222.4" y2="265" stroke="#b8b8b8" stroke-width="0.7" stroke-linecap="round"/>
<line x1="213.9" y1="254.1" x2="211.8" y2="252.7" stroke="#747474" stroke-width="0.9" stroke-linecap="round"/>
<line x1="211.8" y1="252.7" x2="210.5" y2="253.1" stroke="#b8b8b8" stroke-width="0.7" stroke-linecap="round"/>
<line x1="211.8" y1="252.7" x2="210.7" y2="251.9" stroke="#b8b8b8" stroke-width="0.7" stroke-linecap="round"/>
<line x1="211.8" y1="252.7" x2="211.7" y2="251.3" stroke="#b8b8b8" stroke-width="0.7" stroke-linecap="round"/>
<line x1="213.9" y1="256.1" x2="211.8" y2="257.5" stroke="#747474" stroke-width="0.9" stroke-linecap="round"/>
<line x1="211.8" y1="257.5" x2="211.7" y2="258.9" stroke="#b8b8b8" stroke-width="0.7" stroke-linecap="round"/>
<line x1="211.8" y1="257.5" x2="210.7" y2="258.3" stroke="#b8b8b8" stroke-width="0.7" stroke-linecap="round"/>
<line x1="211.8" y1="257.5" x2="210.5" y2="257.1" stroke="#b8b8b8" stroke-width="0.7" stroke-linecap="round"/>
<line x1="221.4" y1="248.6" x2="222.8" y2="246.5" stroke="#747474" stroke-width="0.9" stroke-linecap="round"/>
<line x1="222.8" y1="246.5" x2="222.4" y2="245.2" stroke="#b8b8b8" stroke-width="0.7" stroke-linecap="round"/>
<line x1="222.8" y1="246.5" x2="223.6" y2="245.4" stroke="#b8b8b8" stroke-width="0.7" stroke-linecap="round"/>
<line x1="222.8" y1="246.5" x2="224.2" y2="246.4" stroke="#b8b8b8" stroke-width="0.7" stroke-linecap="round"/>
<line x1="219.4" y1="248.6" x2="218" y2="246.5" stroke="#747474" stroke-width="0.9" stroke-linecap="round"/>
<line x1="218" y1="246.5" x2="216.6" y2="246.4" stroke="#b8b8b8" stroke-width="0.7" stroke-linecap="round"/>
<line x1="218" y1="246.5" x2="217.2" y2="245.4" stroke="#b8b8b8" stroke-width="0.7" stroke-linecap="round"/>
<line x1="218" y1="246.5" x2="218.4" y2="245.2" stroke="#b8b8b8" stroke-width="0.7" stroke-linecap="round"/>
<circle cx="223.5" cy="255.1" r="0.6" fill="#3a4fd0"/>
<circle cx="220.4" cy="258.2" r="0.6" fill="#3a4fd0"/>
<circle cx="217.3" cy="255.1" r="0.6" fill="#3a4fd0"/>
<circle cx="220.4" cy="252" r="0.6" fill="#3a4fd0"/>
<circle cx="220.4" cy="255.1" r="0.7" fill="#dde84a"/>
<circle cx="234.3" cy="261" r="0.9" fill="#e8281e"/>
<circle cx="234.2" cy="257.8" r="0.9" fill="#e8281e"/>
<circle cx="235.7" cy="253" r="0.9" fill="#e8281e"/>
<circle cx="233.6" cy="250.7" r="0.9" fill="#e8281e"/>
<line x1="150" y1="260" x2="176" y2="262" stroke="#9c9c9c" stroke-width="4" stroke-linecap="round" opacity="0.65"/>
<polyline points="150.1,258.6 151.9,259.5 153.8,258.9 155.6,259.8 157.5,259.2 159.3,260.1 161.3,259.5 163,260.4 165,259.7 166.8,260.7 168.7,260 170.5,261 172.4,260.3 174.2,261.3 176.1,260.6" fill="none" stroke="#666666" stroke-width="1" stroke-linejoin="round"/>
<polyline points="150,260.6 151.7,261.5 153.7,260.9 155.5,261.8 157.4,261.2 159.2,262.1 161.1,261.5 162.9,262.4 164.8,261.7 166.6,262.7 168.5,262 170.3,263 172.2,262.3 174,263.3 176,262.6" fill="none" stroke="#666666" stroke-width="1" stroke-linejoin="round"/>
<line x1="151.8" y1="258.7" x2="151" y2="257.3" stroke="#747474" stroke-width="0.8" stroke-linecap="round"/>
<line x1="153" y1="261.6" x2="152.9" y2="263.8" stroke="#747474" stroke-width="0.8" stroke-linecap="round"/>
<line x1="155.8" y1="259" x2="156.4" y2="257.8" stroke="#747474" stroke-width="0.8" stroke-linecap="round"/>
<line x1="156.5" y1="261.9" x2="157.4" y2="263.9" stroke="#747474" stroke-width="0.8" stroke-linecap="round"/>
<line x1="159.1" y1="259.3" x2="160.2" y2="257.5" stroke="#b8b8b8" stroke-width="0.8" stroke-linecap="round"/>
<line x1="161.8" y1="262.3" x2="160.6" y2="263.7" stroke="#747474" stroke-width="0.8" stroke-linecap="round"/>
<line x1="162.5" y1="259.6" x2="162.1" y2="257.7" stroke="#b8b8b8" stroke-width="0.8" stroke-linecap="round"/>
<line x1="165.2" y1="262.6" x2="164.2" y2="264.2" stroke="#b8b8b8" stroke-width="0.8" stroke-linecap="round"/>
<line x1="166.7" y1="259.9" x2="167.6" y2="258.4" stroke="#b8b8b8" stroke-width="0.8" stroke-linecap="round"/>
<line x1="168.3" y1="262.8" x2="166.8" y2="264.5" stroke="#747474" stroke-width="0.8" stroke-linecap="round"/>
<line x1="171.3" y1="260.2" x2="171.5" y2="258.7" stroke="#747474" stroke-width="0.8" stroke-linecap="round"/>
<line x1="173.1" y1="263.2" x2="172.2" y2="264.2" stroke="#747474" stroke-width="0.8" stroke-linecap="round"/>
<line x1="174.9" y1="260.5" x2="175.3" y2="258.4" stroke="#747474" stroke-width="0.8" stroke-linecap="round"/>
<circle cx="160.4" cy="260.8" r="0.7" fill="#3a4fd0"/>
<circle cx="165.6" cy="261.2" r="0.7" fill="#3a4fd0"/>
<line x1="150" y1="260" x2="148.3" y2="262.4" stroke="#747474" stroke-width="0.9" stroke-linecap="round"/>
<line x1="148.3" y1="262.4" x2="147" y2="263.9" stroke="#747474" stroke-width="0.9" stroke-linecap="round"/>
<circle cx="146.9" cy="265.2" r="1" fill="#e8281e"/>
<circle cx="145.6" cy="263.8" r="1" fill="#e8281e"/>
<line x1="150" y1="260" x2="148.7" y2="257.4" stroke="#747474" stroke-width="0.9" stroke-linecap="round"/>
<line x1="148.7" y1="257.4" x2="147.6" y2="255.7" stroke="#747474" stroke-width="0.9" stroke-linecap="round"/>
<circle cx="147.7" cy="254.4" r="1" fill="#e8281e"/>
<circle cx="146.2" cy="255.6" r="1" fill="#e8281e"/>
<line x1="143.5" y1="265.5" x2="173" y2="267.8" stroke="#9c9c9c" stroke-width="4" stroke-linecap="round" opacity="0.65"/>
<polyline points="143.6,264.1 145.4,265 147.3,264.4 149.1,265.3 151,264.7 152.8,265.6 154.7,265 156.5,265.9 158.4,265.3 160.1,266.2 162,265.5 163.8,266.5 165.7,265.8 167.5,266.8 169.4,266.1 171.2,267.1 173.1,266.4" fill="none" stroke="#666666" stroke-width="1" stroke-linejoin="round"/>
<polyline points="143.5,266.1 145.2,267 147.1,266.4 148.9,267.3 150.8,266.7 152.6,267.6 154.5,267 156.3,267.9 158.2,267.2 160,268.2 161.9,267.5 163.7,268.5 165.6,267.8 167.4,268.8 169.3,268.1 171,269.1 173,268.4" fill="none" stroke="#666666" stroke-width="1" stroke-linejoin="round"/>
<line x1="145.1" y1="264.2" x2="145.3" y2="262.9" stroke="#747474" stroke-width="0.8" stroke-linecap="round"/>
<line x1="147.6" y1="267.2" x2="148.2" y2="269.5" stroke="#747474" stroke-width="0.8" stroke-linecap="round"/>
<line x1="148" y1="264.4" x2="148.9" y2="262.9" stroke="#b8b8b8" stroke-width="0.8" stroke-linecap="round"/>
<line x1="150.7" y1="267.5" x2="151.3" y2="269" stroke="#b8b8b8" stroke-width="0.8" stroke-linecap="round"/>
<line x1="154.1" y1="264.9" x2="154.7" y2="263.6" stroke="#747474" stroke-width="0.8" stroke-linecap="round"/>
<line x1="154.3" y1="267.7" x2="153.7" y2="269.2" stroke="#747474" stroke-width="0.8" stroke-linecap="round"/>
<line x1="157" y1="265.1" x2="156.1" y2="263.4" stroke="#b8b8b8" stroke-width="0.8" stroke-linecap="round"/>
<line x1="158.3" y1="268.1" x2="158.8" y2="269.9" stroke="#747474" stroke-width="0.8" stroke-linecap="round"/>
<line x1="161.6" y1="265.5" x2="161.4" y2="263.7" stroke="#747474" stroke-width="0.8" stroke-linecap="round"/>
<line x1="163.5" y1="268.5" x2="164" y2="269.9" stroke="#b8b8b8" stroke-width="0.8" stroke-linecap="round"/>
<line x1="166.1" y1="265.9" x2="167.1" y2="264.3" stroke="#b8b8b8" stroke-width="0.8" stroke-linecap="round"/>
<line x1="168.5" y1="268.9" x2="167.8" y2="270.3" stroke="#b8b8b8" stroke-width="0.8" stroke-linecap="round"/>
<line x1="170.9" y1="266.2" x2="170.6" y2="264.6" stroke="#b8b8b8" stroke-width="0.8" stroke-linecap="round"/>
<line x1="171.2" y1="269.1" x2="169.8" y2="271" stroke="#747474" stroke-width="0.8" stroke-linecap="round"/>
<circle cx="155.3" cy="266.4" r="0.7" fill="#3a4fd0"/>
<circle cx="161.2" cy="266.9" r="0.7" fill="#3a4fd0"/>
<line x1="173" y1="267.8" x2="174.3" y2="270.4" stroke="#747474" stroke-width="0.9" stroke-linecap="round"/>
<line x1="174.3" y1="270.4" x2="175.4" y2="272.1" stroke="#747474" stroke-width="0.9" stroke-linecap="round"/>
<circle cx="175.3" cy="273.4" r="1" fill="#e8281e"/>
<circle cx="176.8" cy="272.2" r="1" fill="#e8281e"/>
<line x1="173" y1="267.8" x2="174.7" y2="265.4" stroke="#747474" stroke-width="0.9" stroke-linecap="round"/>
<line x1="174.7" y1="265.4" x2="176" y2="263.9" stroke="#747474" stroke-width="0.9" stroke-linecap="round"/>
<circle cx="176.1" cy="262.6" r="1" fill="#e8281e"/>
<circle cx="177.4" cy="264" r="1" fill="#e8281e"/>
<line x1="143" y1="274.5" x2="163" y2="278.8" stroke="#9c9c9c" stroke-width="4" stroke-linecap="round" opacity="0.65"/>
<polyline points="143.3,273.1 144.9,274.3 146.9,273.9 148.6,275.1 150.6,274.7 152.2,275.9 154.2,275.5 155.9,276.6 157.8,276.3 159.5,277.4 161.5,277 163.1,278.2" fill="none" stroke="#666666" stroke-width="1" stroke-linejoin="round"/>
<polyline points="142.9,275.1 144.5,276.3 146.5,275.9 148.2,277 150.1,276.7 151.8,277.8 153.8,277.4 155.4,278.6 157.4,278.2 159.1,279.4 161.1,279 162.7,280.2" fill="none" stroke="#666666" stroke-width="1" stroke-linejoin="round"/>
<line x1="143.9" y1="273.3" x2="143.6" y2="271.2" stroke="#747474" stroke-width="0.8" stroke-linecap="round"/>
<line x1="146.2" y1="276.6" x2="145.2" y2="278.1" stroke="#747474" stroke-width="0.8" stroke-linecap="round"/>
<line x1="148.1" y1="274.2" x2="147.2" y2="272.3" stroke="#747474" stroke-width="0.8" stroke-linecap="round"/>
<line x1="150" y1="277.4" x2="148.2" y2="278.9" stroke="#747474" stroke-width="0.8" stroke-linecap="round"/>
<line x1="152.3" y1="275.1" x2="152.8" y2="273" stroke="#b8b8b8" stroke-width="0.8" stroke-linecap="round"/>
<line x1="153.2" y1="278.1" x2="153.7" y2="279.4" stroke="#747474" stroke-width="0.8" stroke-linecap="round"/>
<line x1="156.4" y1="275.9" x2="156.9" y2="274.2" stroke="#747474" stroke-width="0.8" stroke-linecap="round"/>
<line x1="157.2" y1="279" x2="156.2" y2="280.2" stroke="#b8b8b8" stroke-width="0.8" stroke-linecap="round"/>
<line x1="161" y1="276.9" x2="160.4" y2="275.6" stroke="#b8b8b8" stroke-width="0.8" stroke-linecap="round"/>
<line x1="161.6" y1="279.9" x2="161.7" y2="282.1" stroke="#747474" stroke-width="0.8" stroke-linecap="round"/>
<circle cx="151" cy="276.2" r="0.7" fill="#3a4fd0"/>
<circle cx="155" cy="277.1" r="0.7" fill="#3a4fd0"/>
<line x1="163" y1="278.8" x2="163.9" y2="281.6" stroke="#747474" stroke-width="0.9" stroke-linecap="round"/>
<line x1="163.9" y1="281.6" x2="164.8" y2="283.4" stroke="#747474" stroke-width="0.9" stroke-linecap="round"/>
<circle cx="164.5" cy="284.6" r="1" fill="#e8281e"/>
<circle cx="166.1" cy="283.7" r="1" fill="#e8281e"/>
<line x1="163" y1="278.8" x2="165" y2="276.7" stroke="#747474" stroke-width="0.9" stroke-linecap="round"/>
<line x1="165" y1="276.7" x2="166.5" y2="275.4" stroke="#747474" stroke-width="0.9" stroke-linecap="round"/>
<circle cx="166.8" cy="274.1" r="1" fill="#e8281e"/>
<circle cx="167.9" cy="275.7" r="1" fill="#e8281e"/>
<line x1="162" y1="298" x2="187" y2="297.5" stroke="#9c9c9c" stroke-width="4" stroke-linecap="round" opacity="0.65"/>
<polyline points="162,296.6 163.9,297.4 165.8,296.5 167.8,297.3 169.7,296.4 171.6,297.2 173.5,296.4 175.4,297.1 177.4,296.3 179.3,297.1 181.2,296.2 183.1,297 185,296.1 187,296.9" fill="none" stroke="#666666" stroke-width="1" stroke-linejoin="round"/>
<polyline points="162,298.6 164,299.4 165.9,298.5 167.8,299.3 169.7,298.4 171.6,299.2 173.6,298.4 175.5,299.1 177.4,298.3 179.3,299.1 181.2,298.2 183.2,299 185.1,298.1 187,298.9" fill="none" stroke="#666666" stroke-width="1" stroke-linejoin="round"/>
<line x1="163" y1="296.6" x2="163.3" y2="294.8" stroke="#747474" stroke-width="0.8" stroke-linecap="round"/>
<line x1="165.6" y1="299.3" x2="166.6" y2="301.3" stroke="#747474" stroke-width="0.8" stroke-linecap="round"/>
<line x1="167.7" y1="296.5" x2="166.9" y2="294.9" stroke="#747474" stroke-width="0.8" stroke-linecap="round"/>
<line x1="169.3" y1="299.3" x2="168.7" y2="300.4" stroke="#b8b8b8" stroke-width="0.8" stroke-linecap="round"/>
<line x1="171.8" y1="296.4" x2="172.1" y2="294.2" stroke="#747474" stroke-width="0.8" stroke-linecap="round"/>
<line x1="173.7" y1="299.2" x2="172.6" y2="300.6" stroke="#b8b8b8" stroke-width="0.8" stroke-linecap="round"/>
<line x1="175" y1="296.3" x2="175.8" y2="294.2" stroke="#b8b8b8" stroke-width="0.8" stroke-linecap="round"/>
<line x1="178.3" y1="299.1" x2="177.4" y2="300.6" stroke="#b8b8b8" stroke-width="0.8" stroke-linecap="round"/>
<line x1="180.1" y1="296.2" x2="180.8" y2="294.2" stroke="#747474" stroke-width="0.8" stroke-linecap="round"/>
<line x1="182.3" y1="299" x2="182.6" y2="300.3" stroke="#747474" stroke-width="0.8" stroke-linecap="round"/>
<line x1="182.9" y1="296.2" x2="183.2" y2="294.5" stroke="#b8b8b8" stroke-width="0.8" stroke-linecap="round"/>
<line x1="185.5" y1="298.9" x2="185" y2="301.2" stroke="#747474" stroke-width="0.8" stroke-linecap="round"/>
<circle cx="172" cy="297.8" r="0.7" fill="#3a4fd0"/>
<circle cx="177" cy="297.7" r="0.7" fill="#3a4fd0"/>
<line x1="162" y1="298" x2="160.6" y2="300.5" stroke="#747474" stroke-width="0.9" stroke-linecap="round"/>
<line x1="160.6" y1="300.5" x2="159.4" y2="302.2" stroke="#747474" stroke-width="0.9" stroke-linecap="round"/>
<circle cx="159.4" cy="303.5" r="1" fill="#e8281e"/>
<circle cx="158" cy="302.2" r="1" fill="#e8281e"/>
<line x1="162" y1="298" x2="160.5" y2="295.5" stroke="#747474" stroke-width="0.9" stroke-linecap="round"/>
<line x1="160.5" y1="295.5" x2="159.2" y2="294" stroke="#747474" stroke-width="0.9" stroke-linecap="round"/>
<circle cx="159.2" cy="292.7" r="1" fill="#e8281e"/>
<circle cx="157.8" cy="294" r="1" fill="#e8281e"/>
<line x1="157" y1="304.6" x2="181" y2="305" stroke="#9c9c9c" stroke-width="4" stroke-linecap="round" opacity="0.65"/>
<polyline points="157,303.2 158.9,304 160.7,303.3 162.5,304.1 164.4,303.3 166.2,304.2 168.1,303.4 169.9,304.2 171.8,303.4 173.6,304.3 175.5,303.5 177.3,304.3 179.2,303.6 181,304.4" fill="none" stroke="#666666" stroke-width="1" stroke-linejoin="round"/>
<polyline points="157,305.2 158.8,306 160.7,305.3 162.5,306.1 164.4,305.3 166.2,306.2 168.1,305.4 169.9,306.2 171.8,305.4 173.6,306.3 175.5,305.5 177.3,306.3 179.1,305.6 181,306.4" fill="none" stroke="#666666" stroke-width="1" stroke-linejoin="round"/>
<line x1="158.3" y1="303.2" x2="158.5" y2="301.3" stroke="#747474" stroke-width="0.8" stroke-linecap="round"/>
<line x1="160.9" y1="306.1" x2="160.3" y2="308" stroke="#b8b8b8" stroke-width="0.8" stroke-linecap="round"/>
<line x1="162.9" y1="303.3" x2="163.2" y2="302" stroke="#b8b8b8" stroke-width="0.8" stroke-linecap="round"/>
<line x1="163.5" y1="306.1" x2="164.5" y2="307.5" stroke="#747474" stroke-width="0.8" stroke-linecap="round"/>
<line x1="165.8" y1="303.3" x2="165.3" y2="302" stroke="#b8b8b8" stroke-width="0.8" stroke-linecap="round"/>
<line x1="168.1" y1="306.2" x2="166.9" y2="307.6" stroke="#b8b8b8" stroke-width="0.8" stroke-linecap="round"/>
<line x1="171" y1="303.4" x2="171.8" y2="301.6" stroke="#747474" stroke-width="0.8" stroke-linecap="round"/>
<line x1="172.2" y1="306.3" x2="173.4" y2="308" stroke="#b8b8b8" stroke-width="0.8" stroke-linecap="round"/>
<line x1="173.4" y1="303.5" x2="172.6" y2="301.8" stroke="#747474" stroke-width="0.8" stroke-linecap="round"/>
<line x1="176.2" y1="306.3" x2="175.4" y2="307.4" stroke="#747474" stroke-width="0.8" stroke-linecap="round"/>
<line x1="178.1" y1="303.6" x2="177.7" y2="301.6" stroke="#747474" stroke-width="0.8" stroke-linecap="round"/>
<line x1="180.3" y1="306.4" x2="180.8" y2="308.2" stroke="#b8b8b8" stroke-width="0.8" stroke-linecap="round"/>
<circle cx="166.6" cy="304.8" r="0.7" fill="#3a4fd0"/>
<circle cx="171.4" cy="304.8" r="0.7" fill="#3a4fd0"/>
<line x1="181" y1="305" x2="182.5" y2="307.5" stroke="#747474" stroke-width="0.9" stroke-linecap="round"/>
<line x1="182.5" y1="307.5" x2="183.6" y2="309.1" stroke="#747474" stroke-width="0.9" stroke-linecap="round"/>
<circle cx="183.6" cy="310.4" r="1" fill="#e8281e"/>
<circle cx="185" cy="309.2" r="1" fill="#e8281e"/>
<line x1="181" y1="305" x2="182.5" y2="302.5" stroke="#747474" stroke-width="0.9" stroke-linecap="round"/>
<line x1="182.5" y1="302.5" x2="183.8" y2="300.9" stroke="#747474" stroke-width="0.9" stroke-linecap="round"/>
<circle cx="183.8" cy="299.6" r="1" fill="#e8281e"/>
<circle cx="185.2" cy="301" r="1" fill="#e8281e"/>
<line x1="190" y1="244.5" x2="207" y2="257.8" stroke="#9c9c9c" stroke-width="4" stroke-linecap="round" opacity="0.65"/>
<polyline points="190.9,243.4 191.9,245.2 194,245.8 195,247.7 197,248.2 198.1,250.1 200.1,250.7 201.2,252.5 203.2,253.1 204.3,254.9 206.3,255.5 207.4,257.3" fill="none" stroke="#666666" stroke-width="1" stroke-linejoin="round"/>
<polyline points="189.6,245 190.7,246.8 192.7,247.4 193.8,249.2 195.8,249.8 196.9,251.6 198.9,252.2 200,254.1 202,254.6 203,256.5 205.1,257.1 206.1,258.9" fill="none" stroke="#666666" stroke-width="1" stroke-linejoin="round"/>
<line x1="191.4" y1="243.8" x2="191.8" y2="242.6" stroke="#747474" stroke-width="0.8" stroke-linecap="round"/>
<line x1="191.2" y1="247.2" x2="190.2" y2="249.1" stroke="#b8b8b8" stroke-width="0.8" stroke-linecap="round"/>
<line x1="195.5" y1="247" x2="196.8" y2="246.7" stroke="#b8b8b8" stroke-width="0.8" stroke-linecap="round"/>
<line x1="194.5" y1="249.8" x2="193.3" y2="251.7" stroke="#747474" stroke-width="0.8" stroke-linecap="round"/>
<line x1="199.2" y1="249.9" x2="200.2" y2="248.7" stroke="#b8b8b8" stroke-width="0.8" stroke-linecap="round"/>
<line x1="198.8" y1="253.2" x2="197" y2="253.6" stroke="#b8b8b8" stroke-width="0.8" stroke-linecap="round"/>
<line x1="202.1" y1="252.2" x2="203.1" y2="251.2" stroke="#747474" stroke-width="0.8" stroke-linecap="round"/>
<line x1="201.5" y1="255.3" x2="200.6" y2="256.3" stroke="#747474" stroke-width="0.8" stroke-linecap="round"/>
<line x1="205.2" y1="254.6" x2="206.4" y2="253" stroke="#747474" stroke-width="0.8" stroke-linecap="round"/>
<line x1="205.4" y1="258.3" x2="203.9" y2="259.2" stroke="#747474" stroke-width="0.8" stroke-linecap="round"/>
<circle cx="196.8" cy="249.8" r="0.7" fill="#3a4fd0"/>
<circle cx="200.2" cy="252.5" r="0.7" fill="#3a4fd0"/>
<line x1="186" y1="264" x2="188.5" y2="284" stroke="#9c9c9c" stroke-width="4" stroke-linecap="round" opacity="0.65"/>
<polyline points="187.4,263.8 186.8,265.7 187.8,267.5 187.3,269.4 188.3,271.1 187.7,273 188.8,274.7 188.2,276.7 189.2,278.4 188.6,280.3 189.7,282 189.1,283.9" fill="none" stroke="#666666" stroke-width="1" stroke-linejoin="round"/>
<polyline points="185.4,264.1 184.8,266 185.9,267.7 185.3,269.6 186.3,271.3 185.7,273.3 186.8,275 186.2,276.9 187.2,278.6 186.7,280.5 187.7,282.3 187.1,284.2" fill="none" stroke="#666666" stroke-width="1" stroke-linejoin="round"/>
<line x1="187.6" y1="265.6" x2="189.9" y2="266.1" stroke="#747474" stroke-width="0.8" stroke-linecap="round"/>
<line x1="184.9" y1="266.6" x2="182.7" y2="265.9" stroke="#b8b8b8" stroke-width="0.8" stroke-linecap="round"/>
<line x1="188" y1="268.6" x2="189.6" y2="268.8" stroke="#b8b8b8" stroke-width="0.8" stroke-linecap="round"/>
<line x1="185.5" y1="271.3" x2="183.6" y2="270.9" stroke="#747474" stroke-width="0.8" stroke-linecap="round"/>
<line x1="188.5" y1="272.4" x2="190.6" y2="273.5" stroke="#b8b8b8" stroke-width="0.8" stroke-linecap="round"/>
<line x1="185.9" y1="274.4" x2="184.7" y2="275" stroke="#747474" stroke-width="0.8" stroke-linecap="round"/>
<line x1="189" y1="277" x2="190.4" y2="276.9" stroke="#747474" stroke-width="0.8" stroke-linecap="round"/>
<line x1="186.4" y1="278.5" x2="184.4" y2="278.6" stroke="#b8b8b8" stroke-width="0.8" stroke-linecap="round"/>
<line x1="189.5" y1="280.6" x2="191.1" y2="279.7" stroke="#747474" stroke-width="0.8" stroke-linecap="round"/>
<line x1="187" y1="283.6" x2="185.4" y2="285" stroke="#747474" stroke-width="0.8" stroke-linecap="round"/>
<circle cx="187" cy="272" r="0.7" fill="#3a4fd0"/>
<circle cx="187.5" cy="276" r="0.7" fill="#3a4fd0"/>
<line x1="186" y1="264" x2="183.3" y2="262.8" stroke="#747474" stroke-width="0.9" stroke-linecap="round"/>
<line x1="183.3" y1="262.8" x2="181.6" y2="261.8" stroke="#747474" stroke-width="0.9" stroke-linecap="round"/>
<circle cx="180.3" cy="262" r="1" fill="#e8281e"/>
<circle cx="181.4" cy="260.4" r="1" fill="#e8281e"/>
<line x1="186" y1="264" x2="188.3" y2="262.2" stroke="#747474" stroke-width="0.9" stroke-linecap="round"/>
<line x1="188.3" y1="262.2" x2="189.7" y2="260.8" stroke="#747474" stroke-width="0.9" stroke-linecap="round"/>
<circle cx="191" cy="260.7" r="1" fill="#e8281e"/>
<circle cx="189.6" cy="259.4" r="1" fill="#e8281e"/>
<line x1="192" y1="266.5" x2="194" y2="288" stroke="#9c9c9c" stroke-width="4" stroke-linecap="round" opacity="0.65"/>
<polyline points="193.4,266.4 192.8,268.4 193.8,270.3 193.1,272.3 194.1,274.2 193.5,276.2 194.5,278.1 193.9,280.1 194.8,282 194.2,284 195.2,285.9 194.6,287.9" fill="none" stroke="#666666" stroke-width="1" stroke-linejoin="round"/>
<polyline points="191.4,266.6 190.8,268.6 191.8,270.5 191.2,272.5 192.1,274.4 191.5,276.4 192.5,278.3 191.9,280.3 192.9,282.2 192.2,284.2 193.2,286.1 192.6,288.1" fill="none" stroke="#666666" stroke-width="1" stroke-linejoin="round"/>
<line x1="193.5" y1="268" x2="195.5" y2="268.5" stroke="#747474" stroke-width="0.8" stroke-linecap="round"/>
<line x1="190.9" y1="269.7" x2="189.4" y2="269.2" stroke="#747474" stroke-width="0.8" stroke-linecap="round"/>
<line x1="193.9" y1="272" x2="196.2" y2="271.2" stroke="#747474" stroke-width="0.8" stroke-linecap="round"/>
<line x1="191.3" y1="274.6" x2="189.1" y2="275" stroke="#747474" stroke-width="0.8" stroke-linecap="round"/>
<line x1="194.2" y1="275.4" x2="196" y2="273.9" stroke="#747474" stroke-width="0.8" stroke-linecap="round"/>
<line x1="191.7" y1="278.6" x2="189.9" y2="278.3" stroke="#747474" stroke-width="0.8" stroke-linecap="round"/>
<line x1="194.7" y1="280.8" x2="196" y2="280.2" stroke="#b8b8b8" stroke-width="0.8" stroke-linecap="round"/>
<line x1="192" y1="282" x2="190.4" y2="281.7" stroke="#b8b8b8" stroke-width="0.8" stroke-linecap="round"/>
<line x1="195.1" y1="284.3" x2="196.5" y2="283.9" stroke="#b8b8b8" stroke-width="0.8" stroke-linecap="round"/>
<line x1="192.5" y1="286.8" x2="191.1" y2="286.5" stroke="#b8b8b8" stroke-width="0.8" stroke-linecap="round"/>
<circle cx="192.8" cy="275.1" r="0.7" fill="#3a4fd0"/>
<circle cx="193.2" cy="279.4" r="0.7" fill="#3a4fd0"/>
<line x1="205" y1="271" x2="208.5" y2="298" stroke="#9c9c9c" stroke-width="4" stroke-linecap="round" opacity="0.65"/>
<polyline points="206.4,270.8 205.8,272.7 206.9,274.4 206.3,276.3 207.3,278 206.8,279.9 207.8,281.6 207.2,283.5 208.3,285.2 207.7,287.1 208.7,288.8 208.2,290.7 209.2,292.4 208.6,294.3 209.7,296 209.1,297.9" fill="none" stroke="#666666" stroke-width="1" stroke-linejoin="round"/>
<polyline points="204.4,271.1 203.8,273 204.9,274.7 204.3,276.6 205.3,278.3 204.8,280.2 205.8,281.9 205.2,283.8 206.3,285.5 205.7,287.4 206.7,289.1 206.2,291 207.2,292.7 206.6,294.6 207.7,296.3 207.1,298.2" fill="none" stroke="#666666" stroke-width="1" stroke-linejoin="round"/>
<line x1="206.6" y1="272.8" x2="208.7" y2="273.8" stroke="#747474" stroke-width="0.8" stroke-linecap="round"/>
<line x1="204.1" y1="274.9" x2="202.6" y2="275.6" stroke="#747474" stroke-width="0.8" stroke-linecap="round"/>
<line x1="207.2" y1="277" x2="209.2" y2="275.9" stroke="#747474" stroke-width="0.8" stroke-linecap="round"/>
<line x1="204.5" y1="278.2" x2="202.9" y2="278.6" stroke="#747474" stroke-width="0.8" stroke-linecap="round"/>
<line x1="207.5" y1="279.5" x2="209.4" y2="280.1" stroke="#747474" stroke-width="0.8" stroke-linecap="round"/>
<line x1="205.2" y1="283.3" x2="203.6" y2="284.4" stroke="#b8b8b8" stroke-width="0.8" stroke-linecap="round"/>
<line x1="208.2" y1="285.1" x2="209.4" y2="284" stroke="#747474" stroke-width="0.8" stroke-linecap="round"/>
<line x1="205.6" y1="286.9" x2="204" y2="285.9" stroke="#b8b8b8" stroke-width="0.8" stroke-linecap="round"/>
<line x1="208.8" y1="289.1" x2="210.1" y2="289" stroke="#b8b8b8" stroke-width="0.8" stroke-linecap="round"/>
<line x1="206.1" y1="290" x2="204.7" y2="289.7" stroke="#b8b8b8" stroke-width="0.8" stroke-linecap="round"/>
<line x1="209.1" y1="291.7" x2="210.7" y2="290.6" stroke="#b8b8b8" stroke-width="0.8" stroke-linecap="round"/>
<line x1="206.7" y1="295.4" x2="205.4" y2="296.2" stroke="#b8b8b8" stroke-width="0.8" stroke-linecap="round"/>
<line x1="209.8" y1="296.8" x2="211.8" y2="296.2" stroke="#747474" stroke-width="0.8" stroke-linecap="round"/>
<circle cx="206.4" cy="281.8" r="0.7" fill="#3a4fd0"/>
<circle cx="207.1" cy="287.2" r="0.7" fill="#3a4fd0"/>
<line x1="208.5" y1="298" x2="206.2" y2="299.8" stroke="#747474" stroke-width="0.9" stroke-linecap="round"/>
<line x1="206.2" y1="299.8" x2="204.8" y2="301.2" stroke="#747474" stroke-width="0.9" stroke-linecap="round"/>
<circle cx="203.5" cy="301.4" r="1" fill="#e8281e"/>
<circle cx="205" cy="302.6" r="1" fill="#e8281e"/>
<line x1="208.5" y1="298" x2="211.2" y2="299.2" stroke="#747474" stroke-width="0.9" stroke-linecap="round"/>
<line x1="211.2" y1="299.2" x2="212.9" y2="300.2" stroke="#747474" stroke-width="0.9" stroke-linecap="round"/>
<circle cx="214.2" cy="300" r="1" fill="#e8281e"/>
<circle cx="213.1" cy="301.5" r="1" fill="#e8281e"/>
<line x1="210.5" y1="269" x2="213" y2="296" stroke="#9c9c9c" stroke-width="4" stroke-linecap="round" opacity="0.65"/>
<polyline points="211.9,268.9 211.3,270.7 212.2,272.5 211.6,274.3 212.6,276.1 211.9,277.9 212.9,279.7 212.3,281.5 213.2,283.3 212.6,285.1 213.6,286.9 212.9,288.7 213.9,290.5 213.3,292.3 214.2,294.1 213.6,295.9" fill="none" stroke="#666666" stroke-width="1" stroke-linejoin="round"/>
<polyline points="209.9,269.1 209.3,270.9 210.2,272.7 209.6,274.5 210.6,276.3 209.9,278.1 210.9,279.9 210.3,281.7 211.2,283.5 210.6,285.3 211.6,287.1 210.9,288.9 211.9,290.7 211.3,292.5 212.2,294.3 211.6,296.1" fill="none" stroke="#666666" stroke-width="1" stroke-linejoin="round"/>
<line x1="212.1" y1="270.9" x2="214.1" y2="270.7" stroke="#747474" stroke-width="0.8" stroke-linecap="round"/>
<line x1="209.4" y1="272.7" x2="207.6" y2="271.7" stroke="#747474" stroke-width="0.8" stroke-linecap="round"/>
<line x1="212.4" y1="274.8" x2="214.3" y2="275.6" stroke="#b8b8b8" stroke-width="0.8" stroke-linecap="round"/>
<line x1="209.8" y1="277.1" x2="207.9" y2="275.9" stroke="#b8b8b8" stroke-width="0.8" stroke-linecap="round"/>
<line x1="212.8" y1="278.3" x2="214.7" y2="278.9" stroke="#747474" stroke-width="0.8" stroke-linecap="round"/>
<line x1="210.1" y1="280.4" x2="208.7" y2="280" stroke="#b8b8b8" stroke-width="0.8" stroke-linecap="round"/>
<line x1="213.1" y1="282.1" x2="214.4" y2="281.4" stroke="#747474" stroke-width="0.8" stroke-linecap="round"/>
<line x1="210.5" y1="284.3" x2="208.7" y2="285.8" stroke="#747474" stroke-width="0.8" stroke-linecap="round"/>
<line x1="213.5" y1="285.7" x2="215.4" y2="286.3" stroke="#747474" stroke-width="0.8" stroke-linecap="round"/>
<line x1="210.8" y1="287.9" x2="209" y2="287.9" stroke="#b8b8b8" stroke-width="0.8" stroke-linecap="round"/>
<line x1="213.8" y1="289.7" x2="215" y2="289" stroke="#747474" stroke-width="0.8" stroke-linecap="round"/>
<line x1="211.3" y1="292.4" x2="209.2" y2="292.4" stroke="#747474" stroke-width="0.8" stroke-linecap="round"/>
<line x1="214.2" y1="294.2" x2="215.6" y2="293.3" stroke="#b8b8b8" stroke-width="0.8" stroke-linecap="round"/>
<circle cx="211.5" cy="279.8" r="0.7" fill="#3a4fd0"/>
<circle cx="212" cy="285.2" r="0.7" fill="#3a4fd0"/>
<line x1="225.5" y1="266" x2="228.5" y2="293" stroke="#9c9c9c" stroke-width="4" stroke-linecap="round" opacity="0.65"/>
<polyline points="226.9,265.8 226.3,267.7 227.3,269.4 226.7,271.3 227.7,273 227.1,274.9 228.1,276.6 227.5,278.5 228.5,280.2 227.9,282.1 228.9,283.8 228.3,285.7 229.3,287.4 228.7,289.3 229.7,291 229.1,292.9" fill="none" stroke="#666666" stroke-width="1" stroke-linejoin="round"/>
<polyline points="224.9,266.1 224.3,268 225.3,269.7 224.7,271.6 225.7,273.3 225.1,275.2 226.1,276.9 225.5,278.8 226.5,280.5 225.9,282.4 226.9,284.1 226.3,286 227.3,287.7 226.7,289.6 227.7,291.3 227.1,293.2" fill="none" stroke="#666666" stroke-width="1" stroke-linejoin="round"/>
<line x1="227" y1="266.5" x2="228.8" y2="267.1" stroke="#747474" stroke-width="0.8" stroke-linecap="round"/>
<line x1="224.4" y1="268.8" x2="222.4" y2="267.7" stroke="#747474" stroke-width="0.8" stroke-linecap="round"/>
<line x1="227.5" y1="271.1" x2="229.8" y2="270.8" stroke="#747474" stroke-width="0.8" stroke-linecap="round"/>
<line x1="224.8" y1="272.5" x2="222.6" y2="271.7" stroke="#747474" stroke-width="0.8" stroke-linecap="round"/>
<line x1="227.9" y1="275.3" x2="229.6" y2="274.5" stroke="#b8b8b8" stroke-width="0.8" stroke-linecap="round"/>
<line x1="225.4" y1="277.9" x2="224.3" y2="279" stroke="#747474" stroke-width="0.8" stroke-linecap="round"/>
<line x1="228.4" y1="279.1" x2="230.5" y2="279.5" stroke="#b8b8b8" stroke-width="0.8" stroke-linecap="round"/>
<line x1="225.8" y1="281" x2="224.4" y2="281.5" stroke="#747474" stroke-width="0.8" stroke-linecap="round"/>
<line x1="228.9" y1="284.3" x2="230.8" y2="284.4" stroke="#b8b8b8" stroke-width="0.8" stroke-linecap="round"/>
<line x1="226.2" y1="285.4" x2="224.7" y2="286.4" stroke="#b8b8b8" stroke-width="0.8" stroke-linecap="round"/>
<line x1="229.2" y1="286.6" x2="231.2" y2="287.4" stroke="#b8b8b8" stroke-width="0.8" stroke-linecap="round"/>
<line x1="226.7" y1="289.1" x2="225.1" y2="288.8" stroke="#747474" stroke-width="0.8" stroke-linecap="round"/>
<line x1="229.8" y1="291.8" x2="231.3" y2="292.7" stroke="#b8b8b8" stroke-width="0.8" stroke-linecap="round"/>
<circle cx="226.7" cy="276.8" r="0.7" fill="#3a4fd0"/>
<circle cx="227.3" cy="282.2" r="0.7" fill="#3a4fd0"/>
<line x1="228.5" y1="293" x2="226.2" y2="294.8" stroke="#747474" stroke-width="0.9" stroke-linecap="round"/>
<line x1="226.2" y1="294.8" x2="224.7" y2="296.1" stroke="#747474" stroke-width="0.9" stroke-linecap="round"/>
<circle cx="223.4" cy="296.3" r="1" fill="#e8281e"/>
<circle cx="224.9" cy="297.5" r="1" fill="#e8281e"/>
<line x1="228.5" y1="293" x2="231.2" y2="294.2" stroke="#747474" stroke-width="0.9" stroke-linecap="round"/>
<line x1="231.2" y1="294.2" x2="232.9" y2="295.2" stroke="#747474" stroke-width="0.9" stroke-linecap="round"/>
<circle cx="234.2" cy="295.1" r="1" fill="#e8281e"/>
<circle cx="233" cy="296.6" r="1" fill="#e8281e"/>
<line x1="232" y1="269" x2="234.5" y2="293" stroke="#9c9c9c" stroke-width="4" stroke-linecap="round" opacity="0.65"/>
<polyline points="233.4,268.9 232.8,270.8 233.8,272.5 233.2,274.5 234.2,276.2 233.6,278.2 234.5,279.9 233.9,281.9 234.9,283.6 234.3,285.6 235.3,287.3 234.7,289.2 235.7,291 235.1,292.9" fill="none" stroke="#666666" stroke-width="1" stroke-linejoin="round"/>
<polyline points="231.4,269.1 230.8,271 231.8,272.8 231.2,274.7 232.2,276.4 231.6,278.4 232.6,280.1 232,282.1 232.9,283.8 232.3,285.8 233.3,287.5 232.7,289.5 233.7,291.2 233.1,293.1" fill="none" stroke="#666666" stroke-width="1" stroke-linejoin="round"/>
<line x1="233.6" y1="270.5" x2="235.1" y2="271" stroke="#747474" stroke-width="0.8" stroke-linecap="round"/>
<line x1="231" y1="272.9" x2="229.7" y2="272.5" stroke="#747474" stroke-width="0.8" stroke-linecap="round"/>
<line x1="233.9" y1="273.9" x2="235.5" y2="272.9" stroke="#b8b8b8" stroke-width="0.8" stroke-linecap="round"/>
<line x1="231.3" y1="275.8" x2="230" y2="276.8" stroke="#747474" stroke-width="0.8" stroke-linecap="round"/>
<line x1="234.3" y1="277.8" x2="236.3" y2="277.2" stroke="#b8b8b8" stroke-width="0.8" stroke-linecap="round"/>
<line x1="231.7" y1="279.4" x2="230" y2="279.7" stroke="#b8b8b8" stroke-width="0.8" stroke-linecap="round"/>
<line x1="234.8" y1="282.5" x2="236.2" y2="281.1" stroke="#747474" stroke-width="0.8" stroke-linecap="round"/>
<line x1="232.2" y1="284.5" x2="230.7" y2="284.6" stroke="#747474" stroke-width="0.8" stroke-linecap="round"/>
<line x1="235.1" y1="284.9" x2="237.3" y2="285.7" stroke="#747474" stroke-width="0.8" stroke-linecap="round"/>
<line x1="232.6" y1="288.4" x2="231.1" y2="288.8" stroke="#747474" stroke-width="0.8" stroke-linecap="round"/>
<line x1="235.5" y1="289.5" x2="237.2" y2="289" stroke="#b8b8b8" stroke-width="0.8" stroke-linecap="round"/>
<line x1="233" y1="291.7" x2="231.5" y2="291.3" stroke="#747474" stroke-width="0.8" stroke-linecap="round"/>
<circle cx="233" cy="278.6" r="0.7" fill="#3a4fd0"/>
<circle cx="233.5" cy="283.4" r="0.7" fill="#3a4fd0"/>
<line x1="232" y1="269" x2="229.4" y2="267.8" stroke="#747474" stroke-width="0.9" stroke-linecap="round"/>
<line x1="229.4" y1="267.8" x2="227.6" y2="266.7" stroke="#747474" stroke-width="0.9" stroke-linecap="round"/>
<circle cx="226.3" cy="266.9" r="1" fill="#e8281e"/>
<circle cx="227.5" cy="265.3" r="1" fill="#e8281e"/>
<line x1="232" y1="269" x2="234.3" y2="267.2" stroke="#747474" stroke-width="0.9" stroke-linecap="round"/>
<line x1="234.3" y1="267.2" x2="235.8" y2="265.9" stroke="#747474" stroke-width="0.9" stroke-linecap="round"/>
<circle cx="237.1" cy="265.8" r="1" fill="#e8281e"/>
<circle cx="235.7" cy="264.5" r="1" fill="#e8281e"/>
<line x1="191" y1="297" x2="204" y2="316" stroke="#9c9c9c" stroke-width="4" stroke-linecap="round" opacity="0.65"/>
<polyline points="192.2,296.2 192.6,298.2 194.3,299.4 194.7,301.4 196.5,302.5 196.9,304.6 198.7,305.7 199.1,307.7 200.8,308.9 201.2,310.9 203,312 203.4,314.1 205.2,315.2" fill="none" stroke="#666666" stroke-width="1" stroke-linejoin="round"/>
<polyline points="190.5,297.3 190.9,299.4 192.7,300.5 193.1,302.5 194.8,303.7 195.3,305.7 197,306.8 197.4,308.9 199.2,310 199.6,312 201.3,313.2 201.8,315.2 203.5,316.3" fill="none" stroke="#666666" stroke-width="1" stroke-linejoin="round"/>
<line x1="193.2" y1="297.7" x2="195" y2="297.2" stroke="#747474" stroke-width="0.8" stroke-linecap="round"/>
<line x1="192" y1="300.9" x2="191.3" y2="302.1" stroke="#747474" stroke-width="0.8" stroke-linecap="round"/>
<line x1="195.3" y1="300.8" x2="196.3" y2="299" stroke="#747474" stroke-width="0.8" stroke-linecap="round"/>
<line x1="194.3" y1="304.3" x2="193.6" y2="306.1" stroke="#747474" stroke-width="0.8" stroke-linecap="round"/>
<line x1="197.1" y1="303.5" x2="198.2" y2="302.5" stroke="#747474" stroke-width="0.8" stroke-linecap="round"/>
<line x1="196.8" y1="307.9" x2="195.3" y2="308.9" stroke="#b8b8b8" stroke-width="0.8" stroke-linecap="round"/>
<line x1="200.1" y1="307.8" x2="201.7" y2="306.3" stroke="#747474" stroke-width="0.8" stroke-linecap="round"/>
<line x1="198.6" y1="310.6" x2="197.6" y2="311.5" stroke="#b8b8b8" stroke-width="0.8" stroke-linecap="round"/>
<line x1="202.7" y1="311.6" x2="204.7" y2="310.8" stroke="#b8b8b8" stroke-width="0.8" stroke-linecap="round"/>
<line x1="200.6" y1="313.5" x2="199.4" y2="314.7" stroke="#b8b8b8" stroke-width="0.8" stroke-linecap="round"/>
<line x1="204.2" y1="313.7" x2="205.6" y2="312.8" stroke="#b8b8b8" stroke-width="0.8" stroke-linecap="round"/>
<circle cx="196.2" cy="304.6" r="0.7" fill="#3a4fd0"/>
<circle cx="198.8" cy="308.4" r="0.7" fill="#3a4fd0"/>
<line x1="183.8" y1="244.9" x2="183.8" y2="243.1" stroke="#747474" stroke-width="1" stroke-linecap="round"/>
<line x1="183.8" y1="243.1" x2="185.4" y2="242.1" stroke="#747474" stroke-width="1" stroke-linecap="round"/>
<line x1="185.4" y1="242.1" x2="185.4" y2="240.3" stroke="#747474" stroke-width="1" stroke-linecap="round"/>
<line x1="183.8" y1="243.1" x2="184.9" y2="243.7" stroke="#b8b8b8" stroke-width="0.8" stroke-linecap="round"/>
<line x1="185.4" y1="242.1" x2="184.2" y2="241.5" stroke="#b8b8b8" stroke-width="0.8" stroke-linecap="round"/>
<circle cx="186.8" cy="239.6" r="1.1" fill="#e8281e"/>
<circle cx="184.3" cy="239.5" r="1.1" fill="#e8281e"/>
<line x1="167.8" y1="279.1" x2="169.3" y2="280" stroke="#747474" stroke-width="1" stroke-linecap="round"/>
<line x1="169.3" y1="280" x2="169.4" y2="281.9" stroke="#747474" stroke-width="1" stroke-linecap="round"/>
<line x1="169.4" y1="281.9" x2="170.9" y2="282.8" stroke="#747474" stroke-width="1" stroke-linecap="round"/>
<line x1="169.3" y1="280" x2="168.2" y2="280.7" stroke="#b8b8b8" stroke-width="0.8" stroke-linecap="round"/>
<line x1="169.4" y1="281.9" x2="170.5" y2="281.2" stroke="#b8b8b8" stroke-width="0.8" stroke-linecap="round"/>
<circle cx="170.8" cy="284.4" r="1.1" fill="#e8281e"/>
<circle cx="172.2" cy="282.3" r="1.1" fill="#e8281e"/>
<line x1="175.2" y1="280.4" x2="174.6" y2="278.7" stroke="#747474" stroke-width="1" stroke-linecap="round"/>
<line x1="174.6" y1="278.7" x2="175.8" y2="277.3" stroke="#747474" stroke-width="1" stroke-linecap="round"/>
<line x1="175.8" y1="277.3" x2="175.2" y2="275.5" stroke="#747474" stroke-width="1" stroke-linecap="round"/>
<line x1="174.6" y1="278.7" x2="175.9" y2="278.9" stroke="#b8b8b8" stroke-width="0.8" stroke-linecap="round"/>
<line x1="175.8" y1="277.3" x2="174.5" y2="277.1" stroke="#b8b8b8" stroke-width="0.8" stroke-linecap="round"/>
<circle cx="176.3" cy="274.4" r="1.1" fill="#e8281e"/>
<circle cx="173.9" cy="275.1" r="1.1" fill="#e8281e"/>
<line x1="172.8" y1="286.5" x2="174.6" y2="286.2" stroke="#747474" stroke-width="1" stroke-linecap="round"/>
<line x1="174.6" y1="286.2" x2="175.8" y2="287.6" stroke="#747474" stroke-width="1" stroke-linecap="round"/>
<line x1="175.8" y1="287.6" x2="177.6" y2="287.3" stroke="#747474" stroke-width="1" stroke-linecap="round"/>
<line x1="174.6" y1="286.2" x2="174.1" y2="287.4" stroke="#b8b8b8" stroke-width="0.8" stroke-linecap="round"/>
<line x1="175.8" y1="287.6" x2="176.2" y2="286.3" stroke="#b8b8b8" stroke-width="0.8" stroke-linecap="round"/>
<circle cx="178.5" cy="288.5" r="1.1" fill="#e8281e"/>
<circle cx="178.2" cy="286.1" r="1.1" fill="#e8281e"/>
<line x1="194.6" y1="261.2" x2="196.3" y2="260.6" stroke="#747474" stroke-width="1" stroke-linecap="round"/>
<line x1="196.3" y1="260.6" x2="197.7" y2="261.8" stroke="#747474" stroke-width="1" stroke-linecap="round"/>
<line x1="197.7" y1="261.8" x2="199.5" y2="261.2" stroke="#747474" stroke-width="1" stroke-linecap="round"/>
<line x1="196.3" y1="260.6" x2="196.1" y2="261.9" stroke="#b8b8b8" stroke-width="0.8" stroke-linecap="round"/>
<line x1="197.7" y1="261.8" x2="197.9" y2="260.5" stroke="#b8b8b8" stroke-width="0.8" stroke-linecap="round"/>
<circle cx="200.6" cy="262.3" r="1.1" fill="#e8281e"/>
<circle cx="199.9" cy="259.9" r="1.1" fill="#e8281e"/>
<line x1="214.5" y1="274" x2="216.1" y2="273.1" stroke="#747474" stroke-width="1" stroke-linecap="round"/>
<line x1="216.1" y1="273.1" x2="217.7" y2="274" stroke="#747474" stroke-width="1" stroke-linecap="round"/>
<line x1="217.7" y1="274" x2="219.3" y2="273.1" stroke="#747474" stroke-width="1" stroke-linecap="round"/>
<line x1="216.1" y1="273.1" x2="216.1" y2="274.4" stroke="#b8b8b8" stroke-width="0.8" stroke-linecap="round"/>
<line x1="217.7" y1="274" x2="217.7" y2="272.7" stroke="#b8b8b8" stroke-width="0.8" stroke-linecap="round"/>
<circle cx="220.6" cy="274" r="1.1" fill="#e8281e"/>
<circle cx="219.5" cy="271.8" r="1.1" fill="#e8281e"/>
<line x1="217.5" y1="274" x2="215.9" y2="274.9" stroke="#747474" stroke-width="1" stroke-linecap="round"/>
<line x1="215.9" y1="274.9" x2="214.3" y2="274" stroke="#747474" stroke-width="1" stroke-linecap="round"/>
<line x1="214.3" y1="274" x2="212.7" y2="274.9" stroke="#747474" stroke-width="1" stroke-linecap="round"/>
<line x1="215.9" y1="274.9" x2="215.9" y2="273.6" stroke="#b8b8b8" stroke-width="0.8" stroke-linecap="round"/>
<line x1="214.3" y1="274" x2="214.3" y2="275.3" stroke="#b8b8b8" stroke-width="0.8" stroke-linecap="round"/>
<circle cx="211.4" cy="274" r="1.1" fill="#e8281e"/>
<circle cx="212.5" cy="276.2" r="1.1" fill="#e8281e"/>
<line x1="234.1" y1="270.2" x2="235" y2="268.7" stroke="#747474" stroke-width="1" stroke-linecap="round"/>
<line x1="235" y1="268.7" x2="236.9" y2="268.6" stroke="#747474" stroke-width="1" stroke-linecap="round"/>
<line x1="236.9" y1="268.6" x2="237.8" y2="267.1" stroke="#747474" stroke-width="1" stroke-linecap="round"/>
<line x1="235" y1="268.7" x2="235.7" y2="269.8" stroke="#b8b8b8" stroke-width="0.8" stroke-linecap="round"/>
<line x1="236.9" y1="268.6" x2="236.2" y2="267.5" stroke="#b8b8b8" stroke-width="0.8" stroke-linecap="round"/>
<circle cx="239.4" cy="267.2" r="1.1" fill="#e8281e"/>
<circle cx="237.3" cy="265.8" r="1.1" fill="#e8281e"/>
<line x1="216.5" y1="297" x2="218.1" y2="296.1" stroke="#747474" stroke-width="1" stroke-linecap="round"/>
<line x1="218.1" y1="296.1" x2="219.7" y2="297" stroke="#747474" stroke-width="1" stroke-linecap="round"/>
<line x1="219.7" y1="297" x2="221.3" y2="296.1" stroke="#747474" stroke-width="1" stroke-linecap="round"/>
<line x1="218.1" y1="296.1" x2="218.1" y2="297.4" stroke="#b8b8b8" stroke-width="0.8" stroke-linecap="round"/>
<line x1="219.7" y1="297" x2="219.7" y2="295.7" stroke="#b8b8b8" stroke-width="0.8" stroke-linecap="round"/>
<circle cx="222.6" cy="297" r="1.1" fill="#e8281e"/>
<circle cx="221.5" cy="294.8" r="1.1" fill="#e8281e"/>
<line x1="222.6" y1="296.8" x2="224" y2="295.6" stroke="#747474" stroke-width="1" stroke-linecap="round"/>
<line x1="224" y1="295.6" x2="225.7" y2="296.2" stroke="#747474" stroke-width="1" stroke-linecap="round"/>
<line x1="225.7" y1="296.2" x2="227.1" y2="295.1" stroke="#747474" stroke-width="1" stroke-linecap="round"/>
<line x1="224" y1="295.6" x2="224.2" y2="296.9" stroke="#b8b8b8" stroke-width="0.8" stroke-linecap="round"/>
<line x1="225.7" y1="296.2" x2="225.5" y2="294.9" stroke="#b8b8b8" stroke-width="0.8" stroke-linecap="round"/>
<circle cx="228.6" cy="295.7" r="1.1" fill="#e8281e"/>
<circle cx="227.1" cy="293.7" r="1.1" fill="#e8281e"/>
<line x1="194.6" y1="298.8" x2="196" y2="297.6" stroke="#747474" stroke-width="1" stroke-linecap="round"/>
<line x1="196" y1="297.6" x2="197.7" y2="298.2" stroke="#747474" stroke-width="1" stroke-linecap="round"/>
<line x1="197.7" y1="298.2" x2="199.1" y2="297.1" stroke="#747474" stroke-width="1" stroke-linecap="round"/>
<line x1="196" y1="297.6" x2="196.2" y2="298.9" stroke="#b8b8b8" stroke-width="0.8" stroke-linecap="round"/>
<line x1="197.7" y1="298.2" x2="197.5" y2="296.9" stroke="#b8b8b8" stroke-width="0.8" stroke-linecap="round"/>
<circle cx="200.6" cy="297.7" r="1.1" fill="#e8281e"/>
<circle cx="199.1" cy="295.7" r="1.1" fill="#e8281e"/>
<line x1="202.8" y1="314.1" x2="204.3" y2="315" stroke="#747474" stroke-width="1" stroke-linecap="round"/>
<line x1="204.3" y1="315" x2="204.4" y2="316.9" stroke="#747474" stroke-width="1" stroke-linecap="round"/>
<line x1="204.4" y1="316.9" x2="205.9" y2="317.8" stroke="#747474" stroke-width="1" stroke-linecap="round"/>
<line x1="204.3" y1="315" x2="203.2" y2="315.7" stroke="#b8b8b8" stroke-width="0.8" stroke-linecap="round"/>
<line x1="204.4" y1="316.9" x2="205.5" y2="316.2" stroke="#b8b8b8" stroke-width="0.8" stroke-linecap="round"/>
<circle cx="205.8" cy="319.4" r="1.1" fill="#e8281e"/>
<circle cx="207.2" cy="317.3" r="1.1" fill="#e8281e"/>
<line x1="205.2" y1="234.9" x2="203.7" y2="234" stroke="#747474" stroke-width="1" stroke-linecap="round"/>
<line x1="203.7" y1="234" x2="203.6" y2="232.1" stroke="#747474" stroke-width="1" stroke-linecap="round"/>
<line x1="203.6" y1="232.1" x2="202.1" y2="231.2" stroke="#747474" stroke-width="1" stroke-linecap="round"/>
<line x1="203.7" y1="234" x2="204.8" y2="233.3" stroke="#b8b8b8" stroke-width="0.8" stroke-linecap="round"/>
<line x1="203.6" y1="232.1" x2="202.5" y2="232.8" stroke="#b8b8b8" stroke-width="0.8" stroke-linecap="round"/>
<circle cx="202.2" cy="229.6" r="1.1" fill="#e8281e"/>
<circle cx="200.8" cy="231.7" r="1.1" fill="#e8281e"/>
<line x1="161.5" y1="293" x2="159.9" y2="293.9" stroke="#747474" stroke-width="1" stroke-linecap="round"/>
<line x1="159.9" y1="293.9" x2="158.3" y2="293" stroke="#747474" stroke-width="1" stroke-linecap="round"/>
<line x1="158.3" y1="293" x2="156.7" y2="293.9" stroke="#747474" stroke-width="1" stroke-linecap="round"/>
<line x1="159.9" y1="293.9" x2="159.9" y2="292.6" stroke="#b8b8b8" stroke-width="0.8" stroke-linecap="round"/>
<line x1="158.3" y1="293" x2="158.3" y2="294.3" stroke="#b8b8b8" stroke-width="0.8" stroke-linecap="round"/>
<circle cx="155.4" cy="293" r="1.1" fill="#e8281e"/>
<circle cx="156.5" cy="295.2" r="1.1" fill="#e8281e"/>
<line x1="182.8" y1="306.1" x2="184.3" y2="307" stroke="#747474" stroke-width="1" stroke-linecap="round"/>
<line x1="184.3" y1="307" x2="184.4" y2="308.9" stroke="#747474" stroke-width="1" stroke-linecap="round"/>
<line x1="184.4" y1="308.9" x2="185.9" y2="309.8" stroke="#747474" stroke-width="1" stroke-linecap="round"/>
<line x1="184.3" y1="307" x2="183.2" y2="307.7" stroke="#b8b8b8" stroke-width="0.8" stroke-linecap="round"/>
<line x1="184.4" y1="308.9" x2="185.5" y2="308.2" stroke="#b8b8b8" stroke-width="0.8" stroke-linecap="round"/>
<circle cx="185.8" cy="311.4" r="1.1" fill="#e8281e"/>
<circle cx="187.2" cy="309.3" r="1.1" fill="#e8281e"/>
<line x1="176.6" y1="251.2" x2="178.3" y2="250.6" stroke="#747474" stroke-width="1" stroke-linecap="round"/>
<line x1="178.3" y1="250.6" x2="179.7" y2="251.8" stroke="#747474" stroke-width="1" stroke-linecap="round"/>
<line x1="179.7" y1="251.8" x2="181.5" y2="251.2" stroke="#747474" stroke-width="1" stroke-linecap="round"/>
<line x1="178.3" y1="250.6" x2="178.1" y2="251.9" stroke="#b8b8b8" stroke-width="0.8" stroke-linecap="round"/>
<line x1="179.7" y1="251.8" x2="179.9" y2="250.5" stroke="#b8b8b8" stroke-width="0.8" stroke-linecap="round"/>
<circle cx="182.6" cy="252.3" r="1.1" fill="#e8281e"/>
<circle cx="181.9" cy="249.9" r="1.1" fill="#e8281e"/>
<line x1="147.8" y1="258.4" x2="146.6" y2="257" stroke="#747474" stroke-width="1" stroke-linecap="round"/>
<line x1="146.6" y1="257" x2="147.2" y2="255.3" stroke="#747474" stroke-width="1" stroke-linecap="round"/>
<line x1="147.2" y1="255.3" x2="146.1" y2="253.9" stroke="#747474" stroke-width="1" stroke-linecap="round"/>
<line x1="146.6" y1="257" x2="147.9" y2="256.8" stroke="#b8b8b8" stroke-width="0.8" stroke-linecap="round"/>
<line x1="147.2" y1="255.3" x2="145.9" y2="255.5" stroke="#b8b8b8" stroke-width="0.8" stroke-linecap="round"/>
<circle cx="146.7" cy="252.4" r="1.1" fill="#e8281e"/>
<circle cx="144.7" cy="253.9" r="1.1" fill="#e8281e"/>
<line x1="201.5" y1="276" x2="199.9" y2="276.9" stroke="#747474" stroke-width="1" stroke-linecap="round"/>
<line x1="199.9" y1="276.9" x2="198.3" y2="276" stroke="#747474" stroke-width="1" stroke-linecap="round"/>
<line x1="198.3" y1="276" x2="196.7" y2="276.9" stroke="#747474" stroke-width="1" stroke-linecap="round"/>
<line x1="199.9" y1="276.9" x2="199.9" y2="275.6" stroke="#b8b8b8" stroke-width="0.8" stroke-linecap="round"/>
<line x1="198.3" y1="276" x2="198.3" y2="277.3" stroke="#b8b8b8" stroke-width="0.8" stroke-linecap="round"/>
<circle cx="195.4" cy="276" r="1.1" fill="#e8281e"/>
<circle cx="196.5" cy="278.2" r="1.1" fill="#e8281e"/>
<line x1="195.5" y1="287" x2="197.1" y2="286.1" stroke="#747474" stroke-width="1" stroke-linecap="round"/>
<line x1="197.1" y1="286.1" x2="198.7" y2="287" stroke="#747474" stroke-width="1" stroke-linecap="round"/>
<line x1="198.7" y1="287" x2="200.3" y2="286.1" stroke="#747474" stroke-width="1" stroke-linecap="round"/>
<line x1="197.1" y1="286.1" x2="197.1" y2="287.4" stroke="#b8b8b8" stroke-width="0.8" stroke-linecap="round"/>
<line x1="198.7" y1="287" x2="198.7" y2="285.7" stroke="#b8b8b8" stroke-width="0.8" stroke-linecap="round"/>
<circle cx="201.6" cy="287" r="1.1" fill="#e8281e"/>
<circle cx="200.5" cy="284.8" r="1.1" fill="#e8281e"/>
</g>
</svg></body></html>
